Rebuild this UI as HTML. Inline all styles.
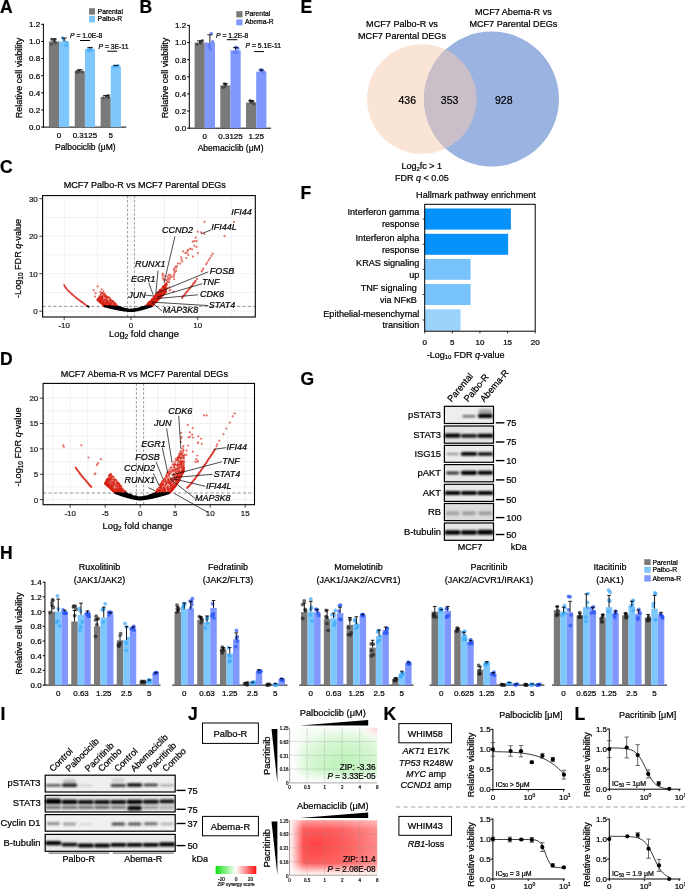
<!DOCTYPE html>
<html><head><meta charset="utf-8"><style>
html,body{margin:0;padding:0;background:#fff;}
svg{display:block;will-change:transform;}
text{font-family:"Liberation Sans", sans-serif;stroke:#000;stroke-width:0.22px;}
</style></head><body>
<svg width="685" height="890" viewBox="0 0 685 890">
<rect width="685" height="890" fill="#fff"/>
<text x="0" y="12.7" font-size="17.5" font-weight="bold">A</text>
<line x1="43.4" y1="23.8" x2="43.4" y2="127.6" stroke="#000" stroke-width="1"/>
<line x1="42.9" y1="127.1" x2="126.3" y2="127.1" stroke="#000" stroke-width="1"/>
<line x1="41.2" y1="127.1" x2="43.4" y2="127.1" stroke="#000" stroke-width="1"/>
<text x="40.2" y="130" font-size="8" text-anchor="end">0.0</text>
<line x1="41.2" y1="109.97" x2="43.4" y2="109.97" stroke="#000" stroke-width="1"/>
<text x="40.2" y="112.87" font-size="8" text-anchor="end">0.2</text>
<line x1="41.2" y1="92.83" x2="43.4" y2="92.83" stroke="#000" stroke-width="1"/>
<text x="40.2" y="95.73" font-size="8" text-anchor="end">0.4</text>
<line x1="41.2" y1="75.7" x2="43.4" y2="75.7" stroke="#000" stroke-width="1"/>
<text x="40.2" y="78.6" font-size="8" text-anchor="end">0.6</text>
<line x1="41.2" y1="58.56" x2="43.4" y2="58.56" stroke="#000" stroke-width="1"/>
<text x="40.2" y="61.46" font-size="8" text-anchor="end">0.8</text>
<line x1="41.2" y1="41.43" x2="43.4" y2="41.43" stroke="#000" stroke-width="1"/>
<text x="40.2" y="44.33" font-size="8" text-anchor="end">1.0</text>
<line x1="41.2" y1="24.3" x2="43.4" y2="24.3" stroke="#000" stroke-width="1"/>
<text x="40.2" y="27.2" font-size="8" text-anchor="end">1.2</text>
<rect x="48.9" y="41.43" width="10.15" height="85.67" fill="#7a7a7a"/>
<rect x="59.05" y="41.43" width="10.15" height="85.67" fill="#7dc7fd"/>
<circle cx="51.78" cy="39.29" r="1.6" fill="#4a4a4a" fill-opacity="0.85"/>
<circle cx="55.56" cy="42.94" r="1.6" fill="#4a4a4a" fill-opacity="0.85"/>
<circle cx="53.95" cy="41.74" r="1.6" fill="#4a4a4a" fill-opacity="0.85"/>
<circle cx="54.88" cy="39.65" r="1.6" fill="#4a4a4a" fill-opacity="0.85"/>
<circle cx="51.54" cy="44.34" r="1.6" fill="#4a4a4a" fill-opacity="0.85"/>
<line x1="53.98" y1="41.43" x2="53.98" y2="38.86" stroke="#000" stroke-width="0.9"/>
<line x1="51.38" y1="38.86" x2="56.58" y2="38.86" stroke="#000" stroke-width="0.9"/>
<circle cx="66.14" cy="41.98" r="1.6" fill="#52b2f7" fill-opacity="0.85"/>
<circle cx="65.7" cy="45.52" r="1.6" fill="#52b2f7" fill-opacity="0.85"/>
<circle cx="63.8" cy="39.61" r="1.6" fill="#52b2f7" fill-opacity="0.85"/>
<circle cx="62.5" cy="37.77" r="1.6" fill="#52b2f7" fill-opacity="0.85"/>
<circle cx="66.53" cy="45.29" r="1.6" fill="#52b2f7" fill-opacity="0.85"/>
<line x1="64.12" y1="41.43" x2="64.12" y2="38" stroke="#000" stroke-width="0.9"/>
<line x1="61.52" y1="38" x2="66.72" y2="38" stroke="#000" stroke-width="0.9"/>
<text x="59.05" y="138.3" font-size="8" text-anchor="middle">0</text>
<rect x="74.75" y="71.41" width="10.15" height="55.69" fill="#7a7a7a"/>
<rect x="84.9" y="49.14" width="10.15" height="77.96" fill="#7dc7fd"/>
<circle cx="76.98" cy="71.24" r="1.6" fill="#4a4a4a" fill-opacity="0.85"/>
<circle cx="82.46" cy="71.9" r="1.6" fill="#4a4a4a" fill-opacity="0.85"/>
<circle cx="78.12" cy="71.73" r="1.6" fill="#4a4a4a" fill-opacity="0.85"/>
<circle cx="77" cy="72.56" r="1.6" fill="#4a4a4a" fill-opacity="0.85"/>
<circle cx="79.45" cy="71.43" r="1.6" fill="#4a4a4a" fill-opacity="0.85"/>
<line x1="79.83" y1="71.41" x2="79.83" y2="69.7" stroke="#000" stroke-width="0.9"/>
<line x1="77.23" y1="69.7" x2="82.42" y2="69.7" stroke="#000" stroke-width="0.9"/>
<circle cx="88.37" cy="50.25" r="1.6" fill="#52b2f7" fill-opacity="0.85"/>
<circle cx="88.29" cy="49.31" r="1.6" fill="#52b2f7" fill-opacity="0.85"/>
<circle cx="88.71" cy="51.11" r="1.6" fill="#52b2f7" fill-opacity="0.85"/>
<circle cx="92" cy="48.91" r="1.6" fill="#52b2f7" fill-opacity="0.85"/>
<circle cx="90.83" cy="50.43" r="1.6" fill="#52b2f7" fill-opacity="0.85"/>
<line x1="89.98" y1="49.14" x2="89.98" y2="47.43" stroke="#000" stroke-width="0.9"/>
<line x1="87.38" y1="47.43" x2="92.58" y2="47.43" stroke="#000" stroke-width="0.9"/>
<text x="84.9" y="138.3" font-size="8" text-anchor="middle">0.3125</text>
<rect x="100.6" y="97.12" width="10.15" height="29.98" fill="#7a7a7a"/>
<rect x="110.75" y="66.27" width="10.15" height="60.83" fill="#7dc7fd"/>
<circle cx="108.63" cy="95.64" r="1.6" fill="#4a4a4a" fill-opacity="0.85"/>
<circle cx="103.4" cy="97.8" r="1.6" fill="#4a4a4a" fill-opacity="0.85"/>
<circle cx="107" cy="96.25" r="1.6" fill="#4a4a4a" fill-opacity="0.85"/>
<circle cx="108.29" cy="97.44" r="1.6" fill="#4a4a4a" fill-opacity="0.85"/>
<circle cx="107.66" cy="96.42" r="1.6" fill="#4a4a4a" fill-opacity="0.85"/>
<line x1="105.67" y1="97.12" x2="105.67" y2="95.4" stroke="#000" stroke-width="0.9"/>
<line x1="103.08" y1="95.4" x2="108.27" y2="95.4" stroke="#000" stroke-width="0.9"/>
<circle cx="114.65" cy="66.09" r="1.6" fill="#52b2f7" fill-opacity="0.85"/>
<circle cx="118.12" cy="65.56" r="1.6" fill="#52b2f7" fill-opacity="0.85"/>
<circle cx="115.86" cy="66.09" r="1.6" fill="#52b2f7" fill-opacity="0.85"/>
<circle cx="113.03" cy="66.8" r="1.6" fill="#52b2f7" fill-opacity="0.85"/>
<circle cx="117.61" cy="66.45" r="1.6" fill="#52b2f7" fill-opacity="0.85"/>
<line x1="115.83" y1="66.27" x2="115.83" y2="65.42" stroke="#000" stroke-width="0.9"/>
<line x1="113.23" y1="65.42" x2="118.42" y2="65.42" stroke="#000" stroke-width="0.9"/>
<text x="110.75" y="138.3" font-size="8" text-anchor="middle">5</text>
<text x="85.3" y="149.9" font-size="8.5" text-anchor="middle">Palbociclib (μM)</text>
<text x="21.5" y="78" font-size="9" text-anchor="middle" transform="rotate(-90 21.5 78)">Relative cell viability</text>
<rect x="89" y="8.2" width="6" height="6.4" fill="#7a7a7a"/>
<rect x="89" y="15.8" width="6" height="6.6" fill="#7dc7fd"/>
<text x="97.6" y="13.8" font-size="6.8">Parental</text>
<text x="97.6" y="21" font-size="6.8">Palbo-R</text>
<text x="70" y="38" font-size="6.8"><tspan font-style="italic">P</tspan> = 1.0E-8</text>
<line x1="80" y1="40.5" x2="90.1" y2="40.5" stroke="#000" stroke-width="1"/>
<text x="98.5" y="49" font-size="6.8"><tspan font-style="italic">P</tspan> = 3E-11</text>
<line x1="107.3" y1="51.2" x2="117.2" y2="51.2" stroke="#000" stroke-width="1"/>
<text x="139.5" y="12.7" font-size="17.5" font-weight="bold">B</text>
<line x1="189.3" y1="24.9" x2="189.3" y2="128.7" stroke="#000" stroke-width="1"/>
<line x1="188.8" y1="128.2" x2="271" y2="128.2" stroke="#000" stroke-width="1"/>
<line x1="187.1" y1="128.2" x2="189.3" y2="128.2" stroke="#000" stroke-width="1"/>
<text x="186.1" y="131.1" font-size="8" text-anchor="end">0.0</text>
<line x1="187.1" y1="111.07" x2="189.3" y2="111.07" stroke="#000" stroke-width="1"/>
<text x="186.1" y="113.97" font-size="8" text-anchor="end">0.2</text>
<line x1="187.1" y1="93.93" x2="189.3" y2="93.93" stroke="#000" stroke-width="1"/>
<text x="186.1" y="96.83" font-size="8" text-anchor="end">0.4</text>
<line x1="187.1" y1="76.8" x2="189.3" y2="76.8" stroke="#000" stroke-width="1"/>
<text x="186.1" y="79.7" font-size="8" text-anchor="end">0.6</text>
<line x1="187.1" y1="59.66" x2="189.3" y2="59.66" stroke="#000" stroke-width="1"/>
<text x="186.1" y="62.56" font-size="8" text-anchor="end">0.8</text>
<line x1="187.1" y1="42.53" x2="189.3" y2="42.53" stroke="#000" stroke-width="1"/>
<text x="186.1" y="45.43" font-size="8" text-anchor="end">1.0</text>
<line x1="187.1" y1="25.4" x2="189.3" y2="25.4" stroke="#000" stroke-width="1"/>
<text x="186.1" y="28.3" font-size="8" text-anchor="end">1.2</text>
<rect x="194.6" y="42.53" width="10.2" height="85.67" fill="#7a7a7a"/>
<rect x="204.8" y="42.53" width="10.2" height="85.67" fill="#8098fd"/>
<circle cx="202.44" cy="40.69" r="1.6" fill="#4a4a4a" fill-opacity="0.85"/>
<circle cx="197.04" cy="44.24" r="1.6" fill="#4a4a4a" fill-opacity="0.85"/>
<circle cx="201.71" cy="41.56" r="1.6" fill="#4a4a4a" fill-opacity="0.85"/>
<circle cx="200.72" cy="43.32" r="1.6" fill="#4a4a4a" fill-opacity="0.85"/>
<circle cx="200.34" cy="42.09" r="1.6" fill="#4a4a4a" fill-opacity="0.85"/>
<line x1="199.7" y1="42.53" x2="199.7" y2="40.82" stroke="#000" stroke-width="0.9"/>
<line x1="197.1" y1="40.82" x2="202.3" y2="40.82" stroke="#000" stroke-width="0.9"/>
<circle cx="210.39" cy="48.85" r="1.6" fill="#5a78f8" fill-opacity="0.85"/>
<circle cx="209.48" cy="44.5" r="1.6" fill="#5a78f8" fill-opacity="0.85"/>
<circle cx="211.24" cy="33.37" r="1.6" fill="#5a78f8" fill-opacity="0.85"/>
<circle cx="212.6" cy="41.71" r="1.6" fill="#5a78f8" fill-opacity="0.85"/>
<circle cx="209.57" cy="46.82" r="1.6" fill="#5a78f8" fill-opacity="0.85"/>
<line x1="209.9" y1="42.53" x2="209.9" y2="34.82" stroke="#000" stroke-width="0.9"/>
<line x1="207.3" y1="34.82" x2="212.5" y2="34.82" stroke="#000" stroke-width="0.9"/>
<text x="204.8" y="139.4" font-size="8" text-anchor="middle">0</text>
<rect x="220.3" y="85.36" width="10.2" height="42.84" fill="#7a7a7a"/>
<rect x="230.5" y="50.24" width="10.2" height="77.96" fill="#8098fd"/>
<circle cx="222.62" cy="87.31" r="1.6" fill="#4a4a4a" fill-opacity="0.85"/>
<circle cx="225.19" cy="86.11" r="1.6" fill="#4a4a4a" fill-opacity="0.85"/>
<circle cx="224.68" cy="83.75" r="1.6" fill="#4a4a4a" fill-opacity="0.85"/>
<circle cx="225.55" cy="85.12" r="1.6" fill="#4a4a4a" fill-opacity="0.85"/>
<circle cx="223.82" cy="87.32" r="1.6" fill="#4a4a4a" fill-opacity="0.85"/>
<line x1="225.4" y1="85.36" x2="225.4" y2="83.65" stroke="#000" stroke-width="0.9"/>
<line x1="222.8" y1="83.65" x2="228" y2="83.65" stroke="#000" stroke-width="0.9"/>
<circle cx="234.55" cy="52.48" r="1.6" fill="#5a78f8" fill-opacity="0.85"/>
<circle cx="235.66" cy="47.16" r="1.6" fill="#5a78f8" fill-opacity="0.85"/>
<circle cx="236.65" cy="52.2" r="1.6" fill="#5a78f8" fill-opacity="0.85"/>
<circle cx="237.96" cy="48.41" r="1.6" fill="#5a78f8" fill-opacity="0.85"/>
<circle cx="237.01" cy="47.73" r="1.6" fill="#5a78f8" fill-opacity="0.85"/>
<line x1="235.6" y1="50.24" x2="235.6" y2="47.67" stroke="#000" stroke-width="0.9"/>
<line x1="233" y1="47.67" x2="238.2" y2="47.67" stroke="#000" stroke-width="0.9"/>
<text x="230.5" y="139.4" font-size="8" text-anchor="middle">0.3125</text>
<rect x="246" y="102.5" width="10.2" height="25.7" fill="#7a7a7a"/>
<rect x="256.2" y="71.66" width="10.2" height="56.54" fill="#8098fd"/>
<circle cx="252.68" cy="101.31" r="1.6" fill="#4a4a4a" fill-opacity="0.85"/>
<circle cx="250.22" cy="100.52" r="1.6" fill="#4a4a4a" fill-opacity="0.85"/>
<circle cx="253.87" cy="103.89" r="1.6" fill="#4a4a4a" fill-opacity="0.85"/>
<circle cx="252.62" cy="101.61" r="1.6" fill="#4a4a4a" fill-opacity="0.85"/>
<circle cx="250.87" cy="102.37" r="1.6" fill="#4a4a4a" fill-opacity="0.85"/>
<line x1="251.1" y1="102.5" x2="251.1" y2="100.79" stroke="#000" stroke-width="0.9"/>
<line x1="248.5" y1="100.79" x2="253.7" y2="100.79" stroke="#000" stroke-width="0.9"/>
<circle cx="261.24" cy="69.91" r="1.6" fill="#5a78f8" fill-opacity="0.85"/>
<circle cx="261.31" cy="70.29" r="1.6" fill="#5a78f8" fill-opacity="0.85"/>
<circle cx="260.42" cy="70.08" r="1.6" fill="#5a78f8" fill-opacity="0.85"/>
<circle cx="263.7" cy="71.82" r="1.6" fill="#5a78f8" fill-opacity="0.85"/>
<circle cx="261.71" cy="69.93" r="1.6" fill="#5a78f8" fill-opacity="0.85"/>
<line x1="261.3" y1="71.66" x2="261.3" y2="69.94" stroke="#000" stroke-width="0.9"/>
<line x1="258.7" y1="69.94" x2="263.9" y2="69.94" stroke="#000" stroke-width="0.9"/>
<text x="256.2" y="139.4" font-size="8" text-anchor="middle">1.25</text>
<text x="230.6" y="150.5" font-size="8.5" text-anchor="middle">Abemaciclib (μM)</text>
<text x="167.5" y="78" font-size="9" text-anchor="middle" transform="rotate(-90 167.5 78)">Relative cell viability</text>
<rect x="236.3" y="11.2" width="6.2" height="6.2" fill="#7a7a7a"/>
<rect x="236.3" y="19.4" width="6.2" height="5.9" fill="#8098fd"/>
<text x="245" y="16.4" font-size="6.8">Parental</text>
<text x="245" y="23.8" font-size="6.8">Abema-R</text>
<text x="216" y="37.7" font-size="6.8"><tspan font-style="italic">P</tspan> = 1.2E-8</text>
<line x1="226.8" y1="39.7" x2="237.3" y2="39.7" stroke="#000" stroke-width="1"/>
<text x="245.5" y="48.4" font-size="6.8"><tspan font-style="italic">P</tspan> = 5.1E-11</text>
<line x1="254.1" y1="51.6" x2="264" y2="51.6" stroke="#000" stroke-width="1"/>
<text x="300.5" y="13" font-size="17.5" font-weight="bold">E</text>
<circle cx="421.8" cy="99" r="54.8" fill="#fae4d6"/>
<circle cx="491.5" cy="99" r="67.5" fill="#9bb3e0"/>
<clipPath id="co"><circle cx="421.8" cy="99" r="54.8"/></clipPath>
<circle cx="491.5" cy="99" r="67.5" fill="#cabec8" clip-path="url(#co)"/>
<text x="402" y="26.9" font-size="9.1" text-anchor="middle">MCF7 Palbo-R vs</text>
<text x="402" y="39.4" font-size="9.1" text-anchor="middle">MCF7 Parental DEGs</text>
<text x="513.4" y="15.4" font-size="9.1" text-anchor="middle">MCF7 Abema-R vs</text>
<text x="513.4" y="26.8" font-size="9.1" text-anchor="middle">MCF7 Parental DEGs</text>
<text x="407.3" y="103.6" font-size="10.5" text-anchor="middle">436</text>
<text x="449.6" y="103.6" font-size="10.5" text-anchor="middle">353</text>
<text x="503.8" y="103.6" font-size="10.5" text-anchor="middle">928</text>
<text x="421.8" y="169.4" font-size="9" text-anchor="middle">Log<tspan font-size="6" dy="1.5">2</tspan><tspan dy="-1.5">fc &gt; 1</tspan></text>
<text x="421.8" y="180.6" font-size="9" text-anchor="middle">FDR <tspan font-style="italic">q</tspan> &lt; 0.05</text>
<text x="300.5" y="198.6" font-size="17.5" font-weight="bold">F</text>
<text x="476" y="197.7" font-size="9.1" text-anchor="middle">Hallmark pathway enrichment</text>
<rect x="424.7" y="208.5" width="86.19" height="21.1" fill="#0592fb"/>
<line x1="422.7" y1="219.05" x2="424.7" y2="219.05" stroke="#000" stroke-width="0.8"/>
<rect x="424.7" y="233.8" width="83.43" height="21" fill="#0592fb"/>
<line x1="422.7" y1="244.3" x2="424.7" y2="244.3" stroke="#000" stroke-width="0.8"/>
<rect x="424.7" y="259" width="45.86" height="20.8" fill="#79c3fc"/>
<line x1="422.7" y1="269.4" x2="424.7" y2="269.4" stroke="#000" stroke-width="0.8"/>
<rect x="424.7" y="284" width="45.86" height="21" fill="#79c3fc"/>
<line x1="422.7" y1="294.5" x2="424.7" y2="294.5" stroke="#000" stroke-width="0.8"/>
<rect x="424.7" y="309.3" width="35.91" height="21.4" fill="#9bd3fd"/>
<line x1="422.7" y1="320" x2="424.7" y2="320" stroke="#000" stroke-width="0.8"/>
<rect x="424.7" y="204.3" width="110.5" height="126.9" fill="none" stroke="#000" stroke-width="1"/>
<line x1="424.7" y1="331.2" x2="424.7" y2="333.4" stroke="#000" stroke-width="0.8"/>
<text x="424.7" y="345.3" font-size="8" text-anchor="middle">0</text>
<line x1="452.32" y1="331.2" x2="452.32" y2="333.4" stroke="#000" stroke-width="0.8"/>
<text x="452.32" y="345.3" font-size="8" text-anchor="middle">5</text>
<line x1="479.95" y1="331.2" x2="479.95" y2="333.4" stroke="#000" stroke-width="0.8"/>
<text x="479.95" y="345.3" font-size="8" text-anchor="middle">10</text>
<line x1="507.58" y1="331.2" x2="507.58" y2="333.4" stroke="#000" stroke-width="0.8"/>
<text x="507.58" y="345.3" font-size="8" text-anchor="middle">15</text>
<line x1="535.2" y1="331.2" x2="535.2" y2="333.4" stroke="#000" stroke-width="0.8"/>
<text x="535.2" y="345.3" font-size="8" text-anchor="middle">20</text>
<text x="465.6" y="357.8" font-size="9" text-anchor="middle">-Log<tspan font-size="6" dy="1.5">10</tspan><tspan dy="-1.5"> FDR </tspan><tspan font-style="italic">q</tspan>-value</text>
<text x="419.3" y="215.4" font-size="9.1" text-anchor="end">Interferon gamma</text>
<text x="419.3" y="227.2" font-size="9.1" text-anchor="end">response</text>
<text x="419.3" y="240.6" font-size="9.1" text-anchor="end">Interferon alpha</text>
<text x="419.3" y="252.6" font-size="9.1" text-anchor="end">response</text>
<text x="419.3" y="265.7" font-size="9.1" text-anchor="end">KRAS signaling</text>
<text x="419.3" y="277.6" font-size="9.1" text-anchor="end">up</text>
<text x="419.3" y="291.1" font-size="9.1" text-anchor="end">TNF&#160;signaling&#160;</text>
<text x="419.3" y="302.5" font-size="9.1" text-anchor="end">via&#160;NFκB&#160;</text>
<text x="419.3" y="316.5" font-size="9.1" text-anchor="end">Epithelial-mesenchymal</text>
<text x="419.3" y="327.9" font-size="9.1" text-anchor="end">transition</text>
<text x="0" y="173" font-size="17.5" font-weight="bold">C</text>
<g>
<line x1="64.2" y1="195.6" x2="64.2" y2="317" stroke="#ebebeb" stroke-width="0.7"/>
<line x1="97.6" y1="195.6" x2="97.6" y2="317" stroke="#ebebeb" stroke-width="0.7"/>
<line x1="131" y1="195.6" x2="131" y2="317" stroke="#ebebeb" stroke-width="0.7"/>
<line x1="164.4" y1="195.6" x2="164.4" y2="317" stroke="#ebebeb" stroke-width="0.7"/>
<line x1="197.8" y1="195.6" x2="197.8" y2="317" stroke="#ebebeb" stroke-width="0.7"/>
<line x1="231.2" y1="195.6" x2="231.2" y2="317" stroke="#ebebeb" stroke-width="0.7"/>
<line x1="42.6" y1="311.2" x2="255.3" y2="311.2" stroke="#ebebeb" stroke-width="0.7"/>
<line x1="42.6" y1="292.45" x2="255.3" y2="292.45" stroke="#ebebeb" stroke-width="0.7"/>
<line x1="42.6" y1="273.7" x2="255.3" y2="273.7" stroke="#ebebeb" stroke-width="0.7"/>
<line x1="42.6" y1="254.95" x2="255.3" y2="254.95" stroke="#ebebeb" stroke-width="0.7"/>
<line x1="42.6" y1="236.2" x2="255.3" y2="236.2" stroke="#ebebeb" stroke-width="0.7"/>
<line x1="42.6" y1="217.45" x2="255.3" y2="217.45" stroke="#ebebeb" stroke-width="0.7"/>
<line x1="42.6" y1="198.7" x2="255.3" y2="198.7" stroke="#ebebeb" stroke-width="0.7"/>
</g>
<text x="144.8" y="187.7" font-size="9.1" text-anchor="middle">MCF7 Palbo-R vs MCF7 Parental DEGs</text>
<line x1="39.3" y1="311.2" x2="42.6" y2="311.2" stroke="#333" stroke-width="0.9"/>
<text x="37.8" y="314.1" font-size="8" text-anchor="end" fill="#3a3a3a" stroke="#3a3a3a">0</text>
<line x1="39.3" y1="273.7" x2="42.6" y2="273.7" stroke="#333" stroke-width="0.9"/>
<text x="37.8" y="276.6" font-size="8" text-anchor="end" fill="#3a3a3a" stroke="#3a3a3a">10</text>
<line x1="39.3" y1="236.2" x2="42.6" y2="236.2" stroke="#333" stroke-width="0.9"/>
<text x="37.8" y="239.1" font-size="8" text-anchor="end" fill="#3a3a3a" stroke="#3a3a3a">20</text>
<line x1="39.3" y1="198.7" x2="42.6" y2="198.7" stroke="#333" stroke-width="0.9"/>
<text x="37.8" y="201.6" font-size="8" text-anchor="end" fill="#3a3a3a" stroke="#3a3a3a">30</text>
<line x1="64.2" y1="317" x2="64.2" y2="320" stroke="#333" stroke-width="0.9"/>
<text x="64.2" y="328.2" font-size="8" text-anchor="middle" fill="#3a3a3a" stroke="#3a3a3a">-10</text>
<line x1="131" y1="317" x2="131" y2="320" stroke="#333" stroke-width="0.9"/>
<text x="131" y="328.2" font-size="8" text-anchor="middle" fill="#3a3a3a" stroke="#3a3a3a">0</text>
<line x1="197.8" y1="317" x2="197.8" y2="320" stroke="#333" stroke-width="0.9"/>
<text x="197.8" y="328.2" font-size="8" text-anchor="middle" fill="#3a3a3a" stroke="#3a3a3a">10</text>
<text x="21.2" y="258.4" font-size="9.1" text-anchor="middle" transform="rotate(-90 21.2 258.4)">-Log<tspan font-size="6.5" dy="1.5">10</tspan><tspan dy="-1.5"> FDR </tspan><tspan font-style="italic">q</tspan>-value</text>
<text x="144" y="337" font-size="9.3" text-anchor="middle">Log<tspan font-size="6.5" dy="1.5">2</tspan><tspan dy="-1.5"> fold change</tspan></text>
<line x1="127.6" y1="195.6" x2="127.6" y2="317" stroke="#555" stroke-width="0.6" stroke-dasharray="2.6,1.8"/>
<line x1="134.4" y1="195.6" x2="134.4" y2="317" stroke="#555" stroke-width="0.6" stroke-dasharray="2.6,1.8"/>
<line x1="42.6" y1="306.4" x2="255.3" y2="306.4" stroke="#666" stroke-width="0.7" stroke-dasharray="3.2,2.2"/>
<path d="M110.19 303.31h0M102.63 303.02h0M108.72 303.08h0M107.95 297.92h0M111.16 299.68h0M108.92 304.4h0M114.16 305.44h0M97.49 299.67h0M110.25 297.8h0M105.49 295.97h0M98.47 300.68h0M113.13 301.46h0M98.21 300.6h0M99.56 301.71h0M99.76 300.56h0M100.95 299.22h0M99.87 302.04h0M103.83 304.36h0M100.55 302.74h0M115.6 305.76h0M101.91 297.85h0M104.04 303.06h0M106.84 306h0M99.39 297.22h0M114.61 306.11h0M101.05 297.24h0M97.48 299.84h0M111.01 305.26h0M101.17 302.1h0M99.16 297.89h0M103.55 296.31h0M107.31 302.09h0M99.98 301.89h0M110.04 299.39h0M104.89 304.3h0M101.78 303.48h0M98.45 300.25h0M108.73 303.07h0M103.86 305.66h0M108.02 301.31h0M105.85 300.85h0M98.93 300.9h0M103.3 303.28h0M109.11 297.39h0M102.36 300.63h0M114.19 305.03h0M110.59 299.67h0M110.21 303.96h0M113.31 301.21h0M110.63 302.4h0M106.39 296.83h0M115.14 303.78h0M104.79 302.64h0M115.11 304.9h0M100.3 302.57h0M103.67 291.07h0M112.4 301.48h0M99.91 301.69h0M110.25 303.33h0M101.35 303.51h0M102.24 296.7h0M113.97 303.38h0M110.64 299.22h0M98.73 299.13h0M115.93 304.89h0M100.42 298.84h0M116.12 304.2h0M97.55 299.81h0M100.29 300.78h0M108.5 302.8h0M105.87 303.39h0M105.52 296.94h0M108.42 301.2h0M101.67 299.65h0M107.1 300.12h0M103.09 305.25h0M102.24 293h0M104.35 297.1h0M103.37 300.6h0M105.64 303.85h0M100.7 301.54h0M110.45 300.75h0M109.88 299.85h0M99.06 300.18h0M102.87 305.04h0M102 292.83h0M98.92 301.34h0M110.58 305.81h0M100.83 300.91h0M97.99 299.28h0M98.39 300.08h0M109.88 305.84h0M103.49 303.42h0M117.29 306.2h0M98.19 299.88h0M110.57 305.79h0M104.92 304.34h0M98.04 300.24h0M101.39 300.65h0M99.53 299.66h0M101.56 303.55h0M98.19 299.76h0M115.65 304.11h0M100.29 302.35h0M157.99 299.6h0M152.06 304.76h0M147.8 304.8h0M151.89 302.34h0M158.46 297.61h0M151.87 300.55h0M159.72 291h0M162.79 288.36h0M150.36 305.44h0M154.87 301.09h0M164.6 293.25h0M152.23 299.13h0M156.45 299.46h0M164.74 285.46h0M166.13 289.79h0M163.18 290.21h0M152.6 300.29h0M158.33 291.51h0M161.54 291.18h0M151.48 306.27h0M163.65 289.73h0M165.25 287.39h0M164.77 292.29h0M163.56 291.32h0M164.22 287.14h0M159.75 296h0M163.74 293.54h0M151.75 302.75h0M152.83 298.76h0M153.79 303.1h0M152.99 301.95h0M155.03 300.13h0M165.52 288.62h0M151.97 301.81h0M154.88 298.82h0M165.59 284.64h0M165.54 289.31h0M148.39 303.65h0M148.34 304.05h0M158.05 297.86h0M159.86 290.45h0M164.64 291.02h0M150.94 303.29h0M152.71 302.61h0M150.68 304.46h0M148.49 303.83h0M152.27 298.81h0M152.48 301.76h0M163.32 286.82h0M152.98 303.5h0M157.71 299.94h0M164.27 285.84h0M164.37 290.69h0M150.82 302.71h0M160.31 293.57h0M163.82 290h0M156.81 300.98h0M165.37 284.92h0M164.43 292.93h0M156.96 298.11h0M154.9 302.33h0M153.08 304.64h0M163.31 291.7h0M163.7 293.87h0M155.98 302.17h0M152.82 301.8h0M159.46 297.32h0M157.35 296.49h0M154.96 300.81h0M161.97 294.17h0M151.91 300.06h0M159.85 298.08h0M148.28 303.01h0M161.02 293.53h0M150.4 303.72h0M156.63 301.35h0M161.01 296.95h0M160.07 297.48h0M148.41 305.87h0M150.68 302.6h0M158.59 294.74h0M148.79 304.21h0M164.55 289.4h0M156.36 300.5h0M161 296.22h0M159.25 298.39h0M158.74 295.21h0M158.83 294.64h0M161.93 296.41h0M166.09 284.66h0M157.69 299.96h0M150.45 301.14h0M158 295.87h0M165.12 288.01h0M165.03 290.44h0M151.7 304.35h0M161.29 290.68h0M160.61 297.24h0M151.07 301.13h0M158.59 294.78h0M153.4 303.23h0M149.62 305.87h0M161.49 295.57h0M164.54 291.02h0M158.51 299.61h0M151.99 302.96h0M162.98 291.15h0M161.96 296.03h0M147.57 304.35h0M150.32 304.5h0M150.22 303.87h0M158.54 296.03h0M163.14 287.73h0M163.34 293.45h0M146.19 306.02h0M163.26 292.71h0M148.76 303.99h0M147.41 306.04h0M154.41 303.01h0M153.59 299.57h0M164.81 291.25h0M153.34 297.62h0M152.89 300.99h0M159.78 293.98h0M158.53 299.25h0M161.11 296.27h0M153.4 302.72h0M161.49 294.37h0M165.13 284.52h0M166.24 289.64h0M153.2 304.83h0M159.46 293.3h0M151.8 299.23h0M153.97 296.57h0M150.82 303.36h0M150.66 301.8h0M148.06 306.05h0M146.69 305.53h0M153.03 302.54h0M148.81 303.99h0M147.64 303.74h0M157.35 297.26h0M150.86 303.18h0M158.03 295.51h0M150.25 302.39h0M165.24 288.69h0M156.69 293.43h0M155.8 302.08h0M154.58 295.92h0M164.05 290.8h0M157.04 294.21h0M152.27 305.84h0M160.25 297.49h0M152.56 301.04h0M165.34 288.32h0M165.93 284.01h0M158.43 291.6h0M159.35 298.62h0M148.65 306.13h0M149.98 305.59h0M159.63 297.91h0M150.1 306.21h0M156.23 299.18h0M147.56 305.09h0M166.01 290.74h0M154.5 299.16h0M159.8 296.97h0M149.31 301.8h0M154.95 299.97h0M149.45 305.49h0M150.98 303.76h0M160.88 295.29h0M161.31 296.02h0M149.06 302.26h0M158.07 297.33h0M149.91 305.98h0M165.18 289.06h0M152.42 305.33h0M154.67 300.92h0M157.72 299.94h0M154.38 303.31h0" stroke="#d6180a" stroke-opacity="0.65" stroke-width="1.7" stroke-linecap="round" fill="none"/>
<path d="M111.81 302.79h0M104.26 304.78h0M112.51 305.92h0M115.68 306.29h0M105.99 304.91h0M104.95 299.93h0M100.56 302.76h0M103.18 303.3h0M97.78 299.76h0M114.25 302.58h0M110.29 300.27h0M114.83 303.56h0M111.3 305.49h0M109.65 304.16h0M99.57 301.68h0M111.79 303.31h0M101.88 298.43h0M100.93 300.03h0M104.98 300.51h0M105.93 296.8h0M99.81 301.78h0M102.24 296.28h0M100.21 299.66h0M100.56 302.09h0M103.69 292.94h0M99.43 301.79h0M101.82 302.96h0M111.6 301.36h0M104.51 299.56h0M98.61 300.8h0M103.32 294.9h0M103.15 304.85h0M105.32 306.1h0M103.1 301.93h0M97.52 299.8h0M107.65 303.7h0M106.96 305.72h0M117.04 306.16h0M107.59 305.65h0M98.72 300.75h0M101.88 303.9h0M108.47 306.24h0M106.45 298.79h0M103.54 305.25h0M105.33 305.89h0M111.3 304.37h0M98.48 299.5h0M100.51 295.59h0M106.48 295.75h0M105.32 295.84h0M100.21 301.94h0M100.6 294.39h0M112.18 306.13h0M106.33 302.76h0M103.23 303.95h0M111.37 302.71h0M99.05 300.9h0M117.7 305.81h0M102.65 300.19h0M106.87 300.46h0M97.84 300.24h0M107.06 301.38h0M117.11 305.51h0M101.02 302.65h0M111.17 306.21h0M102.54 303.75h0M102.17 293.18h0M106.5 304.62h0M98.9 299.74h0M100.01 300.89h0M108.34 303.24h0M104.79 305.84h0M106.78 303.67h0M103.17 305.19h0M112.7 306.24h0M98.38 300.58h0M100.19 299.56h0M97.66 299.87h0M118.11 306.31h0M98.89 301.13h0M106.09 301.65h0M107.66 303.68h0M111.67 305.31h0M101.53 297.84h0M113.45 305.8h0M108.95 303.11h0M107.44 304.05h0M99.61 301.58h0M111.8 303.88h0M103.7 305.87h0M103.38 302.95h0M97.84 298.79h0M101.83 304.01h0M100.67 302.62h0M106.99 301.01h0M106.49 306.22h0M107.7 306.15h0M98.25 300.18h0M116.81 306.15h0M102.04 302.84h0M104.25 304.46h0M98.46 299.96h0M105.35 303.67h0M110.75 304.89h0M156.85 301.29h0M151.43 306.24h0M149.31 304.03h0M160.47 295.93h0M155.21 298.35h0M158.16 299.36h0M164.86 284.91h0M145.86 305.7h0M150.65 304.65h0M151.6 303.94h0M157.15 299.98h0M163.04 288.49h0M158.1 297.31h0M161.06 290.85h0M154.51 299.29h0M161.79 292.66h0M159.76 289.92h0M162.62 293.58h0M165.92 286.09h0M164.65 293.39h0M156.48 297.11h0M151.75 306.11h0M152.44 299.41h0M154.31 303.64h0M156.62 294.01h0M160.65 291.27h0M145.85 306.29h0M160.92 289.34h0M158 299.41h0M157.68 299.5h0M153.8 298.27h0M162.33 287.63h0M158.16 298.93h0M158.79 297.37h0M165.24 290.22h0M153.48 302.42h0M155.32 302.1h0M153.97 298.14h0M151.72 306.1h0M155.09 295.14h0M158.18 297.42h0M163.09 286.55h0M160.93 294.38h0M155.62 295.88h0M164.8 293.27h0M154.52 303.21h0M161.18 293.73h0M162.93 293.9h0M151.95 305.97h0M164.82 291.81h0M156.67 301.23h0M150.3 303.06h0M154.18 303.35h0M148.82 304.41h0M164.7 293.05h0M157.39 295.71h0M145.67 306.28h0M160.44 292.28h0M161.95 294.64h0M160.48 291.77h0M152.13 301.51h0M163.63 288.25h0M158.6 296.97h0M151.66 304.75h0M153.35 304.69h0M161.93 287.85h0M158.61 298.18h0M152.07 302.26h0M155.29 295.02h0M154.78 297.98h0M152.69 300.58h0M165.71 290.9h0M158.98 296.01h0M163.27 286.4h0M157.03 299.51h0M160.66 293.04h0M156.24 296.99h0M152.6 305.33h0M160.67 295.83h0M166.17 291.25h0M146.39 305.66h0M163.37 288.05h0M152.67 303.07h0M161.55 295.6h0M165.52 284.27h0M159.35 297.82h0M164.76 284.55h0M151.31 300.13h0M146.14 305.69h0M157.19 295.07h0M154.19 300.27h0M162.53 295.75h0M150.63 303.12h0M157.51 298.19h0M165.26 286.93h0M165.18 287.47h0M146.7 305.41h0M155.05 301.71h0M153.86 299.27h0M160.34 295.48h0M151.61 305.73h0M149.37 304.92h0M152.55 305.24h0M160.76 294.88h0M150.55 305.17h0M165.93 290.9h0M151.35 305.94h0M152.31 299.63h0M165.53 288.19h0M164.37 290.41h0M162.05 293.7h0M154.26 302.98h0M154.05 299.09h0M155.27 302.63h0M165.97 292.23h0M149.98 305.92h0M162.56 286.79h0M161.72 294.52h0M158.57 294.28h0M148.9 304.19h0M150.57 301.86h0M150.08 304.86h0M148.18 303.36h0M159.12 297.4h0M154.03 303.02h0M159.92 298.18h0M147.34 305.27h0M154.03 303.17h0M154.16 302.96h0M165.18 289.55h0M154.12 300.39h0M164.99 292.5h0M158.62 299.38h0M163.31 293.28h0M153.25 303.72h0M155.99 299.06h0M161.88 288.95h0M164.45 285.62h0M156.75 295.49h0M164.03 292.33h0M148.1 305.81h0M165.56 292.07h0M164.25 290.88h0M156.02 294.37h0M147.53 305.72h0M160.67 291.41h0M159.25 290.42h0M155.67 302.49h0M154.61 303.32h0M148.72 302.6h0M155.88 299.21h0M161.8 295.95h0M159.92 290.94h0M157.36 297.27h0M161.55 294.81h0M156.15 301.85h0M158.73 298.38h0M148.72 303.99h0M149.45 302.28h0M150.26 302.51h0M147.39 306.06h0M149.07 304.49h0M162.29 295.82h0M154.27 302.93h0M152.59 304.45h0M152.6 299.23h0M148.43 305.39h0M161.12 297.04h0M158.12 299.52h0M162.13 288.71h0M162.79 292.51h0M158.31 298.2h0M150.89 304.2h0M160.42 290.63h0M152.24 304.66h0M163.12 294.99h0M163.24 293.71h0M160.6 296.72h0M160.7 297.39h0M165.5 283.75h0M158.41 298.49h0" stroke="#d6180a" stroke-opacity="0.65" stroke-width="1.7" stroke-linecap="round" fill="none"/>
<path d="M103.79 304.11h0M97.87 299.06h0M109.88 305.35h0M97.77 299.35h0M111.83 303h0M101.28 302.44h0M103.32 305.07h0M114.2 302.2h0M105.54 305.43h0M99.61 300.26h0M98.77 297.55h0M112.98 301.04h0M109.56 306.17h0M108.09 304.83h0M99.78 301.68h0M107.88 306.14h0M114.67 305.71h0M103.03 305.14h0M104.5 306.22h0M108.72 305.08h0M100.23 301.33h0M112.81 305.17h0M103.16 303.77h0M102.45 297.84h0M103.6 305.72h0M107.48 302.8h0M102.78 302.3h0M98.91 299.4h0M101.28 301.32h0M107.55 305.15h0M100.49 299.06h0M107.23 296.86h0M103.43 294.18h0M109.27 303.93h0M99.42 297.39h0M105.83 303.38h0M98.18 298.38h0M110.28 301.49h0M103.1 304.77h0M98.35 300.62h0M97.79 299.75h0M98.82 300.46h0M109.8 299.76h0M116.18 305.92h0M99.33 301.53h0M109.69 304.08h0M98.45 300.58h0M97.48 299.77h0M102.56 304.75h0M109.61 304.12h0M104.15 299.36h0M103.33 304.25h0M99.2 298.07h0M115.84 306.21h0M106.48 303.39h0M108.65 302.98h0M111.89 300.61h0M99.17 300.81h0M108.9 305.34h0M102.21 292.41h0M98.38 300.49h0M98.49 298.77h0M98.66 301.03h0M99.47 301.62h0M101.13 296.23h0M113.25 301.42h0M104.39 306.13h0M102.49 295.49h0M98.09 299.89h0M98.13 300.34h0M104.82 296.22h0M105.23 306.32h0M113 303.99h0M114.75 303.52h0M102.74 298.38h0M109.55 306.17h0M99.74 298.37h0M99.01 298.28h0M105.02 305.79h0M106.29 301.22h0M101.31 302.33h0M107.27 300.78h0M108.43 302.76h0M102.74 300.61h0M107.71 305.76h0M98.41 299.59h0M100.77 297.07h0M99.36 296.09h0M104.34 301.46h0M113.01 301.61h0M105.23 306.04h0M113.98 305.23h0M97.86 299.14h0M100.79 302.82h0M110.41 301.3h0M103.56 303.7h0M102.25 297.56h0M97.66 300.12h0M101.47 300.64h0M109.38 299.84h0M98.62 297.97h0M107.1 297.15h0M102.75 298.25h0M163.58 293.42h0M159.32 297.48h0M166.24 288.42h0M151.27 301.78h0M160.14 289.58h0M150.93 306.29h0M158.9 299.04h0M166.19 291.56h0M159.94 298.06h0M157.68 297.95h0M161.46 296.77h0M162.05 290.26h0M152.61 304.31h0M149.54 304.15h0M160.53 297.49h0M153.76 304.35h0M152.68 304.02h0M161.51 292.79h0M159.54 297.41h0M151.11 303.4h0M148.43 306.11h0M158.29 296.51h0M164.75 292.25h0M155.91 301.57h0M150.68 304.4h0M159.44 295.05h0M158.21 297.73h0M161.2 294.65h0M145.4 306.1h0M154.97 296.52h0M164.12 287.53h0M146.38 305.62h0M151.33 304.09h0M146.37 306.2h0M152.4 302.16h0M149 306.26h0M150.6 302.26h0M150.53 304.35h0M163.15 290.35h0M157.53 292.29h0M160.6 291.7h0M155.36 301.61h0M152.28 303.13h0M165.99 285.49h0M153.47 299.87h0M165.37 286.51h0M156.37 300.01h0M151.48 306.09h0M156.36 299.98h0M157.68 300.34h0M150.08 303.83h0M148.88 305.5h0M146.55 306.16h0M147.9 303.18h0M154.39 296.77h0M153.78 300.3h0M152.33 305.59h0M160.74 292.56h0M165.56 290.16h0M152.43 302.39h0M160.02 297.43h0M149.94 301.85h0M158.57 297.53h0M153.36 301.66h0M152.15 300.37h0M147.06 304.19h0M165.05 288.86h0M148.65 303.83h0M149.85 301.45h0M152.85 301.9h0M159.9 290.62h0M165.61 292.53h0M159.82 298.45h0M156.53 301.33h0M158.22 295.03h0M146.5 305.66h0M149.1 303.29h0M165.65 283.77h0M165.01 286.98h0M165.29 286.3h0M151.01 305.15h0M156.58 296.99h0M156.85 296.25h0M145.4 306.15h0M152.86 304.43h0M153.18 303.51h0M152.08 302.13h0M165.24 284.9h0M156.23 299.66h0M154.33 298.46h0M155.15 296.95h0M163.24 294.42h0M164.66 292.28h0M149.45 302.99h0M148.81 304.92h0M147.99 303.18h0M165.43 292.82h0M165.76 286.05h0M153.45 298.01h0M157.78 293.22h0M155.24 302.31h0M149.95 306.09h0M157.11 298.78h0M161.13 289.01h0M157.97 298.38h0M154.2 302.9h0M157.29 299.54h0M164.33 293.87h0M148.94 306.13h0M149.46 305.76h0M156.75 300.41h0M163.71 292.5h0M157.14 293.21h0M160.25 291.55h0M157.41 295.73h0M155.19 298.49h0M154.27 302.44h0M155.77 298.2h0M164.77 286.38h0M164.22 288.51h0M164.67 288.1h0M166.03 286.78h0M159.78 293.82h0M148.69 305.01h0M155.12 298.34h0M153.46 304.12h0M165.24 292.42h0M166.31 282.63h0M161.2 295.96h0M166.2 288.67h0M160.45 292.07h0M160.32 292.89h0M157.72 293.72h0M155.77 302.32h0M160.49 292.17h0M161.71 290.06h0M153.94 296.83h0M157.29 293.47h0M150.19 305.41h0M163.84 285.72h0M165.57 287.65h0M157.43 293.64h0M151.54 302.71h0M150.36 304.13h0M154.6 297.11h0M150.79 300.68h0M147.74 304.92h0M158.31 297.94h0M153.92 298.64h0M148.31 306.03h0M147.81 304.09h0M165.76 292.42h0M165.92 283.35h0M160.37 295.96h0M149.49 305.74h0M164.3 293.67h0M151.71 303.82h0M150.2 304.95h0M165.58 291.23h0M148.49 305.06h0M157.78 298.61h0M162.9 289.64h0M156.95 299.01h0M150.26 303.74h0M154.8 296.36h0M162 289.4h0M162.99 294.1h0M156.64 294.73h0M157.91 292.45h0M153.52 298.26h0M163.31 286h0M153.76 301.83h0M148.52 306.2h0M158.58 298.75h0M160.83 295.58h0M159.25 293.12h0M158.35 295.29h0M145.8 305.62h0M150.42 305.77h0M160.63 296.91h0M145.67 306.1h0M151.64 304.45h0" stroke="#d6180a" stroke-opacity="0.65" stroke-width="1.7" stroke-linecap="round" fill="none"/>
<path d="M113.95 304.24h0M103.01 305.12h0M104.34 295.03h0M114.63 306.03h0M104.62 300.99h0M97.59 299.88h0M99.03 297.32h0M105.8 296.02h0M103.47 304.5h0M98.37 298.26h0M99.41 297.38h0M115.15 302.88h0M108.74 302.21h0M100.11 297.02h0M109.08 302.83h0M99.2 300.41h0M108.49 296.86h0M116.69 305.75h0M102.75 297.88h0M102.21 303.73h0M107.25 300.42h0M112.76 301.05h0M102.26 304.36h0M101.91 299.05h0M101.05 293.89h0M110.02 305.16h0M98.12 299.7h0M107.19 303.95h0M105.19 305.98h0M107.11 296.81h0M101.66 299.37h0M106.24 302.77h0M98.15 300.14h0M102.76 297.31h0M115.36 305.9h0M102.48 299.41h0M110.53 304.8h0M103.09 302.15h0M109.25 302.17h0M97.99 300.26h0M99.96 301.46h0M97.85 300.01h0M101.5 301.81h0M107.67 302.11h0M100.86 301.82h0M103.25 305.32h0M97.83 299.89h0M98.8 300.98h0M109.1 302.37h0M109.31 304.31h0M101.78 303.19h0M101.94 300.36h0M105.46 298.73h0M105.28 298.7h0M103.15 305.12h0M106.75 298.42h0M105.46 305.2h0M103.96 305.01h0M100.66 298.07h0M110.89 305.31h0M108.18 305.52h0M107.56 305.38h0M106.11 299.48h0M101.1 302.7h0M97.96 300.13h0M99.08 298.52h0M116.9 305.8h0M104.85 304.67h0M103.18 302.51h0M99.39 298.72h0M102.03 303.84h0M101.63 297.67h0M108.47 298.02h0M102.41 303.77h0M97.69 299.94h0M104.99 294.47h0M115.84 304.44h0M102.34 297.12h0M98.72 300.76h0M107.85 301.25h0M100.93 302.77h0M113.05 302.99h0M111.04 303.4h0M116.29 304.81h0M104.58 306.1h0M100.13 302.41h0M110.21 306.16h0M102.02 303.07h0M99.36 298.95h0M105.67 298.41h0M105.12 305.96h0M99.45 297.73h0M99.98 302.12h0M102.67 304.64h0M100.84 294.33h0M103.65 302.54h0M103.75 301.71h0M102.45 304.56h0M110.37 299.89h0M97.31 299.67h0M101.72 297.74h0M98.21 300.19h0M108.46 306.2h0M162.51 295.51h0M152.34 305.69h0M164.91 287.57h0M160.79 291.19h0M157.9 294.44h0M160.6 297.52h0M147.63 304.74h0M160.62 292.92h0M156.81 299.92h0M160.65 290.38h0M152.94 302.04h0M154.75 303.1h0M158.78 292.24h0M153.77 304.14h0M156.98 298.83h0M156.6 295.87h0M155.16 296.17h0M165.99 288.49h0M158.29 295.29h0M166.21 284.41h0M155.79 302.29h0M162.55 294.24h0M148.44 306.28h0M160.42 292.61h0M164.48 288.69h0M159.25 292.61h0M165.42 287.11h0M152.61 299.47h0M159.48 291.78h0M164.71 289.76h0M165.84 288.56h0M149.35 304.73h0M153.15 302.73h0M148.58 302.42h0M154.49 300.52h0M162.52 295.29h0M159.09 293.09h0M157.45 300.69h0M163.63 291.86h0M166.28 289.51h0M158.51 299.36h0M158.63 296.33h0M152.14 303.92h0M155.35 299.75h0M159.79 293.54h0M160.07 291.64h0M156.69 298.41h0M157.23 299.26h0M162.24 291.12h0M148.21 303.99h0M148.59 304.72h0M160.26 297.71h0M165.06 285.7h0M157.13 295.85h0M148.33 305.9h0M164.68 291.41h0M153.5 304.43h0M157.48 300.55h0M153.59 299.33h0M150.84 302.75h0M152.47 302.35h0M158.99 297.61h0M154.87 302.99h0M157.76 300.04h0M152.97 304.58h0M161.85 290.29h0M163.72 287.05h0M163.23 289.78h0M156.13 298.06h0M149.04 305.62h0M148.25 303.63h0M157.25 293.28h0M158.37 294.72h0M164.89 289.2h0M152.99 304.84h0M151.56 305.64h0M161.3 296.75h0M148.37 303.8h0M154.57 303.63h0M151.43 306.19h0M160.02 292.59h0M164.85 289.26h0M162.84 293.62h0M157.91 300.1h0M158.42 296.4h0M154.33 300.3h0M155.69 300.11h0M162.93 286.76h0M157.83 299.71h0M163.15 294.79h0M159.99 297.78h0M164.54 293.52h0M148.34 304.01h0M164.79 291.73h0M153.32 304.35h0M149.26 305.93h0M151.9 299.34h0M152.05 304.4h0M154.62 303.32h0M150.03 304.94h0M165.3 292.51h0M146.4 305.5h0M164.33 293.63h0M147.2 305.82h0M160.81 290.06h0M148.99 303.96h0M149.81 302.89h0M154.02 303.86h0M163.37 291.13h0M160.45 296.98h0M155.41 301.9h0M165.32 289.24h0M154.13 303.93h0M150.24 305.16h0M150.51 305.9h0M163.34 294h0M156.21 299.7h0M163.43 290.61h0M157.03 299.52h0M165.95 291.32h0M150.1 301.46h0M164.61 290.15h0M160.26 297.88h0M162.66 287.03h0M154.68 302.95h0M155.19 297.08h0M148.58 304.23h0M156.54 300.77h0M148.2 304.93h0M165.24 292.57h0M155.89 302.06h0M165.7 292.05h0M153.58 303.61h0M162.52 295.08h0M154.3 296.04h0M165.51 286.07h0M163.73 291.95h0M160.63 292.83h0M161.19 295.1h0M159.97 297.57h0M149.83 304.81h0M158.86 296.68h0M163.48 292.95h0M159.78 296.26h0M154.57 300.79h0M157.11 296.43h0M161.91 294.72h0M162.39 294.36h0M159.74 290.59h0M152.62 302.39h0M158.25 297.75h0M157.49 296.8h0M160.96 296.97h0M155.68 294.47h0M150.16 303.82h0M153.11 303.84h0M157.73 300.27h0M154.03 296.69h0M155.45 295.88h0M151.44 302.49h0M159.17 292h0M160.73 297.06h0M159.48 297.14h0M155.34 298.21h0M151.66 304.3h0M157.59 300.08h0M161.31 294.61h0M157.15 300.26h0M159.01 295.67h0M162.37 294.9h0M151.86 299.18h0M153.62 304.4h0M153.45 303.61h0M154.85 296.63h0M160.36 297.47h0M153.5 298.15h0M165.16 290.81h0M147.71 305.92h0M166.01 285.13h0M159.64 290.24h0M154.73 303.18h0M150.95 302.18h0" stroke="#d6180a" stroke-opacity="0.65" stroke-width="1.7" stroke-linecap="round" fill="none"/>
<path d="M64.18 284.97h0M64.64 285.69h0M64.75 286.25h0M64.9 286.67h0M65.35 287.19h0M65.41 287.38h0M65.68 287.95h0M66.2 288h0M66.58 288.71h0M66.73 288.9h0M66.8 288.98h0M67.22 289.31h0M67.36 289.69h0M67.57 290.07h0M68.01 290.52h0M68.32 290.73h0M68.58 291.02h0M68.84 291.15h0M69.33 291.71h0M69.54 291.86h0M69.61 291.94h0M69.87 292.14h0M70.33 292.54h0M70.64 292.79h0M70.96 293.23h0M70.85 293.23h0M71.49 293.58h0M71.79 293.8h0M71.7 294.14h0M72.26 294.24h0M72.25 294.5h0M72.88 294.91h0M72.81 294.95h0M73.08 295.11h0M73.63 295.39h0M73.81 295.73h0M73.94 296.07h0M74.19 296.27h0M74.46 296.41h0M74.77 296.57h0M75.35 297.01h0M75.35 297.27h0M75.59 297.29h0M76.12 297.61h0M76.09 297.97h0M76.41 297.89h0M76.91 298.14h0M76.99 298.25h0M77.19 298.67h0M77.52 298.89h0M77.85 299.05h0M78.36 299.27h0M78.48 299.63h0M78.59 299.56h0M79.16 300.03h0M79.17 299.99h0M79.64 300.49h0M79.69 300.7h0M80.24 300.77h0M80.33 300.77h0M80.45 301.32h0M80.81 301.42h0M81.09 301.66h0M81.5 301.65h0M81.6 302.02h0M81.83 302.02h0M82.3 302.47h0M82.6 302.44h0M83 302.61h0M82.91 302.83h0M83.36 302.94h0M83.52 303.26h0M83.95 303.36h0M84.14 303.85h0M84.66 303.95h0M84.82 304.11h0M84.88 304.08h0M85.1 304.63h0M85.65 304.84h0M85.65 304.89h0M86.11 305.12h0M86.32 305.42h0M86.49 305.42h0M87.03 305.75h0M87.31 305.86h0M87.6 306.13h0M181.81 297.9h0M182.03 297.58h0M182.39 297.64h0M182.43 297.09h0M182.87 296.87h0M182.79 296.71h0M183.16 296.09h0M183.57 295.85h0M183.55 295.75h0M183.81 295.34h0M184.13 295.41h0M184.42 294.82h0M184.75 294.82h0M185.03 293.99h0M185.22 294.15h0M185.42 293.83h0M185.64 293.22h0M185.98 293.28h0M185.94 292.83h0M186.16 292.36h0M186.57 292.01h0M186.56 292.01h0M187.05 291.89h0M187.05 291.24h0M187.32 291.31h0M187.83 290.56h0M187.94 290.59h0M188.24 290.17h0M188.44 289.71h0M188.49 289.39h0M188.9 289.09h0M189.29 288.89h0M189.18 288.81h0M189.68 288.57h0M189.83 288.38h0M190.16 288.1h0M190.45 287.41h0M190.54 287.08h0M190.86 286.9h0M191.03 286.59h0M191.15 286.43h0M191.61 286h0M191.61 285.86h0M192.04 285.53h0M192.36 285.48h0M192.57 284.98h0M192.88 284.66h0M192.95 284.16h0M193.11 283.96h0M193.32 283.61h0M193.53 283.22h0M193.92 283.13h0M194.25 283.01h0M194.54 282.83h0M194.45 282.38h0M195.02 281.74h0M194.94 281.41h0M195.19 281.68h0M195.71 280.9h0M195.6 280.59h0" stroke="#d6180a" stroke-opacity="0.8" stroke-width="1.8" stroke-linecap="round" fill="none"/>
<path d="M93.59 290.2h0M97.6 286.45h0M104.95 293.95h0M95.6 293.2h0M98.94 298.45h0M94.93 296.57h0M100.27 292.07h0M101.61 289.45h0M177.99 263.5h0M169.66 279.08h0M175.74 266.37h0M174.58 272.7h0M175.48 267.48h0M192.93 256.67h0M186.39 258.11h0M174.75 268.28h0M181.6 259.69h0M164.54 279.41h0M187.66 250.07h0M168.94 274.93h0M181.19 257.45h0M180.18 263.57h0M194.5 241.03h0M176.3 270.85h0M177.13 266.01h0M175.84 271.34h0M173.79 269.28h0M168.82 274.86h0M187.49 251.05h0M188.14 249.98h0M196.56 241.21h0M196.55 246.92h0M176.27 267.82h0M185.46 252.92h0M192.14 249.32h0M189.88 248.87h0M183.17 251.42h0M188.32 255.01h0M173.81 274.53h0M192.78 241.7h0M182.27 261.59h0M162.62 275.42h0M194.28 245.72h0M173.58 276.98h0M195.73 237.71h0M187.24 252.98h0M174.98 268.02h0M170.22 277.55h0M174.14 270.59h0M168.6 281h0M170.6 275.71h0M167.25 280.28h0M190.39 248.77h0M163.46 279.65h0M174.08 279.24h0M162.81 288.79h0M163.83 275.85h0M162.79 278.15h0M171.5 276.82h0M167.13 284.62h0M166.19 280.21h0M167.87 279.22h0M167.28 276.65h0M169.33 287.38h0M167.08 288.1h0M173.36 291.57h0M166.82 284.4h0M169.42 290.51h0M170.25 289.95h0M165.25 286.58h0M162.66 273.72h0M162.5 275.52h0M170.43 275.02h0M169.25 282.18h0M167.38 282.15h0M165.92 289.14h0M169.16 277.57h0M174.13 275.43h0M211.4 255.84h0M201.62 271.5h0M206.07 264.37h0M202.28 270.44h0M203.38 268.68h0M207.25 262.48h0M212.76 253.67h0M196.96 278.96h0M203.37 268.7h0M208.67 260.22h0M209.99 258.1h0M207.11 262.72h0M197.8 231.7h0M201.14 232.45h0M224.52 236.2h0M233.87 221.95h0M204.48 221.95h0M204.48 233.95h0M197.8 253.07h0" stroke="#dd3a30" stroke-opacity="0.72" stroke-width="2.2" stroke-linecap="round" fill="none"/>
<path d="M87.7 306.22h0M88.19 306.48h0M88.27 306.63h0M88.73 306.73h0M118.25 309.3h0M117.72 309.48h0M130.84 309.99h0M122.52 310.32h0M113.38 308.41h0M114 306.71h0M105.59 306.69h0M119.94 309.87h0M127.77 310.38h0M127.36 310.85h0M128.04 309.74h0M116.69 309.08h0M121.09 307.68h0M113.86 308.32h0M130.26 310.97h0M121.02 309.45h0M123.79 310.53h0M112.53 308.37h0M104.88 306.44h0M118.41 309.19h0M119.39 307.92h0M120.24 309.91h0M121.19 310.1h0M117.83 307.74h0M123.79 308.79h0M128.59 310.33h0M124.07 308.64h0M119.19 309.7h0M124.88 309.99h0M130.32 310.84h0M108.79 307.49h0M124.13 310.55h0M123.67 310.5h0M120.42 307.43h0M129.18 311.12h0M114.94 308.67h0M118.8 309.05h0M115.97 308.9h0M125.64 309.25h0M125.92 308.97h0M116.46 309.17h0M113.93 306.88h0M129.93 310.86h0M124.22 310.08h0M120.48 309.99h0M113.07 308.16h0M117.87 306.6h0M123.39 310.47h0M121.84 310.21h0M105.48 306.44h0M111.79 307.55h0M114.88 308.88h0M118.45 308.55h0M126.04 310.25h0M127.63 310.9h0M128.52 311.02h0M127.09 310.93h0M121.56 310.12h0M125.37 310.5h0M127.87 309.37h0M120.16 309.92h0M114.37 307.32h0M130.55 309.81h0M122.97 310.27h0M114.52 308.1h0M110.64 307.84h0M114.51 308.81h0M124.35 309.69h0M118.4 309.29h0M123.41 309.1h0M127.53 309.66h0M123.04 309.22h0M121.5 310.17h0M112.86 308.48h0M118.61 308.68h0M129.07 310.51h0M119.42 309.07h0M120.97 308.65h0M130.93 310.67h0M113 308.43h0M117.89 309.5h0M111.29 306.37h0M109.43 307.24h0M116.1 308.96h0M106.94 307.05h0M117.53 309.43h0M112.32 308.25h0M114.91 308.9h0M119.61 309.45h0M116.85 308.82h0M121.83 310.18h0M127.38 309.98h0M109.22 307.23h0M116.22 307.88h0M122.52 310.31h0M130.42 309.83h0M115.26 309.02h0M120.01 309.26h0M118.1 307.79h0M111.48 307.87h0M128.26 310.85h0M120.36 309.83h0M120.47 309.9h0M128.35 309.53h0M127.37 310.91h0M109.35 306.88h0M110.16 307.69h0M124.19 310.11h0M116.18 309.11h0M126.8 310.84h0M114.52 307.49h0M129.95 310.6h0M127.6 310.97h0M105.37 306.33h0M113.82 307.25h0M121.03 307.87h0M125.19 309.97h0M124.5 309.24h0M129.57 310.6h0M121.1 308.53h0M111.33 308.04h0M130.59 311.06h0M129.91 311.16h0M113.24 308.44h0M129.18 310.15h0M114.84 307.81h0M130.59 310.63h0M113.12 307.92h0M121.13 309.37h0M126.59 310.53h0M130.78 311.14h0M125.01 309.31h0M129.59 310.71h0M128.26 311.03h0M107.46 307.17h0M120.31 309.96h0M119.17 309.77h0M121.14 310.04h0M112.69 308.4h0M124.2 310.53h0M107.06 306.33h0M119.55 309.76h0M121.98 310.08h0M116.06 306.93h0M124.99 310.69h0M117.04 309.37h0M114.44 306.66h0M124.85 310.49h0M110.94 308.04h0M120.86 307.31h0M119.28 308.93h0M108.25 306.64h0M123.83 309.14h0M115.61 308.7h0M116.52 307.39h0M128.57 310.94h0M127.75 310.62h0M116.14 308.99h0M130.76 310.2h0M127.51 310.92h0M125.25 310.69h0M130.6 309.75h0M116.33 308.92h0M129.61 310.69h0M122.75 309.2h0M130.92 310.13h0M110.89 306.92h0M127.78 310.66h0M121.95 309.54h0M110.51 307.91h0M114.8 308.76h0M110.28 307.67h0M128.03 309.38h0M126.54 310.65h0M127.8 310.98h0M110.49 307.24h0M130.14 310.93h0M113.14 308.43h0M130.88 311.17h0M127.67 309.72h0M112.01 308.29h0M123.91 310.35h0M126.98 310.45h0M130.43 310.98h0M115.05 308.94h0M106.72 306.6h0M114.64 307.74h0M120.38 309.41h0M117.63 309.39h0M123.35 309.18h0M116.56 308.52h0M117.29 307.65h0M126.56 310.86h0M112.07 308h0M124.81 310.64h0M123.71 310.51h0M109.49 307.44h0M130.52 311.18h0M122.23 310.3h0M127.22 310.93h0M121.87 310.18h0M115.72 308.96h0M128.65 310.95h0M130.22 310.71h0M123.51 310.44h0M119.98 307.86h0M110.04 307.79h0M109.15 307.26h0M128.33 310.31h0M109.36 307.53h0M127.78 311h0M110.14 307.79h0M115.53 309.01h0M121.18 309.86h0M126.37 310.82h0M108.55 307.27h0M124.42 308.58h0M119.69 307.38h0M120.55 308.96h0M126.56 310.82h0M113.77 308.44h0M110.54 306.56h0M119.47 309.76h0M116.8 307.47h0M120.75 310.05h0M109.31 307.63h0M112.83 308.06h0M116.26 309.03h0M129.48 311.01h0M129.08 310.22h0M118.06 309.21h0M104.94 306.5h0M110.35 307.65h0M119.12 309.06h0M108.41 306.64h0M120.42 307.27h0M116.08 308.79h0M122.37 309.83h0M114.3 308.79h0M113.42 308.51h0M126.49 310.87h0M121.39 310.06h0M108.15 306.64h0M125.66 309.53h0M125.13 309.55h0M128.88 309.5h0M120.4 309.67h0M130.73 311.19h0M109.74 307.22h0M125.47 310.67h0M118.12 307.75h0M124.09 310.56h0M113.51 308.6h0M118.15 309.47h0M113.29 308.04h0M107.38 307.16h0M126.45 310.57h0M124.29 310.41h0M115.73 307.23h0M130.91 310.99h0M121.49 310.16h0M114.36 308.82h0M129.62 311.14h0M124.6 309.44h0M122.97 308.11h0M129.37 310.96h0M116.55 309.17h0M119.99 309.9h0M114 308.09h0M127 310.81h0M129.7 311.12h0M120.92 310.05h0M119.95 307.26h0M118.9 309.65h0M127.21 309.7h0M114.02 307.19h0M125.45 309.97h0M119.57 309.51h0M114.52 308.83h0M128.66 311.06h0M130.7 310.43h0M122 307.73h0M126.63 310.85h0M113.76 308.49h0M119.15 306.95h0M124.26 310.17h0M123.31 309.93h0M124.04 310.54h0M126.28 309.65h0M117.83 306.78h0M130.63 311.16h0M126.7 310.07h0M119.56 309.51h0M108.54 306.86h0M112.71 308.43h0M128.95 310.62h0M121.96 310.07h0M110.88 307.94h0M112.63 306.99h0M116.78 309.1h0M122.24 309.61h0M120.53 308.98h0M111.07 307.98h0M124.91 309.28h0M115.65 309.04h0M121.52 309.23h0M127.38 309.38h0M118.46 309.16h0M112.82 308.05h0M130.85 311.04h0M119.22 308.44h0M119.43 309.72h0M122.3 310.21h0M121.72 308.86h0M113.01 308.48h0M128.97 309.81h0M114.24 308.74h0M110.95 308.05h0M112.31 306.52h0M126.02 310.79h0M129.62 310.98h0M121.22 310.1h0M129.95 310.62h0M105.94 306.69h0M127.16 309.32h0M109.46 306.49h0M109.13 306.37h0M114.89 307.63h0M104.48 306.35h0M122.32 309.93h0M117.25 309.1h0M117.63 308.51h0M113.96 307.44h0M126.17 310.65h0M120.24 309.92h0M125.21 310.6h0M124.89 309.52h0M118.34 308.83h0M118.82 309.68h0M122.43 309.73h0M122.09 309.98h0M130.32 309.84h0M123.63 310.21h0M109.79 306.47h0M119.51 309.19h0M119.9 307.36h0M120.51 309.73h0M116.84 309.26h0M114.67 308.32h0M125.65 310.62h0M120.62 309.97h0M121.74 309.59h0M121.38 309.83h0M112.38 307.12h0M122.53 310.33h0M125.86 310.78h0M116.24 308.14h0M124.47 310.59h0M117.79 309.47h0M120.55 309.77h0M121.52 310.04h0M121.62 310.11h0M106.8 306.67h0M113.39 308.35h0M117.76 308.7h0M115.27 306.94h0M123.21 310.38h0M128.93 310.96h0M121.78 307.94h0M116.13 308.86h0M129.42 311.12h0M119.44 309.79h0M130.73 311.11h0M120.36 307.97h0M114.7 308.87h0M113.99 308.61h0M111.02 306.65h0M113.66 307.01h0M116 309.13h0M130.31 309.69h0M126.04 309.19h0M113.67 306.79h0M117.94 308.46h0M129.4 311.14h0M125.21 309.92h0M116.79 307.02h0M125.27 310.52h0M108.83 307.49h0M123.55 310.36h0M119.23 309.68h0M121.77 309.24h0M115.41 309h0M130.61 311.06h0M127.93 309.27h0M113.8 308.14h0M128 311.01h0M126.98 309.21h0M121.18 307.75h0M121.67 307.87h0M109.55 307.67h0M128.82 311.09h0M108.71 307.5h0M115.42 307.68h0M104.47 306.37h0M122.85 308.39h0M112.91 308.35h0M130.33 311.18h0M110.48 307.94h0M113.93 306.4h0M107.85 306.41h0M116.74 308.82h0M112.74 307.96h0M126.98 310.9h0M130.37 311.12h0M121.6 310.12h0M116.11 308.29h0M114.3 308.3h0M113.87 308.46h0M118.34 309.17h0M113.92 307.64h0M129.97 311.1h0M125.1 309.55h0M127.67 310.68h0M113.46 308.28h0M113.98 308.32h0M130.33 309.83h0M124.19 309.64h0M124.32 310.55h0M107.39 306.8h0M124.03 309.91h0M128.57 310.52h0M119.81 309.84h0M126.52 310.79h0M120.73 308.6h0M118.22 309.56h0M123.71 308.89h0M129.07 310.57h0M109.89 307.13h0M119.26 308.09h0M114.44 308.51h0M129.16 311.01h0M128.12 310.94h0M108.29 306.96h0M113.66 308.63h0M115.25 308.13h0M105.47 306.43h0M129.23 310.58h0M110.78 307.77h0M129.59 311.13h0M120.31 308.49h0M118.9 306.83h0M114.99 308.84h0M120.96 309.71h0M127.07 310.94h0M122.33 310.05h0M120.01 309.08h0M121 310.09h0M112.94 308.52h0M110.13 306.47h0M129.42 310h0M117.1 309.12h0M126.4 310.52h0M123.87 309.61h0M109.38 306.41h0M123.75 310.29h0M122.24 310.17h0M129.34 310.55h0M123.32 309.95h0M117.8 309.44h0M130.91 311.17h0M125.49 310.56h0M121.27 308.75h0M116.72 309.15h0M116.2 308.09h0M121.62 307.86h0M116.25 308.24h0M119.62 309.7h0M111.27 308.04h0M112.76 306.87h0M122.73 310.37h0M120.6 308.88h0M109.84 307.42h0M115.2 308.99h0M119.27 309.77h0M126.59 309.29h0M123.91 309.52h0M124.74 309.23h0M120.85 308.95h0M126.85 310.87h0M116.5 307.85h0M112.02 307.29h0M128.02 310.38h0M126.92 309.61h0M109.41 307.41h0M125.61 310.34h0M130.59 310.74h0M120.61 310h0M119.6 308.63h0M112.88 308.16h0M108.98 306.8h0M106.74 306.63h0M114.48 308.48h0M122.67 309.62h0M120.49 309.52h0M115.04 307.73h0M127.2 310.92h0M107.28 307.1h0M117.97 309.42h0M126.58 309.66h0M120.48 308.64h0M130.81 309.85h0M115.39 308.01h0M126.44 310.49h0M116.76 309.26h0M127.52 310.33h0M112.11 306.58h0M116.47 307.84h0M129.44 310.76h0M118.72 309.56h0M121.47 308.88h0M118.7 308.68h0M125.06 310.62h0M119.82 309.89h0M120.85 307.34h0M118.39 309.32h0M113.74 308.67h0M108.2 307.27h0M128.09 311h0M105.14 306.35h0M118.12 307.88h0M121.64 310.17h0M109.75 307.66h0M114.23 308.2h0M108.49 307.4h0M116.96 308.95h0M128.92 311.09h0M121.12 309.88h0M127.81 311h0M120.67 307.7h0M126.46 310.72h0M129.62 309.85h0M127.35 309.1h0M119.17 306.87h0M123.57 310.48h0M130.51 311.14h0M120.67 309.97h0M108.26 306.93h0M118.72 309.67h0M126.09 309.18h0M122.25 309.93h0M121.88 309.6h0M129.79 311.16h0M120.33 309.33h0M109.65 307.67h0M108.72 307.43h0M121.77 308.28h0M130.23 311.11h0M118.34 309.16h0M113.19 308.3h0M114.16 307.62h0M130.61 310.27h0M112.55 306.98h0M110.45 306.47h0M130.96 311.2h0M122.89 310.1h0M122.51 310.32h0M127.53 309.99h0M118.97 309.7h0M129.2 310.63h0M121.68 308.12h0M121.6 309.84h0M113.8 306.43h0M109.64 307.57h0M117.62 309.44h0M117.38 308.24h0M117.8 306.74h0M110.96 307.33h0M109.05 306.81h0M124.28 309.77h0M144.59 307.57h0M142.25 309.23h0M135.18 310.7h0M143.4 308.33h0M141.23 309.04h0M135.33 310.73h0M146.05 307.73h0M143.85 307.03h0M134.07 310.27h0M134.17 310.52h0M136.57 309.92h0M134.13 310.83h0M136.62 308.85h0M146.56 307.1h0M140.84 308.33h0M150.51 306.67h0M133.54 310.82h0M149.42 306.73h0M139.99 308.81h0M135.88 310.53h0M151.74 306.36h0M138.29 310.11h0M139.31 308.44h0M147.73 307.51h0M139.6 309.02h0M147.55 306.93h0M144.56 308.2h0M133.95 310.56h0M143.94 308.47h0M137.1 310.35h0M142.24 307.99h0M141.68 308.87h0M135.27 310.51h0M132.73 310.87h0M133.21 311.02h0M141.35 309.49h0M142.85 308.47h0M140.5 309.66h0M141.41 309.38h0M148.13 307.56h0M143.76 308.32h0M131.94 311.12h0M132.72 310.6h0M136.11 309.52h0M131.32 311.06h0M133.94 310h0M133.15 309.52h0M132.14 310.65h0M134.82 309.43h0M135.33 310.28h0M145.51 307.62h0M139.7 309.38h0M141.94 309.3h0M138.52 309.09h0M132.4 310.96h0M134.77 309.22h0M138.62 309.99h0M133.73 309.98h0M138.32 309.72h0M150.26 306.63h0M145 308.26h0M138.9 309.65h0M133.39 310.14h0M131.56 310.44h0M131.2 309.97h0M142.68 308.83h0M145.04 308.25h0M134.41 310.64h0M135.38 310h0M137.84 309.64h0M131.62 310.96h0M141.33 308.91h0M140.29 309.05h0M143.46 308.71h0M135.72 309.62h0M135.76 309.01h0M140.48 307.83h0M133.41 310.14h0M138.76 309.85h0M142.44 308.23h0M139.84 308.45h0M149.75 307.03h0M133.25 309.65h0M149.55 306.39h0M143.84 308.65h0M132.78 310.34h0M138.69 310h0M149.71 306.84h0M136.65 308.86h0M143.93 306.96h0M141.57 309.44h0M143.48 308.88h0M138.25 309.76h0M133.08 310.63h0M140.22 308.37h0M144.77 307.05h0M137.98 309.71h0M150.65 306.61h0M145.64 308.25h0M144.7 306.45h0M131.02 311.15h0M134.95 309.96h0M135.77 309.95h0M141.76 309.3h0M132.06 309.82h0M138.51 309.81h0M141.36 309.04h0M133.39 310.15h0M148.93 307.08h0M133.19 310.56h0M132.97 309.92h0M145.43 308.27h0M133.1 310.98h0M146.14 308.08h0M136.75 310.31h0M132.68 310.98h0M140.2 309.75h0M138.11 310.19h0M131.47 310.52h0M140.85 308.76h0M132.33 310.38h0M134.44 309.74h0M144.35 307.83h0M138.93 310.03h0M139.34 309.9h0M137.19 309.19h0M138.98 309.8h0M137.85 310.25h0M137.12 309.58h0M141.52 308.92h0M138.65 309.03h0M137.7 308.68h0M144.47 308.57h0M137.17 309.86h0M133.99 309.59h0M143.71 308.37h0M135.03 310.18h0M142.48 307.34h0M140.71 308.97h0M132.64 310.28h0M141.12 309.43h0M146.52 307.27h0M140.56 308.82h0M139.99 308.74h0M140.34 308.21h0M145.2 307.53h0M131.64 311.17h0M140.66 309.62h0M136.72 310.47h0M142.3 308.68h0M144.06 308.12h0M137.69 309.75h0M139.07 309.04h0M137.33 310.36h0M134.52 310.83h0M150.14 306.45h0M146.82 306.72h0M148.99 306.96h0M141.03 307.8h0M135.53 309.87h0M143.7 308.46h0M131.24 310.71h0M136.13 309.55h0M145.31 308.19h0M146.23 306.46h0M148.36 306.96h0M136.41 309.73h0M138.7 310.01h0M131.5 310.19h0M132.48 310.02h0M139.33 308.76h0M139.38 309.38h0M133.41 310.91h0M134.55 309.99h0M146.14 307.86h0M142.09 308.78h0M146.93 306.99h0M142.09 307.83h0M131.37 311h0M131.55 309.81h0M141.61 307.66h0M148.82 307.2h0M133.1 310.37h0M137.38 310.15h0M132.64 309.55h0M138.32 309.04h0M147.61 306.51h0M135.2 310.75h0M139.7 308.16h0M137.21 309.33h0M144.6 308.18h0M143.78 308.73h0M134.26 309.73h0M142.46 308.25h0M136.15 309.7h0M146.84 307.52h0M133.89 310.7h0M134.17 310.88h0M141.7 309.26h0M135.05 310.78h0M148.45 306.84h0M131.95 309.94h0M149.98 306.62h0M147.95 307.38h0M141.49 309.41h0M148.05 307.04h0M149.4 306.41h0M130.93 311.18h0M134.74 310.41h0M145.43 307.12h0M146.02 307.11h0M139.48 308.84h0M144.8 308.12h0M131.83 310.69h0M137.43 310.26h0M149.29 307.14h0M147.22 307.61h0M137.46 310.24h0M133.54 310h0M137.24 309.19h0M139.24 309.97h0M142.19 307.37h0M136.77 309.45h0M140.59 309.66h0M134.05 309.9h0M136.95 309.55h0M138.61 309.9h0M133.03 309.93h0M140.89 309.05h0M146.83 307.87h0M133.5 310.36h0M141.68 309.21h0M148.13 306.69h0M140.06 308.62h0M134.31 310.06h0M142.92 308.74h0M134.87 309.43h0M131.26 309.56h0M133.89 310.47h0M131.82 309.7h0M134.19 309.78h0M136.04 310.59h0M141.09 307.71h0M135.94 309.68h0M146.12 307.7h0M131.39 310.64h0M135.9 310.09h0M138.48 309.4h0M146.83 307.74h0M138.7 309.66h0M137.35 309.74h0M136.09 310.48h0M139.53 309.92h0M138.56 309.88h0M139.15 309.81h0M132.91 310.37h0M144.51 308.23h0M133.23 310.86h0M146.79 306.87h0M143.41 308.83h0M134.95 309.8h0M137.67 309.74h0M138.36 309.35h0M133.45 310.87h0M134.16 309.29h0M141.93 307.68h0M140.82 309.54h0M140.12 309.03h0M136.32 310.55h0M134.05 310.14h0M136.27 310.47h0M132.86 310.96h0M142.08 308.83h0M137.07 310.41h0M135.45 309.95h0M146.51 307.99h0M138.89 309.04h0M131.16 309.81h0M140.37 309.05h0M134.29 310.69h0M142.78 308.74h0M137.91 309.87h0M139.9 309.58h0M137.88 309.53h0M139.34 309.74h0M135.65 310.57h0M142.77 308.59h0M143.52 308.88h0M138.35 309.89h0M138.96 309.9h0M139.05 310.01h0M141.56 308.16h0M137.15 310.1h0M132.52 310.73h0M133.26 310.86h0M141.37 309.43h0M133.82 309.49h0M137.25 309.16h0M135.74 309.28h0M143.66 307.49h0M133.48 310.35h0M138.82 310.09h0M137.82 309.87h0M145.31 307.63h0M133.85 310.35h0M136.63 310.51h0M139.13 308.74h0M142.69 308.63h0M143.45 307.97h0M142.27 308.5h0M147.43 307.74h0M133.74 310.21h0M142.7 308.97h0M130.9 311.08h0M144.08 306.94h0M143.71 306.81h0M140.89 307.67h0M144.74 308.31h0M138.92 309.02h0M135.29 310.22h0M138.16 309.6h0M149.3 307.1h0M135.27 310.46h0M138.61 310.06h0M135.95 310.54h0M131.59 311.11h0M142.38 308.07h0M132.01 310.73h0M142.24 308.96h0M145.28 306.88h0M136.63 310.52h0M145.69 308.1h0M142.2 307.51h0M145.75 308.27h0M136.87 310.34h0M131.79 311.16h0M144.79 306.96h0M139.45 308.8h0M147.62 306.7h0M137.77 310.21h0M146.25 306.54h0M138.23 309.84h0M148.77 307.15h0M133.95 310.58h0M136.93 310.37h0M145.54 307.02h0M132.65 310.57h0M149.04 307.13h0M138 309.9h0M140.39 308.23h0M142.47 308.42h0M144.13 307.45h0M140.44 308.02h0M133.78 310.38h0M148.99 306.55h0M145.92 306.66h0M148.07 306.66h0M140.79 308.67h0M141.48 309.24h0M146.06 306.66h0M133.22 309.55h0M135.56 309.92h0M137.36 309.61h0M134.98 310.76h0M141.23 308.92h0M135.65 309.18h0M134.62 309.89h0M139.31 308.13h0M132.31 310.95h0M147.7 306.42h0M145.67 307.65h0M135.77 310.06h0M133.44 310.67h0M149.4 307.02h0M141.67 308.77h0M139.39 309.66h0M140.25 309.51h0M131.1 310.41h0M134.86 310.67h0M136.79 310.34h0M141.99 309.14h0M148.95 306.54h0M141.03 307.92h0M143.8 308.26h0M146.62 307.6h0M143.98 308.79h0M134.31 309.43h0M140.55 308.97h0M132.59 311.09h0M143.69 308.18h0M140.09 309.06h0M131.4 310.22h0M134.92 310.57h0M134.89 309.43h0M136.29 310.46h0M137.69 308.92h0M131.32 310.83h0M131.01 309.69h0M135.17 310.61h0M135.51 310.4h0M145.52 308.25h0M143.33 307.57h0M133.28 309.48h0M147.51 306.51h0M136.4 309.24h0M144.37 308.6h0M138.57 310.12h0M144.3 306.93h0M143.71 308.67h0M143.49 308.88h0M139.91 308.61h0M149.24 306.53h0M134.31 309.6h0M132.67 310.24h0M145.51 306.85h0M135.33 310.17h0M136.92 310h0M131.43 309.87h0M143.88 307.67h0M141.16 309.44h0M136.8 310.43h0M131.67 310.61h0M133.3 310.55h0M143.66 307.33h0M137.8 310.21h0M144.16 307.06h0M135.04 309.2h0M137.38 309.46h0M132.62 310.89h0M136.83 310.34h0M142.42 309.09h0M131.09 310.61h0M142.09 309.04h0M142.26 308.6h0M137.44 309.37h0M145.44 308.34h0M133.88 310.69h0M134.02 310.6h0M145.51 308.28h0M146.9 307.26h0M137.4 309.31h0M143.99 308.75h0M137.2 310.16h0M148.77 307.23h0M133.92 310.88h0M141.59 309.37h0M143.81 308.25h0M137.25 309.81h0M141.7 308.48h0M137.97 310.15h0M146.5 308.06h0M135.87 310.47h0M137.64 309h0M134.94 310.09h0M143.77 306.82h0M148.66 307.32h0M134.65 310.06h0M137.34 310.32h0M140.8 308.93h0M135.73 310.6h0M140.81 308.62h0M134.58 310.85h0M149.96 306.91h0M131.2 310.63h0M137.69 308.55h0M135.49 309.6h0M131.91 311.15h0M131.4 310.93h0M138.3 309.59h0M143.47 307.14h0M147.05 307.71h0M143.66 307.9h0M137.49 309.75h0M145.78 308.11h0M137.16 309.92h0M137.25 309.52h0M134.06 310.35h0M140.93 309.57h0M139.77 308.18h0M149 307.11h0M131.96 311.04h0M134.89 310.68h0M149.87 306.93h0M133.43 310.75h0M142.56 308.88h0M142.14 308.2h0M139.21 310h0M141.66 309.21h0M141.18 308.09h0M137.16 308.65h0M137.53 309.4h0M138.73 309.2h0M135.14 309.9h0M131.99 309.72h0M144.27 307.27h0M136.37 309.31h0M131.31 309.5h0M132.67 310.4h0M146.62 307.71h0M136.67 310.18h0M140.67 308.14h0M136.81 310h0M142.08 307.95h0M133.79 310.92h0M138.31 310.17h0M143.58 307.73h0M143.96 307.08h0M144.73 308.12h0M132.46 310.04h0M134.43 310.74h0M131.29 310.56h0M135.76 309.01h0M147.56 307.51h0M137.61 310.12h0M140.01 309.57h0M133.43 309.55h0M147.16 307.77h0M131.31 310.07h0M141.19 308.94h0M133.3 310.8h0M147.93 306.51h0M135.42 310.68h0M138 309.46h0M140.95 308.22h0M141.75 309.35h0M148.3 306.95h0M149.03 306.51h0M131.77 310.82h0M141.33 307.98h0M144.53 308.63h0M142.28 308.25h0M131.27 310.71h0M138.82 309.46h0M143.49 307.1h0M132.72 311.09h0M141.86 309.37h0M131.44 309.67h0M137.46 309.79h0M136.15 310.43h0M139.21 308.9h0M139.32 309.71h0M133.17 311.01h0M139.8 309.71h0M134.83 309.76h0M135.11 310.58h0M136.49 310.4h0M147.27 307.54h0M145.11 307.83h0M132.77 309.69h0M131.87 311.03h0M142.81 308.48h0M139.9 307.98h0M131.82 310.77h0M138.17 309.75h0M132.4 310.9h0M147.83 306.54h0M142.97 307.67h0M146.46 307.01h0M139.54 309.88h0M133.86 310.39h0M140.4 309.65h0M135.32 310.66h0M139.55 308.14h0M139.88 308.04h0M131.15 309.6h0M139.16 309.46h0M146.87 307.87h0M136.93 310.19h0M146.75 307.61h0M135.43 310.63h0M131.96 311.04h0M139.24 309.58h0M134.52 309.92h0M150.65 306.68h0M143.03 307.28h0M141.36 307.9h0M136.81 309.9h0M131.3 310.99h0M140.11 308.71h0M150.81 306.59h0M149.8 306.98h0M138.5 309.91h0M138.25 308.92h0M141.97 309.29h0M134.38 310.81h0M137.22 310.12h0M143.19 308.79h0M132.74 310.21h0M134.43 310.76h0M139.15 309.96h0M131.95 310.38h0M146.83 307.28h0M138.08 310.25h0M144.68 308.17h0M131.9 310.06h0M140.07 308.09h0M142.54 309.19h0M133.95 310.63h0M141.84 307.62h0M136.35 310.12h0M137.43 308.56h0M147.38 307.03h0M138.34 308.41h0M143.26 306.94h0M132.08 310.42h0M140.76 308.51h0M143.42 308.92h0M141.63 309.33h0M145.53 308.34h0M140 309.43h0M144.26 306.93h0M141.06 308.79h0M135 309.63h0M137.74 309.92h0M140.07 308.07h0M140.58 308.38h0M149.22 306.96h0M136.37 309.92h0M131.34 310.66h0M132.47 310.51h0M142.2 307.7h0M132.82 309.72h0M133.27 310h0M138.33 309.69h0M133.87 309.87h0M131.12 310.98h0M131.08 309.82h0M139.14 309.13h0M143.87 308.61h0M144.46 308.03h0M139.35 309.76h0M143.48 306.99h0M142.67 307.89h0M132.51 310h0M143.92 306.92h0M143.96 308.73h0M146.97 307.37h0M138.4 309.77h0M138.83 309.59h0M139.79 308.75h0M131.17 311.11h0M134.28 310.84h0M141.4 308.99h0M138.44 309.96h0M143.5 308.32h0M143.45 308.88h0M135.44 310.54h0M133 311.02h0M146.08 306.82h0M133.12 310.4h0M135.8 310h0M143.32 307.01h0M138.25 309.27h0M137.86 309.93h0M136.38 309.73h0M145.48 308.05h0M141.74 308.35h0M150.2 306.58h0M133.13 309.35h0M136.14 310.26h0M140.55 308.42h0M130.96 309.98h0M151.67 306.36h0M137.72 310.21h0M135.33 310.5h0M150.29 306.49h0M137.62 310.06h0M146.46 306.9h0M140.95 308.85h0M141.77 307.42h0M145.13 307.65h0M142.14 308.2h0M138.52 310.08h0M138.21 308.57h0" stroke="#000" stroke-opacity="1" stroke-width="1.8" stroke-linecap="round" fill="none"/>
<text x="231.2" y="214.9" font-size="9" font-style="italic">IFI44</text>
<text x="211.3" y="229.6" font-size="9" font-style="italic">IFI44L</text>
<text x="162" y="232.8" font-size="9" font-style="italic">CCND2</text>
<text x="134.9" y="267.4" font-size="9" font-style="italic">RUNX1</text>
<text x="131" y="282.1" font-size="9" font-style="italic">EGR1</text>
<text x="128.3" y="297.7" font-size="9" font-style="italic">JUN</text>
<text x="209.8" y="274.4" font-size="9" font-style="italic">FOSB</text>
<text x="202.1" y="285.4" font-size="9" font-style="italic">TNF</text>
<text x="199.9" y="297" font-size="9" font-style="italic">CDK6</text>
<text x="208.7" y="308.4" font-size="9" font-style="italic">STAT4</text>
<text x="162.7" y="313.4" font-size="9" font-style="italic">MAP3K8</text>
<line x1="201" y1="233.8" x2="211" y2="230" stroke="#000" stroke-width="0.7"/>
<line x1="175" y1="236.4" x2="164" y2="282.9" stroke="#000" stroke-width="0.7"/>
<line x1="158" y1="270.6" x2="155.8" y2="293.4" stroke="#000" stroke-width="0.7"/>
<line x1="148.8" y1="282.9" x2="153.1" y2="294.6" stroke="#000" stroke-width="0.7"/>
<line x1="145.3" y1="295.1" x2="154" y2="296" stroke="#000" stroke-width="0.7"/>
<line x1="208.3" y1="271.8" x2="155.8" y2="293.4" stroke="#000" stroke-width="0.7"/>
<line x1="202.2" y1="283.7" x2="157.5" y2="296.9" stroke="#000" stroke-width="0.7"/>
<line x1="197.8" y1="294.8" x2="156.6" y2="298.6" stroke="#000" stroke-width="0.7"/>
<line x1="208.3" y1="305.6" x2="151.4" y2="302.1" stroke="#000" stroke-width="0.7"/>
<line x1="161.9" y1="310.9" x2="152.3" y2="303" stroke="#000" stroke-width="0.7"/>
<rect x="42.6" y="195.6" width="212.7" height="121.4" fill="none" stroke="#000" stroke-width="1.1"/>
<text x="0" y="364.8" font-size="17.5" font-weight="bold">D</text>
<g>
<line x1="52.7" y1="383.4" x2="52.7" y2="504.7" stroke="#ebebeb" stroke-width="0.7"/>
<line x1="70.2" y1="383.4" x2="70.2" y2="504.7" stroke="#ebebeb" stroke-width="0.7"/>
<line x1="87.7" y1="383.4" x2="87.7" y2="504.7" stroke="#ebebeb" stroke-width="0.7"/>
<line x1="105.2" y1="383.4" x2="105.2" y2="504.7" stroke="#ebebeb" stroke-width="0.7"/>
<line x1="122.7" y1="383.4" x2="122.7" y2="504.7" stroke="#ebebeb" stroke-width="0.7"/>
<line x1="140.2" y1="383.4" x2="140.2" y2="504.7" stroke="#ebebeb" stroke-width="0.7"/>
<line x1="157.7" y1="383.4" x2="157.7" y2="504.7" stroke="#ebebeb" stroke-width="0.7"/>
<line x1="175.2" y1="383.4" x2="175.2" y2="504.7" stroke="#ebebeb" stroke-width="0.7"/>
<line x1="192.7" y1="383.4" x2="192.7" y2="504.7" stroke="#ebebeb" stroke-width="0.7"/>
<line x1="210.2" y1="383.4" x2="210.2" y2="504.7" stroke="#ebebeb" stroke-width="0.7"/>
<line x1="227.7" y1="383.4" x2="227.7" y2="504.7" stroke="#ebebeb" stroke-width="0.7"/>
<line x1="245.2" y1="383.4" x2="245.2" y2="504.7" stroke="#ebebeb" stroke-width="0.7"/>
<line x1="43.1" y1="499.6" x2="254.5" y2="499.6" stroke="#ebebeb" stroke-width="0.7"/>
<line x1="43.1" y1="486.93" x2="254.5" y2="486.93" stroke="#ebebeb" stroke-width="0.7"/>
<line x1="43.1" y1="474.25" x2="254.5" y2="474.25" stroke="#ebebeb" stroke-width="0.7"/>
<line x1="43.1" y1="461.58" x2="254.5" y2="461.58" stroke="#ebebeb" stroke-width="0.7"/>
<line x1="43.1" y1="448.9" x2="254.5" y2="448.9" stroke="#ebebeb" stroke-width="0.7"/>
<line x1="43.1" y1="436.23" x2="254.5" y2="436.23" stroke="#ebebeb" stroke-width="0.7"/>
<line x1="43.1" y1="423.55" x2="254.5" y2="423.55" stroke="#ebebeb" stroke-width="0.7"/>
<line x1="43.1" y1="410.88" x2="254.5" y2="410.88" stroke="#ebebeb" stroke-width="0.7"/>
<line x1="43.1" y1="398.2" x2="254.5" y2="398.2" stroke="#ebebeb" stroke-width="0.7"/>
</g>
<text x="144.3" y="376.6" font-size="9.1" text-anchor="middle">MCF7 Abema-R vs MCF7 Parental DEGs</text>
<line x1="39.8" y1="499.6" x2="43.1" y2="499.6" stroke="#333" stroke-width="0.9"/>
<text x="38.3" y="502.5" font-size="8" text-anchor="end" fill="#3a3a3a" stroke="#3a3a3a">0</text>
<line x1="39.8" y1="474.25" x2="43.1" y2="474.25" stroke="#333" stroke-width="0.9"/>
<text x="38.3" y="477.15" font-size="8" text-anchor="end" fill="#3a3a3a" stroke="#3a3a3a">5</text>
<line x1="39.8" y1="448.9" x2="43.1" y2="448.9" stroke="#333" stroke-width="0.9"/>
<text x="38.3" y="451.8" font-size="8" text-anchor="end" fill="#3a3a3a" stroke="#3a3a3a">10</text>
<line x1="39.8" y1="423.55" x2="43.1" y2="423.55" stroke="#333" stroke-width="0.9"/>
<text x="38.3" y="426.45" font-size="8" text-anchor="end" fill="#3a3a3a" stroke="#3a3a3a">15</text>
<line x1="39.8" y1="398.2" x2="43.1" y2="398.2" stroke="#333" stroke-width="0.9"/>
<text x="38.3" y="401.1" font-size="8" text-anchor="end" fill="#3a3a3a" stroke="#3a3a3a">20</text>
<line x1="70.2" y1="504.7" x2="70.2" y2="507.7" stroke="#333" stroke-width="0.9"/>
<text x="70.2" y="515.9" font-size="8" text-anchor="middle" fill="#3a3a3a" stroke="#3a3a3a">-10</text>
<line x1="105.2" y1="504.7" x2="105.2" y2="507.7" stroke="#333" stroke-width="0.9"/>
<text x="105.2" y="515.9" font-size="8" text-anchor="middle" fill="#3a3a3a" stroke="#3a3a3a">-5</text>
<line x1="140.2" y1="504.7" x2="140.2" y2="507.7" stroke="#333" stroke-width="0.9"/>
<text x="140.2" y="515.9" font-size="8" text-anchor="middle" fill="#3a3a3a" stroke="#3a3a3a">0</text>
<line x1="175.2" y1="504.7" x2="175.2" y2="507.7" stroke="#333" stroke-width="0.9"/>
<text x="175.2" y="515.9" font-size="8" text-anchor="middle" fill="#3a3a3a" stroke="#3a3a3a">5</text>
<line x1="210.2" y1="504.7" x2="210.2" y2="507.7" stroke="#333" stroke-width="0.9"/>
<text x="210.2" y="515.9" font-size="8" text-anchor="middle" fill="#3a3a3a" stroke="#3a3a3a">10</text>
<line x1="245.2" y1="504.7" x2="245.2" y2="507.7" stroke="#333" stroke-width="0.9"/>
<text x="245.2" y="515.9" font-size="8" text-anchor="middle" fill="#3a3a3a" stroke="#3a3a3a">15</text>
<text x="21.3" y="447" font-size="9.1" text-anchor="middle" transform="rotate(-90 21.3 447)">-Log<tspan font-size="6.5" dy="1.5">10</tspan><tspan dy="-1.5"> FDR </tspan><tspan font-style="italic">q</tspan>-value</text>
<text x="137.5" y="529" font-size="9.3" text-anchor="middle">Log<tspan font-size="6.5" dy="1.5">2</tspan><tspan dy="-1.5"> fold change</tspan></text>
<line x1="136.4" y1="383.4" x2="136.4" y2="504.7" stroke="#555" stroke-width="0.6" stroke-dasharray="2.6,1.8"/>
<line x1="143.6" y1="383.4" x2="143.6" y2="504.7" stroke="#555" stroke-width="0.6" stroke-dasharray="2.6,1.8"/>
<line x1="43.1" y1="493" x2="254.5" y2="493" stroke="#666" stroke-width="0.7" stroke-dasharray="3.2,2.2"/>
<path d="M117.31 487.05h0M116.86 491.1h0M115.51 479.94h0M108.39 485.49h0M113.08 487.63h0M108.37 485.94h0M106.74 479.64h0M107.89 479.92h0M118.12 492.54h0M112.34 478.89h0M108.09 484.46h0M118.22 482.96h0M111.88 489.8h0M125.08 491.44h0M120.17 490.21h0M108.49 486.84h0M109.52 480.31h0M114.74 492.19h0M125.44 491.21h0M110.22 478.88h0M108.2 484.14h0M111.62 486.24h0M117.42 491.46h0M106.73 479.9h0M111.27 480.53h0M106.51 484.1h0M109.74 486.75h0M106.96 485.25h0M111.83 489.56h0M108.18 484.1h0M106.89 484.3h0M108.57 486.75h0M105.18 483.46h0M107.93 481.12h0M106.9 478.99h0M117.72 490.07h0M105.69 483.83h0M120.83 491.35h0M110.08 481.15h0M112.19 490.36h0M107.07 482.89h0M106.22 484.51h0M111.94 487.97h0M113.05 491.26h0M120.81 488.41h0M106.93 485.34h0M110.26 487.04h0M112.97 478.9h0M108.01 486.23h0M106.1 484.67h0M126.13 491.99h0M109.02 486.86h0M119.12 491.45h0M116.92 492.7h0M110.09 481.13h0M108.72 478.95h0M110.69 483.52h0M108.82 486.58h0M116.12 486.49h0M112.51 485.73h0M112.33 490h0M105.54 483.57h0M116.91 481.11h0M107.9 482.31h0M117.72 492.84h0M112.29 489.88h0M111.56 475.52h0M105.77 484.25h0M122.74 491.1h0M113.59 491.77h0M112.33 488.63h0M123 488.55h0M119.31 484.17h0M119.42 484.3h0M113.56 481.67h0M109.59 486.07h0M110.62 473.97h0M105.19 483.29h0M125.29 491.47h0M122.41 490.75h0M105.43 483.76h0M124.88 490.85h0M125.32 492.67h0M112.58 486.94h0M106.15 484.67h0M111.15 478.68h0M115.13 491.02h0M113 482.95h0M114.09 491.73h0M105.68 481.45h0M113.43 477.41h0M112.72 490.67h0M107.3 484.64h0M111.64 487.07h0M109.92 486.21h0M112.81 489.17h0M110.33 473.92h0M110.77 474.42h0M112.59 483.08h0M108.6 484.35h0M117.59 489.17h0M105.47 483.73h0M113.14 491.02h0M109.33 479.97h0M114.13 490.38h0M114.27 482.39h0M114.59 480.31h0M121.38 489.79h0M107.93 486.27h0M119.51 488.85h0M120.65 489.16h0M114.06 490.09h0M110.95 477.13h0M111.42 475.75h0M122.18 489.52h0M112.71 488.62h0M105.43 483.7h0M122.35 488.71h0M114.45 490.42h0M110.31 488.5h0M114.67 492.52h0M121.1 486.21h0M159.58 491.44h0M175.1 486.89h0M182.72 455.53h0M182.6 470.8h0M160.63 486.16h0M183.17 469.02h0M163.16 489.91h0M177.16 482.62h0M163.57 489.6h0M168.81 475.56h0M183 469.07h0M179.51 457.51h0M171.27 489.35h0M165.49 479.25h0M161.89 481.44h0M177.9 468.87h0M182.09 448.45h0M176.39 479.44h0M173.06 488.67h0M157.57 490.17h0M174.14 487.9h0M182.94 472.96h0M169.48 474.19h0M166.48 477.89h0M174.16 487.85h0M179.8 453.11h0M170.12 491.72h0M181.07 457.87h0M180.75 476.73h0M158.4 489.64h0M170.31 487.04h0M175.2 486.19h0M173.07 479.81h0M165.31 492.51h0M165.32 484.16h0M175.99 480.78h0M170.81 491.83h0M168.29 479.45h0M167.14 473.21h0M164.84 491.6h0M166.21 476.42h0M175.59 484.31h0M168.41 481.14h0M162.33 483.08h0M168.15 478.67h0M164.75 481.35h0M158.95 489.68h0M178.45 474.92h0M179.44 465.92h0M169.74 489.74h0M181.78 463.79h0M184.29 467.47h0M170.58 467.75h0M164.55 492.03h0M171.59 489.11h0M175.85 467.76h0M176.94 473.1h0M175.82 485.67h0M160.79 486.97h0M170.71 483.76h0M168.06 473.42h0M171.45 479.31h0M173.23 488.98h0M169.49 490.26h0M177.48 482.28h0M179.41 480.26h0M174.48 487.66h0M179.96 461.49h0M183.36 465.73h0M178.42 481.8h0M159.16 490.73h0M160.88 484.4h0M179.06 473.32h0M159.26 490.01h0M169.66 482.01h0M170.07 486.37h0M156.89 492.84h0M161.23 491.59h0M162.57 491.53h0M174.18 461.32h0M180.55 476.49h0M181.56 475.53h0M168 471.72h0M173.91 487.26h0M177.14 474.86h0M164.04 489.79h0M166.5 475.75h0M163.2 480.64h0M157.06 489.41h0M167.19 477.87h0M168.44 488.08h0M160.57 486.51h0M176.19 481.75h0M156.04 493h0M161.32 488.55h0M183.48 471.31h0M159.88 491.76h0M174.28 487.85h0M170.4 492.22h0M179.74 473.45h0M163.08 489.46h0M170.99 478.14h0M175.25 464.33h0M170.86 484.74h0M174.34 479.98h0M176.53 483.58h0M174.01 464.92h0M179.76 464.77h0M176.36 479.95h0M170.11 487.26h0M183.73 470.11h0M165.47 492.43h0M165.43 490.51h0M176.46 472.04h0M156.67 491.84h0M168.08 490.79h0M164.57 487.12h0M168.44 492.01h0M161.05 486.59h0M180.73 477.33h0M167.46 486.16h0M160.78 487.05h0M176.83 484.21h0M168.23 487.7h0M177.86 467.48h0M169.6 484.19h0M157 489.63h0M180.56 463.72h0M182.39 473.37h0M168.18 488.93h0M179.04 480.46h0M172.33 489.78h0M183.3 472.47h0M179.66 479.6h0M165.16 489.37h0M182.7 468.84h0M155.18 492.6h0M170.02 468.31h0M177.69 482.01h0M175.61 484.53h0M163.63 487.59h0M176.94 478.72h0M174.92 486.87h0M181.92 464.3h0M177.42 460.88h0M179.76 462.41h0M183.04 469.68h0M173.12 488.84h0M169.71 491.17h0M180.25 452.35h0M183.42 471.17h0M174.77 487.1h0M183.04 472.39h0M177.84 476.8h0M160.5 487.83h0M172.44 484.74h0M171.02 472.68h0M181.85 457.15h0M179.94 474.96h0M178.77 465.83h0M175.42 478.44h0M173.65 466.78h0M159.81 491.92h0M163.23 490.77h0M163.78 479.09h0M161.51 482.85h0M177.26 466.14h0M176.72 469.24h0M176.81 483.71h0M174.45 479.35h0M172.65 489h0M174.7 467.9h0M176.25 476.62h0M182.13 471.76h0M181.83 474.38h0M183.6 449.42h0M177.37 483.28h0M180.14 478.65h0M181.61 473.76h0M182.29 474.49h0M159.09 487.34h0M161.08 484.15h0M162.96 483.22h0M179 475.56h0M177.36 482.95h0M167.92 489.59h0M179.66 478.32h0M176.09 485.16h0M178.98 477.75h0" stroke="#d6180a" stroke-opacity="0.65" stroke-width="1.7" stroke-linecap="round" fill="none"/>
<path d="M117.15 492.49h0M115.68 486.26h0M116.09 488.56h0M105.97 484.06h0M121.04 488.78h0M106.38 482.53h0M122.78 490.5h0M110.9 474.54h0M116.95 484.64h0M112.27 482.41h0M107.19 485.25h0M107.82 485.64h0M118.22 491.79h0M117.93 492.26h0M111.5 487.7h0M106.29 483.81h0M117.15 486.52h0M113.78 489.92h0M110.69 481.4h0M125.09 491.24h0M116.04 483.98h0M105.06 482.79h0M111.52 489.7h0M107.14 484.46h0M120.24 485.37h0M123.31 490.4h0M109.28 486.76h0M105.55 483.31h0M108.19 478.62h0M112.92 485.68h0M110.85 485.14h0M114.62 488.2h0M116.53 482.94h0M119.55 486.52h0M120.39 489.92h0M109.47 483.83h0M112.5 484.4h0M109.07 486.02h0M108.04 486.41h0M119.01 490.03h0M113.82 479.51h0M110.35 487.95h0M112.73 489.21h0M110.7 489.03h0M111.69 488.24h0M108.07 485.91h0M118.64 482.93h0M105.3 483.84h0M117.61 488.53h0M111.4 487.81h0M109.49 486.82h0M106.85 481.65h0M109.6 476.17h0M116.59 481.92h0M124.72 491.19h0M116.1 489.87h0M117.52 483.1h0M108.21 485.83h0M107.1 479.67h0M117.29 490.48h0M119.62 484.2h0M111.26 489.12h0M118.54 490.34h0M107.01 484.32h0M106.82 485.3h0M109.71 479.21h0M113.69 491.42h0M114.82 492.52h0M107.91 479.05h0M108.18 486.66h0M114.41 484.72h0M107.74 486.09h0M121.68 486.69h0M104.87 483.45h0M109.25 474.96h0M119.82 487.5h0M117.17 481.86h0M121.85 492.41h0M104.89 483.33h0M115.5 492.39h0M117.19 481.7h0M110.04 488.06h0M106.15 484.75h0M110.48 478.14h0M110.63 488.76h0M115.04 492.86h0M111.1 481.61h0M110.51 488.45h0M106.16 482.47h0M113.69 482.95h0M118.29 485.35h0M109.34 474.49h0M106.92 485.06h0M107.67 486.18h0M105.28 483.65h0M106.45 482.59h0M113.85 487.69h0M109.17 479.28h0M109.76 487.33h0M116.05 488.94h0M108.69 482.25h0M119.61 490.36h0M108.55 476.55h0M110.69 486h0M116.45 483.7h0M115.7 491.9h0M120.63 487.7h0M111.33 489.43h0M121.38 491.04h0M113.31 490.06h0M105.24 482.69h0M120.51 491.77h0M120.27 492.18h0M112.31 489.66h0M109.03 487.29h0M108.3 483h0M108.64 486.99h0M108.36 479.69h0M107.16 484.25h0M125.36 491.91h0M106.15 483.41h0M121.74 489.01h0M174.91 476.95h0M181.53 461.34h0M180.65 476.88h0M174.23 487.2h0M173.73 475.82h0M171.96 488.96h0M174.91 485.7h0M182.34 470.64h0M172.06 490.54h0M170.58 483.77h0M162.78 491.59h0M169.76 479.95h0M177.31 483.23h0M164.71 488.93h0M157.84 491.58h0M178.46 476.3h0M180.56 466.54h0M171.2 482.62h0M178.54 477.68h0M183.04 472.79h0M179.76 475.43h0M182.6 461.32h0M160.71 491.24h0M166.24 475.73h0M154.99 492.97h0M169.12 492.32h0M181.63 451h0M158.62 487.73h0M170.71 470.36h0M161.28 490.57h0M159.52 492.13h0M173.11 470.5h0M178.67 473.02h0M174.86 475.94h0M167.47 490.76h0M169.26 477.91h0M170.95 491.5h0M178.71 481.05h0M168.15 479.17h0M174.62 478.36h0M166.19 480.77h0M179 480.67h0M178.16 471.43h0M161.44 484.11h0M159.14 492.7h0M180.93 476.42h0M171.99 489.86h0M159.66 490.88h0M169.69 492.97h0M172.47 485.34h0M183.18 467.51h0M159.19 487.73h0M178.59 479.9h0M173.3 485.38h0M173.01 487.8h0M156.76 491.36h0M169.27 473.9h0M170.27 490.95h0M178.38 478.34h0M177.89 464.87h0M173.97 481.76h0M181.12 461.35h0M175.82 480.37h0M166.28 484.41h0M159.52 489.43h0M173.2 482.83h0M175.59 462.28h0M162.32 484.15h0M174.3 466.49h0M178.26 467.91h0M166.43 476.18h0M161.67 492.41h0M181.82 455.12h0M171.16 484.31h0M178.7 480.49h0M169.03 483.17h0M172.3 464.41h0M181.19 475.13h0M173.94 487.93h0M183.2 472.71h0M180.49 477.06h0M171.08 491.58h0M175.94 485.74h0M161.75 491.82h0M183.07 446.71h0M178.58 480.94h0M178.84 464.67h0M168.03 486.43h0M179.64 476.76h0M172.2 486.59h0M180.22 455.08h0M182.09 471.91h0M183.09 471.92h0M170.26 492.37h0M181.22 473.89h0M177.07 474.71h0M177.48 463.68h0M163.51 491.98h0M181.09 458.61h0M183.67 471.69h0M175.46 472.23h0M172.86 471.16h0M168.18 480.31h0M178.87 472h0M167.76 490.26h0M181.66 470.78h0M177.51 458.09h0M183.33 450.17h0M157.61 490.3h0M171.33 480.14h0M175.86 460.3h0M172.16 487.55h0M163.3 488.25h0M182.77 473.18h0M167.36 472.33h0M168.75 492.59h0M167.59 480.98h0M177.08 457.37h0M182.82 470.59h0M172.05 469.15h0M175.05 469.49h0M164.92 490.14h0M183.76 457.95h0M177.65 469.23h0M175.46 479.81h0M163.43 491.77h0M162.59 484.62h0M164.55 479.07h0M179.08 471.44h0M183.12 472.43h0M179.61 478.95h0M170.9 491.7h0M170.87 485.69h0M169.37 476.37h0M178.88 476.35h0M169.23 488.78h0M181.65 475.72h0M177.06 481.06h0M179.69 455.2h0M167.54 488.25h0M166.88 482.12h0M175.63 485.42h0M162.26 492.65h0M179.09 476.41h0M165.72 491.4h0M168.74 489.26h0M172.76 489.56h0M175.31 469.99h0M181.1 466.7h0M179.07 471.32h0M170.61 490.78h0M176.97 478.24h0M179.05 467.03h0M171.74 489.55h0M183.53 469.09h0M179.79 479.19h0M179.86 478.16h0M160.38 491.01h0M181.11 466.13h0M176.78 477.19h0M177.79 481.78h0M180.97 459.15h0M182.37 453.61h0M182.51 469.8h0M168.74 492.23h0M180.93 468.15h0M159.06 491.53h0M183.7 471.52h0M161.1 487.68h0M165.14 488.98h0M178.5 481.59h0M171.63 489.01h0M165.54 479.95h0M169.96 492.42h0M177.14 459.31h0M172.49 464.57h0M170.61 491.77h0M181.57 462.79h0M183.86 464.31h0M155.73 492.08h0M175.4 485h0M175.3 486.21h0M181.22 475.94h0M180.54 472.84h0M179.04 467.83h0M172.21 488.33h0M155.99 492.54h0M176.15 464.83h0M165.23 486.01h0" stroke="#d6180a" stroke-opacity="0.65" stroke-width="1.7" stroke-linecap="round" fill="none"/>
<path d="M106.72 482.33h0M116.22 485.9h0M112.16 485.71h0M108.42 481.27h0M125.6 492.19h0M112.29 476.2h0M112.93 490.94h0M114.95 492.46h0M118.81 484.16h0M109.35 475.07h0M113.65 491.29h0M115.96 489.53h0M107.49 485.91h0M106.97 479.43h0M113.05 489.43h0M111.08 479.12h0M108.61 479.91h0M109.32 485.32h0M118.88 486.9h0M118.64 488.72h0M106.51 479.79h0M116.42 493h0M111.87 490.16h0M117.68 486.07h0M115.3 484.12h0M119.27 488.95h0M118.1 486.59h0M116.2 491.54h0M111.09 473.71h0M109.14 486.17h0M111.57 487.86h0M120.6 485.97h0M114.85 492.59h0M121.84 490.27h0M115.73 479.92h0M119.94 492.17h0M111.66 487.72h0M109.89 488.04h0M118.47 491.15h0M106.68 484.24h0M114.96 479.79h0M113.25 483.27h0M105.94 482.75h0M105.71 482.21h0M107.38 480.8h0M117.27 490.74h0M114.6 489.5h0M105.12 483.82h0M113.42 491.3h0M115.24 484.58h0M105.45 484.01h0M108.98 484.43h0M106.67 484.14h0M105.6 481.89h0M116.52 490.28h0M123.73 492.97h0M116.19 487.86h0M108.78 485.02h0M106.71 481.9h0M110.75 484.88h0M116.94 492.46h0M116.24 491.94h0M119.3 490.93h0M110.1 485.42h0M105.42 483.59h0M115.49 489.39h0M112.92 490.54h0M111.85 484.73h0M117.4 492.59h0M115.56 489.12h0M115.12 492.45h0M110.68 478.66h0M108.08 486.09h0M105.84 484.23h0M112.67 489.23h0M120.03 489.16h0M107.18 485.69h0M106.76 484.68h0M114.98 485.87h0M107.45 483.46h0M111.38 488.69h0M121.22 491.66h0M125.8 492.77h0M120.25 486.98h0M116.86 492.9h0M113.97 485.45h0M114.73 490.46h0M118.16 485.76h0M119 485.79h0M118.35 490h0M106.62 484.7h0M107.39 485.88h0M119.27 492.29h0M107.81 486.18h0M106.46 483.4h0M114.45 482.9h0M120.32 490.87h0M105.25 483.67h0M119.2 492.82h0M109.19 486.88h0M113.63 490.99h0M120.43 492.59h0M112.68 484.65h0M111.92 488.35h0M116.27 489.66h0M109.17 477.6h0M118.06 483.86h0M118.49 485.61h0M114.04 491.33h0M115.31 492.93h0M120.48 485.33h0M111.41 488.31h0M113.89 476.54h0M111.48 484.92h0M112.97 490.6h0M111.58 475.96h0M117.65 486.37h0M105.58 484.04h0M113.27 491.29h0M110.1 488.36h0M109.79 485.92h0M105.84 481.97h0M181.63 471.93h0M169.3 481.32h0M177.85 463.8h0M179.88 467.89h0M184.25 468.07h0M181.46 476.08h0M183.22 472.61h0M173.4 480.54h0M162.59 492.06h0M174.52 469.7h0M170.9 488.21h0M181.52 466.65h0M177.62 483h0M165.13 485.11h0M178.41 456.41h0M166.32 483.11h0M175.87 472.04h0M171.51 485.81h0M171.13 491.54h0M179.4 464.64h0M172.58 481.48h0M183.48 471.94h0M183.21 472.26h0M174.12 486.35h0M173.55 484.33h0M169.01 469.86h0M163.58 486.83h0M179.15 479.01h0M158.65 490.79h0M163.54 489.4h0M166.48 481.5h0M178.66 473.44h0M173.51 478.09h0M172.38 488.41h0M181.06 456.64h0M174.43 484.07h0M179.74 479.22h0M165.54 492.06h0M182.11 463.44h0M179.8 477.89h0M176.72 477.13h0M176.54 482.54h0M177.67 474.22h0M170.11 486.36h0M162.19 489.59h0M181.6 470h0M159.37 491.47h0M174.08 487.25h0M163.33 484.37h0M180.37 478.11h0M159.57 492.97h0M156 491.24h0M157.48 488.88h0M160.39 492.69h0M182 464.24h0M178.57 460.38h0M169.58 471.58h0M175.57 458.63h0M170.72 483.89h0M168.47 480.36h0M182.67 469.67h0M164.39 478.98h0M182.93 470.53h0M183.83 457.16h0M163 492.76h0M174.54 463.65h0M161.64 487.63h0M171.36 482.21h0M183.06 472.88h0M183.9 470.29h0M165.85 482.42h0M176.16 483.65h0M171.52 482.9h0M164.6 489.45h0M183.23 471.76h0M172.22 486.83h0M182.86 470.24h0M167.33 492.06h0M169.7 492.26h0M171.13 490.84h0M176.13 481.5h0M163.49 487.35h0M172.32 489.83h0M175.54 485.02h0M166.71 492.88h0M169.68 483.72h0M173.94 479.23h0M164.79 478.95h0M171.84 486.38h0M160 491.1h0M176.9 473.76h0M162.34 485.93h0M179.66 464.68h0M163.13 490.52h0M176.61 469.51h0M174.14 465.68h0M174.22 487.27h0M160.44 484.73h0M183.19 466.47h0M158.59 489.81h0M165.14 484.51h0M167.66 472.4h0M170.84 467.37h0M178.89 454.13h0M163.39 484.5h0M163.25 485.21h0M176.39 484.05h0M159.87 484.76h0M161.6 492.6h0M160.29 486h0M172.87 470.87h0M160.09 491.26h0M172.76 484.72h0M168.43 474.84h0M161.16 488.84h0M176.32 483.89h0M176.86 471.25h0M173.09 469.44h0M182.78 458.18h0M181.42 466.61h0M155.69 492.54h0M170.02 482.65h0M180.68 476.29h0M183.5 457.46h0M179.72 470.94h0M177.82 482.64h0M166.55 474.14h0M182.78 458.14h0M183.42 455.51h0M182.5 468.4h0M170.4 483.28h0M173.3 473.07h0M160.74 489.33h0M179.23 457.29h0M178.77 480.92h0M157.63 493.01h0M162.04 492.62h0M159.8 487.8h0M180.69 453.65h0M179.34 457.77h0M181.58 461.14h0M159.77 492.47h0M178.01 458.73h0M172.95 489.03h0M176.08 484.96h0M174.94 486.72h0M181.97 453.39h0M170.61 473.46h0M180.02 458.43h0M171.93 490.13h0M174.43 475.15h0M161.41 483.94h0M166.44 474.99h0M177.99 458.1h0M178.42 481.84h0M177.17 481.82h0M161.47 485.36h0M160.57 488.28h0M179.67 457.44h0M182.92 470.63h0M182.96 472.01h0M172.7 479.49h0M169.53 492.89h0M169.21 471.69h0M171.25 488.49h0M166.35 483.97h0M161.47 488.54h0M184.2 462.25h0M178.98 479.48h0M179.85 454.51h0M178.99 480.74h0M169.73 492.74h0M164.27 479.82h0M164.79 486.83h0M181.43 453.79h0M173.39 488.72h0M171.16 485.97h0M169.87 473.01h0M170.78 479.24h0M183.7 445.85h0M167.07 488.5h0M180.51 476.62h0M161.08 493h0M172.74 487.4h0M159.99 491.72h0M180.47 464.61h0M177.71 475.49h0M181.05 462.15h0" stroke="#d6180a" stroke-opacity="0.65" stroke-width="1.7" stroke-linecap="round" fill="none"/>
<path d="M120.7 489.85h0M107.18 485.19h0M121.98 490.33h0M118 482.43h0M111.21 488.84h0M111.84 489.83h0M113.63 491.36h0M113.5 479.43h0M112.36 486.11h0M109.05 480.83h0M106.64 480.56h0M118.76 483.65h0M117.14 484.72h0M122.35 491.46h0M114.9 478.8h0M119.33 486.08h0M105.97 483.52h0M115.49 489.81h0M113.75 480.89h0M112.41 490.6h0M106.46 484.79h0M121.71 492.96h0M116.5 491.07h0M107.14 482.42h0M113.5 482.15h0M105.55 483.97h0M115.34 491.84h0M114.69 481.57h0M120.58 487.77h0M107.53 484.36h0M111.65 488.71h0M111.9 487.38h0M121.45 492.41h0M117.26 492.52h0M106.86 482.57h0M123.12 489.36h0M108.06 486.31h0M116.38 479.93h0M110.99 488.78h0M107 480.61h0M114.41 490.61h0M115.38 490.76h0M110.65 488.93h0M123.49 490.54h0M116.57 492.77h0M109.06 484.99h0M115.83 490.12h0M111.94 490.09h0M113.49 491.56h0M114.91 491.67h0M125.22 491.12h0M122.18 491.26h0M113.37 491.33h0M105.74 483.95h0M110.76 483.14h0M117.94 488.45h0M110.45 488.53h0M110.42 487.79h0M118.46 490.35h0M122.1 492.82h0M110.99 486.2h0M105.67 483.72h0M110.72 478.83h0M113.47 484.7h0M113.06 486h0M111.23 489.55h0M119.22 483.94h0M124.25 491.63h0M111.28 478.45h0M122.54 489.8h0M111.72 486.8h0M116.38 482.69h0M105.06 482.9h0M110.4 477.24h0M109.42 479.5h0M115.4 490.38h0M108.07 484.99h0M114.72 492.77h0M108.93 486.27h0M106.59 484.22h0M118.92 484.51h0M111.86 488.32h0M113.33 491.3h0M113.65 490.82h0M111.27 484.19h0M113 480.15h0M107.51 484.48h0M119.98 489.15h0M108.35 478.03h0M110.31 486.13h0M105.02 483.59h0M119.68 489.62h0M105.74 483.89h0M112.75 488.94h0M119.23 491.34h0M119 488.64h0M118.65 487.74h0M106.86 484.01h0M124.14 490.78h0M121.66 491.63h0M109.17 475.31h0M111.77 476.16h0M109.19 482.63h0M115.24 490.98h0M122.07 490.86h0M105.56 483.52h0M114.67 481.11h0M108.1 479.34h0M106.33 480.82h0M106.14 484.03h0M113.87 491.78h0M107.44 478.97h0M110.87 482.41h0M115.43 492.18h0M105.58 482.63h0M113.07 477.31h0M110.59 476.39h0M107.94 486.09h0M109.46 479.3h0M112.31 481.19h0M108.61 484.23h0M163.21 491h0M176.58 459.93h0M169.13 492.69h0M175.51 469.36h0M173.61 483.12h0M169.18 492.4h0M180.55 471.67h0M175.83 475.02h0M184.24 469.14h0M161.45 488.07h0M178.31 472.6h0M172.87 489.73h0M166.37 476.21h0M168.66 492.95h0M169.69 489.56h0M167.98 485.95h0M184.03 462.27h0M159.16 490.7h0M174.2 464.8h0M183.5 463.19h0M178.88 457.63h0M178.64 470h0M165.45 489.63h0M174.67 486.02h0M163.09 482.82h0M182.72 460.85h0M173.1 489.34h0M157.64 489.18h0M159.45 492.45h0M183.26 451.68h0M157.54 492.68h0M179.68 469.93h0M175.29 483.88h0M173.69 486.71h0M169.55 492.48h0M183.89 458.31h0M159.34 490.95h0M167.18 489.1h0M162.9 480.71h0M181.26 464.98h0M180.2 463.08h0M156.69 492.95h0M181.87 467.3h0M181.9 462.09h0M175 469.87h0M161.54 485.82h0M165.51 477.33h0M163.58 482.69h0M172.99 475.04h0M168.37 492.08h0M166.72 482.35h0M171.03 488.12h0M169.75 488.49h0M179.34 469.45h0M181.68 472.29h0M175.17 486.75h0M156.54 491.08h0M167.6 472.55h0M177.22 482.52h0M177.78 468.06h0M168.02 482.86h0M172.88 487.24h0M183.38 471.96h0M175.94 469.14h0M184.06 460.37h0M183.89 470.72h0M181.05 462.09h0M181.27 451.98h0M162.38 481.09h0M157.47 492.14h0M160.51 483.83h0M172.3 490.28h0M172.73 481.15h0M169.44 482.47h0M178.11 465.37h0M177.53 482.56h0M172.98 485.76h0M178.16 482.37h0M172.22 490.13h0M157.36 491.04h0M175.54 474.46h0M164.64 488.69h0M160.29 490.59h0M168.23 479.84h0M184.16 470.19h0M165.25 481.67h0M170.33 471.54h0M178.66 471.73h0M171.77 489.68h0M171.15 490.3h0M170.76 478.58h0M170.39 491.82h0M183.76 461.9h0M177.23 476.02h0M177.48 459.2h0M176.13 485.03h0M167.8 487.83h0M177.71 480.01h0M174.89 486.88h0M166.7 487.48h0M181.13 476.14h0M175.73 485.85h0M169.79 492.52h0M172.9 489.51h0M168.93 482.28h0M178.77 460.76h0M158.62 491.29h0M164.82 492.89h0M170.21 481.49h0M183.76 470.37h0M182.08 475.09h0M180.53 450.51h0M178.47 462.18h0M166.51 492.9h0M160.47 487.18h0M170.5 492.11h0M167.07 483.22h0M169.89 489.31h0M167.49 475.98h0M179.79 476.95h0M174.55 471.54h0M180.21 454.24h0M182.29 461.01h0M177.54 470.5h0M161.6 482.77h0M174.76 477.27h0M171.64 471.33h0M162.79 484.84h0M177.24 479.71h0M173.77 463.94h0M180.06 475.73h0M181.8 471.56h0M174.07 473.85h0M176.5 484.01h0M167.69 482.79h0M181.5 474.07h0M164.86 490.02h0M163.65 491.6h0M184.06 465.41h0M168.19 483.73h0M182.97 465.71h0M176.28 464.95h0M181.57 471.73h0M170.79 490.41h0M163.2 483.41h0M170.96 481.08h0M176.38 477.01h0M168.15 491.1h0M184.16 468.98h0M183.7 462.15h0M160.41 485.28h0M161.92 485.19h0M164.27 481.4h0M175.83 480.98h0M184.15 469.32h0M160.12 484.86h0M166.22 484.36h0M176.59 479.68h0M177.96 458.71h0M164.52 491.66h0M157.7 492.51h0M168.23 491.84h0M171.81 467.31h0M172.79 476.81h0M178.5 456.02h0M184.05 455.72h0M181.45 473.28h0M156.49 490.69h0M176.36 480.32h0M171.47 491.06h0M176.59 477.53h0M172.54 487.16h0M170.61 482.29h0M181.42 464.61h0M162.1 488.98h0M183.74 467.73h0M166.14 487.34h0M179.25 456.78h0M183.72 456.5h0M173.13 488.81h0M177.82 475.37h0M160.62 491.43h0M171.01 491.69h0M168.31 491.96h0M164.51 490.67h0M175.76 480.33h0M180.08 473.88h0M180.58 461.1h0M164.48 480.5h0" stroke="#d6180a" stroke-opacity="0.65" stroke-width="1.7" stroke-linecap="round" fill="none"/>
<path d="M75.71 467.47h0M75.86 468.01h0M76.29 468.3h0M76.33 468.48h0M76.56 468.97h0M76.61 469.09h0M76.8 469.18h0M77.11 469.35h0M77.08 469.93h0M77.3 469.95h0M77.32 470.17h0M77.7 470.53h0M77.81 470.86h0M77.88 470.82h0M78.14 471.3h0M78.34 471.5h0M78.55 471.38h0M78.64 471.69h0M78.82 472.13h0M79.03 472.1h0M79.03 472.31h0M79.37 472.74h0M79.43 472.89h0M79.66 473.07h0M79.6 473.48h0M80.01 473.51h0M80.08 473.6h0M80.12 473.75h0M80.45 474.26h0M80.46 474.22h0M80.69 474.47h0M80.98 474.66h0M80.95 474.93h0M81.35 475.25h0M81.22 475.23h0M81.35 475.64h0M81.76 475.65h0M81.77 476.12h0M81.85 476.28h0M82.32 476.45h0M82.28 476.68h0M82.69 476.81h0M82.73 477.03h0M83.02 477.38h0M83.07 477.38h0M83.02 477.58h0M83.31 477.86h0M83.49 477.88h0M83.54 478.28h0M83.86 478.49h0M83.87 478.55h0M84 478.64h0M84.26 478.88h0M84.66 479h0M84.65 479.19h0M84.96 479.39h0M85.12 479.67h0M85.08 479.78h0M85.35 479.96h0M85.53 480.34h0M85.54 480.58h0M85.88 480.54h0M86.12 481.06h0M86.24 481.27h0M86.22 481.14h0M86.42 481.65h0M86.68 481.52h0M86.88 481.99h0M86.92 482.11h0M87.25 482.21h0M87.38 482.46h0M87.55 482.76h0M87.45 482.69h0M87.79 482.94h0M87.84 482.99h0M88.06 483.58h0M88.21 483.46h0M88.36 483.8h0M88.39 483.81h0M88.75 484.08h0M88.98 484.17h0M88.9 484.67h0M89.33 484.75h0M89.44 484.76h0M89.42 485.05h0M89.8 485.24h0M89.89 485.27h0M90.23 485.52h0M90.17 485.94h0M90.56 485.95h0M90.53 486.32h0M90.7 486.22h0M90.76 486.49h0M90.84 486.57h0M91.36 487.06h0M187.07 487.94h0M187.42 487.29h0M187.68 487.01h0M187.98 487.2h0M188.19 486.78h0M188.36 486.79h0M188.77 486.37h0M188.7 486.17h0M189.33 485.72h0M189.4 485.25h0M189.55 485.42h0M189.97 484.98h0M190.32 484.87h0M190.6 484.48h0M190.62 484.26h0M191.04 483.87h0M191.29 483.16h0M191.3 483.22h0M191.56 482.95h0M191.86 482.26h0M192.42 481.92h0M192.4 481.83h0M192.83 481.32h0M192.86 481.08h0M193.3 481.19h0M193.69 480.3h0M193.62 480.34h0M193.85 479.88h0M194.23 479.43h0M194.72 479.28h0M194.92 478.81h0M195.26 478.84h0M195.13 478.36h0M195.66 478h0M195.98 477.4h0M196.23 477.26h0M196.53 476.82h0M196.5 476.61h0M197.02 476.03h0M197.13 475.99h0M197.53 475.4h0M197.57 475.26h0M197.78 474.54h0M197.99 474.4h0M198.53 474.32h0M198.61 473.52h0M199.03 473.15h0M199.37 473.2h0M199.33 472.47h0M199.54 472.54h0M199.86 472.02h0M200.31 471.42h0M200.39 471.1h0M200.69 471.08h0M200.84 470.71h0M201.09 470.17h0M201.42 469.62h0M201.62 469.54h0M202.18 468.83h0M202.14 468.68h0M202.35 468.37h0M202.9 467.65h0M202.98 467.78h0M203.2 466.89h0M203.5 466.82h0M203.89 466.4h0M203.87 466.13h0M204.35 465.67h0M204.54 465.06h0M204.79 464.69h0M205.23 464.68h0M205.25 464.26h0M205.52 463.85h0M205.79 463.53h0M206.16 462.88h0M206.53 462.56h0M206.82 462.21h0M206.7 461.92h0M206.98 461.71h0M207.31 461.08h0M207.53 460.7h0M207.77 460.06h0M208.04 460.07h0M208.5 459.33h0M208.7 459.06h0M208.82 458.53h0M209.22 458.08h0M209.36 458.17h0M209.71 457.82h0M209.88 457.27h0M210.34 456.76h0M210.47 456.4h0M210.86 455.99h0M210.88 455.57h0M211.25 455.17h0M211.44 454.99h0M211.79 454.12h0M211.85 454.18h0M212.47 453.81h0M212.47 453.49h0M212.68 452.99h0M212.88 452.22h0M213.47 451.97h0M213.44 451.41h0M213.94 451.06h0M213.95 450.73h0M214.38 450.49h0M214.68 449.84h0M214.7 449.62h0M215.08 449.26h0" stroke="#d6180a" stroke-opacity="0.85" stroke-width="1.9" stroke-linecap="round" fill="none"/>
<path d="M63.2 445.35h0M63.9 446.87h0M81.4 445.35h0M88.4 457.52h0M101 459.04h0M97.5 464.11h0M96.8 465.12h0M98.2 463.1h0M94.7 474.25h0M95.4 473.24h0M188.08 445.49h0M197.95 460.86h0M182.39 453.33h0M189.87 436.93h0M197.39 461.94h0M186.43 454.79h0M192.12 434.65h0M181.52 436.95h0M195.33 461.84h0M193.12 437.57h0M181.38 438.09h0M181.05 432.93h0M184.53 454.8h0M180.59 458.11h0M197.9 443.22h0M180.77 441.98h0M186.5 450.56h0M192.85 451.59h0M189.94 432.42h0M197.34 455.51h0M196.26 459.17h0M198.17 442.37h0M187.8 425.07h0M192.7 428.11h0M203.9 415.44h0M206.7 415.44h0M188.5 437.24h0M201.1 438.76h0M198.3 436.23h0M201.8 443.83h0M217.2 444.34h0M219.3 440.79h0M223.5 434.2h0M226.3 428.62h0M229.8 422.54h0M232.6 416.45h0M234.7 413.41h0M216.5 446.37h0" stroke="#dd3a30" stroke-opacity="0.72" stroke-width="2.2" stroke-linecap="round" fill="none"/>
<path d="M133.97 498.59h0M137.96 499.42h0M140.02 497.24h0M137.14 498.49h0M122.6 495.25h0M133.09 498.58h0M127.26 494.98h0M125.12 496.51h0M122.71 495.72h0M121.69 495.42h0M138.12 498.1h0M120.56 494.1h0M125.26 495.73h0M123.45 495.74h0M132.06 496.11h0M131.24 497.71h0M132.95 496.82h0M131.71 497.81h0M117.01 493.78h0M135.9 498.53h0M117.98 493.58h0M119.53 493.92h0M119.31 494.16h0M126.51 494.53h0M135.91 497.43h0M128.35 495.29h0M128.69 495.63h0M129.84 497.88h0M137.6 499.29h0M137.82 497.97h0M119.49 493.25h0M132.53 497.75h0M121.36 494.98h0M116.9 493.28h0M126.16 495.7h0M115.54 493.2h0M124.43 496.25h0M135.5 498.63h0M127.11 496.58h0M127.15 493.81h0M117.49 493.58h0M137.55 499.01h0M122.34 495.26h0M122.96 493.75h0M127.86 494.78h0M129.8 497.1h0M133.87 498.4h0M135.62 498.79h0M126.41 495.66h0M137.17 498.94h0M133.2 498.18h0M129.97 495.38h0M132.76 498.27h0M130.25 497.93h0M127.64 497.25h0M131.33 498.11h0M126.11 495.32h0M120.32 493.2h0M131.37 498.23h0M121.98 494.26h0M137.45 499.35h0M136.95 499.26h0M132.72 497.9h0M140.1 498.04h0M139.59 497.8h0M126.24 494.57h0M132.91 498.53h0M133.54 498.49h0M135.61 496.43h0M125.74 496.6h0M122.9 494.45h0M137.54 498.22h0M128.18 496.34h0M125.06 494.18h0M120.97 495.16h0M119.8 494.4h0M132.79 498.48h0M133.14 497.62h0M118.57 494.3h0M139.79 498.38h0M132.21 498.36h0M128.97 496.64h0M126.4 496.66h0M135.74 498.79h0M132.68 498.43h0M131.85 496.06h0M127.29 497.2h0M126.84 495.7h0M117.72 493.52h0M139.74 499.37h0M139.69 499.46h0M115.81 493.32h0M127.15 495.29h0M136.85 497.62h0M130.5 498h0M131.24 497.88h0M122.69 495.55h0M133.35 498.57h0M117.7 494h0M138.52 498.68h0M125.38 496.03h0M126.24 493.67h0M139.6 497.65h0M133.77 498.73h0M135.94 499.01h0M133.99 498.79h0M123.88 495.88h0M138.64 497.42h0M138.64 499.45h0M135.93 497.4h0M137.02 497.5h0M133.82 497.81h0M131.58 495.58h0M135.59 499.02h0M121.91 495.54h0M135.57 496.51h0M122.79 495.75h0M137.82 499.21h0M133.57 498.2h0M129.83 497.79h0M134.1 497.31h0M126.81 494.14h0M129.27 497.36h0M137.88 499.4h0M135.2 497.86h0M135.67 499.06h0M136.45 499.08h0M138.71 499.18h0M126.73 496.97h0M121.4 493.95h0M129.47 497.78h0M122.15 495.16h0M122.88 495.52h0M139.82 497.9h0M128.41 494.65h0M133.29 496.33h0M129.58 497.79h0M127.8 494.19h0M135.45 499.05h0M127.94 497.34h0M132.63 498.5h0M132.75 498.54h0M135.1 498.78h0M126.62 495.82h0M133.19 498.06h0M136.19 498.57h0M127.76 494.58h0M126.51 496.86h0M125.74 494.2h0M136.93 498.04h0M129.61 496.14h0M132.8 496.07h0M128.71 495.09h0M121.12 495.23h0M136.36 499.18h0M126.42 495.87h0M118.91 493.4h0M136.35 499.2h0M120.7 493.93h0M120.48 494.92h0M134.45 496.81h0M127.16 496.73h0M121.48 495.32h0M116.83 493.7h0M122.28 495.61h0M125.72 493.87h0M127.12 496.75h0M139.8 499.53h0M132.76 498.43h0M122.63 493.89h0M131.67 498h0M129.75 497.7h0M123.31 494.13h0M131.17 498.17h0M122.85 493.53h0M131.73 497.17h0M132.92 495.94h0M127.31 497.1h0M134.6 498.81h0M137.55 499.38h0M131.63 498.1h0M128.09 494.93h0M117.31 493.84h0M129.17 497.56h0M126.54 494.28h0M137.34 498.93h0M119.93 494.73h0M122.11 494h0M118.83 493.32h0M136.13 496.71h0M130.58 496.05h0M121.49 494.54h0M126.16 495.87h0M139.78 497.93h0M130.95 495.02h0M136.46 499.01h0M129.19 496.51h0M125.71 496.56h0M118.61 493.24h0M137 499.2h0M116.54 493.55h0M128.32 497.45h0M133.45 497.84h0M139.57 497.96h0M125.53 496.68h0M131.19 497.82h0M138.67 498.21h0M122.26 493.62h0M135.73 498.59h0M117.2 493.22h0M129.45 497.07h0M134.72 498.41h0M139.96 499.59h0M130.69 497.17h0M124.29 495.28h0M138.82 498.69h0M136.41 496.78h0M135.28 498.61h0M133.57 498.73h0M136.35 497.72h0M126.8 497.02h0M137.6 499.36h0M135.14 498.8h0M134.22 498.43h0M135.29 498.99h0M125.17 495.19h0M136.67 497.63h0M129.38 497.6h0M122.74 495.81h0M138.18 499.29h0M139.7 499.19h0M117.15 493.17h0M137.85 498.87h0M126.41 496.69h0M137.09 499.3h0M130.41 497.93h0M121.65 493.36h0M124.02 495.74h0M127.87 497.22h0M137.3 499.11h0M128.95 495.57h0M126.36 493.9h0M130.96 497.57h0M127.25 495.46h0M131.71 498.08h0M130.21 496.76h0M121.18 495.3h0M140.04 499.6h0M135.6 497.91h0M136.56 497.12h0M133.81 496.36h0M137.77 499.2h0M132.24 496.37h0M135.99 498.08h0M138.14 499.1h0M137.15 499.01h0M136.17 497.61h0M133.28 498.43h0M132.17 498.37h0M124.17 493.37h0M116.93 493.69h0M127.61 497.04h0M136.71 498.03h0M119.75 493.78h0M140.21 499.59h0M133.78 497.99h0M140.26 499.38h0M121.28 495.22h0M136.67 498.46h0M128.19 496.76h0M136.11 499.17h0M135.48 498.58h0M134.06 497.17h0M131.01 497.31h0M131.33 497.86h0M129.9 494.67h0M116.82 493.27h0M139.29 499.02h0M130.92 496.45h0M132.32 498.24h0M136.76 499.25h0M117.93 493.89h0M115.43 493.16h0M124 496.08h0M122.14 495.55h0M132.29 498.46h0M115.51 493.1h0M136.42 496.99h0M127.14 497.08h0M126.54 493.03h0M128.21 496.24h0M134.43 497.72h0M128.19 495.95h0M136.98 499.16h0M138.92 498.57h0M118.39 494.15h0M139.54 499.43h0M137.59 499.31h0M129.68 497.78h0M126.22 493.45h0M131.81 497.18h0M129.48 497.57h0M120.77 495.09h0M136.39 498.34h0M120.2 494.94h0M135.04 496.31h0M135.36 497.81h0M122.35 494.7h0M118.66 493.5h0M134.39 498.02h0M125.9 496.62h0M139.39 499.34h0M139.77 499.47h0M122.52 494.16h0M134.7 498.91h0M131.77 496.26h0M129.71 497.74h0M130.15 497.18h0M123.75 495.46h0M126.35 493.83h0M122.41 494.46h0M120.56 494.96h0M134.53 498.48h0M137.16 499.32h0M139.01 499.17h0M115.86 493.17h0M133.22 498.58h0M131.1 498.07h0M124.04 493.7h0M138.88 497.07h0M132.91 498.55h0M134.31 498.82h0M136.56 499.2h0M133.32 498.65h0M136.99 496.72h0M137.25 498.83h0M139.07 497.54h0M134.62 498.89h0M136.97 499.3h0M123.81 496.07h0M134.55 498.92h0M132.6 498.12h0M129.47 497.76h0M123.99 496.16h0M134.34 498.43h0M119.76 494.68h0M119.05 494.41h0M125.03 494.88h0M129.49 496.92h0M135.14 498.23h0M122.06 495.58h0M136.13 498.83h0M137.11 498.82h0M139.48 499.54h0M135.59 498.68h0M129.42 497.32h0M134.63 498.63h0M117.14 493.33h0M132.89 498.46h0M140 497.56h0M137.04 498.84h0M136.7 499.28h0M123.3 493.51h0M138.57 497.5h0M130.95 497.89h0M132.72 497.09h0M123.95 495.69h0M130.21 497.69h0M129.41 494.25h0M128.41 496.91h0M137.51 499.34h0M134.37 498.75h0M139.58 498.21h0M139.03 497.42h0M136.31 499.2h0M138.83 497.89h0M140 499.6h0M125.7 493.65h0M124.35 495.76h0M135.64 497.79h0M127.45 495.91h0M127.68 496.48h0M138.44 499.17h0M138.4 499.31h0M127.24 493.55h0M132.85 498.35h0M116.83 493.51h0M138.73 499.51h0M125.81 495.96h0M134.69 498.28h0M138.37 499.18h0M123.38 496.01h0M131.49 495.18h0M125.08 495.72h0M137.97 497.41h0M139.49 499.41h0M137.18 497.74h0M125.85 496.77h0M130.1 496.46h0M131.37 498.08h0M120.27 494.98h0M123.9 495.48h0M121 494.83h0M131.1 495.01h0M135.39 499h0M120.61 493.93h0M132.96 496.91h0M115.7 493.23h0M136.48 499.22h0M134.8 497.15h0M125.81 496.71h0M129.17 497.14h0M137.28 497.67h0M138.78 499.5h0M121.45 493.55h0M139.49 499.56h0M131.74 496.78h0M134 498.32h0M129.4 497.53h0M129.44 496.28h0M122.74 495.83h0M136.21 498.57h0M126.95 496.9h0M125.24 493.04h0M123.65 494.37h0M127.05 496.28h0M136.56 498.78h0M128.23 496.4h0M121.29 494.61h0M134.31 498.86h0M129.89 497.46h0M131.83 498.16h0M132.17 498.09h0M119.26 494.5h0M117.99 494.16h0M136.82 499.03h0M121.75 493.48h0M126.81 496.97h0M125.92 495.5h0M123.97 493.31h0M131.21 498.18h0M132.69 497.79h0M136.91 498.89h0M125.27 496.6h0M133.89 498.32h0M131.51 498.07h0M134.19 497.06h0M124.39 495.92h0M136.95 498.53h0M132.16 498.25h0M136.83 499.27h0M137.63 498.86h0M135.14 499h0M137.72 497.41h0M139.89 499.51h0M122.69 494.15h0M135.34 498.63h0M118.25 494.21h0M131.31 498.23h0M132.96 497.51h0M123.74 494.48h0M137.12 497h0M137.99 499.26h0M139.55 499.36h0M135.59 499.1h0M136.51 496.99h0M135.59 498.96h0M125.84 496.77h0M130.04 497.85h0M132.51 496.42h0M131.08 498.13h0M137.29 499.33h0M119.07 494.15h0M131.23 498.2h0M140 497.16h0M131.02 497.5h0M119.59 494.39h0M128.95 494.5h0M126.14 495.42h0M135.12 498.36h0M137.93 498.26h0M133.92 496.74h0M127.84 497.22h0M136.42 499.16h0M122.1 495.17h0M120.01 493.87h0M127.16 496.62h0M139.75 499.31h0M122.7 495.5h0M127.96 495.57h0M138.62 498.81h0M132.87 497.82h0M139.91 497.91h0M126.66 496.81h0M138.33 498.74h0M135.5 496.87h0M133.04 496.92h0M131.18 497.41h0M123.78 496.09h0M129.61 494.71h0M132.01 498.38h0M128.84 497.07h0M132.17 498.4h0M122.93 493.38h0M132.65 496.81h0M136.72 498.73h0M140.13 497.35h0M133.28 497.57h0M118.78 494.45h0M127.79 495.32h0M129.19 497.45h0M133.39 498.65h0M127.98 496.34h0M135.8 497.4h0M131.93 497.17h0M119.59 494.51h0M133.05 498.52h0M130.72 497.83h0M131.46 496.81h0M134.63 498.12h0M138.69 497.6h0M116.33 493.51h0M137.62 499.32h0M138.24 498.39h0M124.52 494.79h0M135.68 499.05h0M124.84 496.39h0M128.16 494.66h0M133.04 497.61h0M135.39 498.45h0M131.42 495.36h0M122.9 493.64h0M128.6 495.27h0M126.84 497.03h0M127.56 497.29h0M122.3 495.65h0M138.39 499.43h0M119.69 494.75h0M126.87 496.58h0M130.91 495.39h0M139.03 499.19h0M127.59 493.76h0M134.2 497.34h0M123.59 496.06h0M139.99 498.61h0M138.3 497.56h0M123.08 493.55h0M127.23 496.94h0M126.33 494.01h0M126.98 496.84h0M120.81 493.64h0M131.89 496.97h0M125.88 495.88h0M123.97 494.98h0M125.68 495.75h0M129.01 495.94h0M138.58 499.33h0M137.06 498.32h0M134.83 498.78h0M138.43 498.45h0M124.36 493.49h0M137.69 499.28h0M135.74 498.82h0M130.64 497.86h0M126.14 493.14h0M128.73 495.99h0M129.41 494.77h0M138.15 499.39h0M134.32 498.12h0M128.35 496.54h0M125.13 495.24h0M136.2 498.15h0M135.7 498.91h0M133.32 497.45h0M127.8 497.08h0M136.6 498.4h0M138.14 499.39h0M131.29 496.82h0M123.71 493.41h0M131.56 495.84h0M129.8 497.14h0M121.41 494.94h0M139.05 498.24h0M125.13 496.54h0M128.74 496.26h0M139.46 497.38h0M139.36 497.81h0M131.12 497.92h0M134.97 496.76h0M116.84 493.43h0M135.38 497.74h0M117.43 493.83h0M124.04 495.5h0M147.74 497.29h0M145.44 498.92h0M154.58 497.04h0M144.45 496.59h0M151.98 495.85h0M145.13 498.77h0M156.2 496.32h0M141.6 499.54h0M153.89 497.48h0M161.2 495.37h0M158.72 494.7h0M149.57 495.64h0M166.33 493.38h0M152.61 494.75h0M149.66 496.21h0M144.93 497.61h0M142.73 499.2h0M159.68 495.83h0M144.76 499.17h0M140.48 499.15h0M158.08 496.22h0M142.34 499.44h0M153.14 497.55h0M153.54 497.55h0M149.47 496.88h0M156.64 495.34h0M145.14 497.45h0M140.3 499.52h0M144.86 498.3h0M158.01 493.94h0M147.62 498.49h0M160.46 494.44h0M153.41 496.6h0M158.27 493.7h0M155.33 494.55h0M158.6 496.3h0M156.65 493.99h0M145.64 496.78h0M146.77 496.68h0M164.96 494.52h0M160.92 494.22h0M147.21 496.67h0M144.74 498.94h0M154.39 497.21h0M157.53 494.6h0M140.74 498.92h0M141.09 497.95h0M150.07 496.01h0M141.49 499.49h0M161.53 493.79h0M142.2 499.46h0M159.28 496.13h0M167.6 493.37h0M154.87 495.14h0M160.84 494.64h0M145.15 498.02h0M154.23 497.2h0M153.42 497.43h0M158.51 493.35h0M141.45 497.8h0M152.97 497.6h0M142.75 497.84h0M157.79 495.5h0M146.36 498.46h0M159.79 495.23h0M142.31 499.35h0M157.47 496.53h0M149.63 498.02h0M157.79 496.5h0M144.05 498.26h0M143.7 498.99h0M158.69 494.08h0M147.81 498.36h0M156.8 494.29h0M142.53 497.72h0M148.5 497.63h0M143.75 498.88h0M153.01 497.69h0M153.93 495.55h0M146.82 498.66h0M142.64 499.43h0M151.31 498.03h0M149.42 498.44h0M147.77 497.22h0M148.03 498.2h0M143.87 498.43h0M145.67 498.75h0M143.02 499.36h0M168.17 493.52h0M153.12 496.83h0M158.07 495.61h0M148.09 498.48h0M159.17 494.55h0M151.35 494.58h0M151.31 498.09h0M158.77 493.67h0M163.77 494.72h0M151.32 498h0M158.37 496.39h0M155.16 496.2h0M155.56 496.42h0M165.38 493.96h0M147.67 497.41h0M158.24 496.42h0M141.98 498.73h0M142.89 499.26h0M156.64 493.77h0M150.15 496h0M147.22 497.92h0M167.3 493.26h0M155.2 494.1h0M142.03 498.66h0M145.22 498.59h0M141.85 498.24h0M147.56 498.29h0M156.02 494.82h0M146.13 498.49h0M153.53 495.92h0M150.58 497.84h0M156.73 496.76h0M140.15 498.8h0M153.82 495.62h0M160.39 493.8h0M162.93 494h0M156.31 496.59h0M150.29 498.11h0M168.28 493.41h0M144.07 497.42h0M165.41 494.18h0M144.4 498.57h0M140.54 499.53h0M145.18 498.84h0M150.71 498.14h0M147.17 497.95h0M147.16 498.78h0M147.01 498.84h0M149.95 497.56h0M151.71 497.39h0M142.43 497.23h0M148.56 497h0M150.99 498.02h0M146.12 496.45h0M150.85 496.99h0M151.95 496.02h0M149.65 496.42h0M160.9 494.25h0M166.27 493.9h0M157.98 496.41h0M144.25 497.77h0M154.27 497.01h0M147.47 498.42h0M167.19 493.32h0M149.68 498.38h0M143.31 499.37h0M142.18 498.59h0M146.5 497.51h0M156.62 495.45h0M146.61 498.92h0M149.48 497.64h0M158.5 495.44h0M141.72 499.49h0M146.74 497.93h0M155.4 496.73h0M158.11 496.42h0M144.8 498.76h0M143.46 498.56h0M159.96 493.05h0M152.39 497.79h0M141.52 498.97h0M151.81 497.19h0M140.7 499.58h0M153.4 495.45h0M149.73 495.25h0M141.35 498.23h0M159.13 495.98h0M156.87 495.93h0M150.97 497.5h0M146.6 498.93h0M160.75 494.84h0M144.88 498.46h0M146.69 498.83h0M149.83 496.79h0M155.22 493.46h0M144.78 496.81h0M154.41 497.3h0M150.41 497.66h0M159.01 493.99h0M147.95 497.01h0M161.73 494.83h0M158.19 496.1h0M163.98 494.73h0M145.43 498.67h0M140.22 497.87h0M157.46 495.9h0M156.56 496.8h0M154.52 496.99h0M146.98 496.81h0M140.8 498.83h0M149.89 497.3h0M147.93 497.01h0M160.42 495.07h0M162.25 495.19h0M141.15 498.81h0M154.27 497.19h0M148.39 498.27h0M149.69 498.39h0M166.76 493.26h0M158.55 496.3h0M143.06 499.39h0M154.04 497.18h0M155.53 493.56h0M142.73 499.13h0M151.15 495.37h0M142.24 498.42h0M146.1 497.2h0M156.24 496.8h0M140.49 497.36h0M145.62 497.46h0M141.61 499.5h0M147.65 497.34h0M156.89 495.82h0M144.48 499.18h0M150.41 498.22h0M141.6 498.68h0M155.89 494.54h0M155.92 496.71h0M156.15 496.95h0M152.64 494.74h0M141.39 498.96h0M148.69 498.6h0M148.73 498.01h0M152.73 497.77h0M157.45 494.2h0M140.55 499.18h0M142.09 497.98h0M141.84 499.5h0M142.01 497.63h0M149.27 497.03h0M148.45 496.46h0M146.84 498.77h0M144.08 499.21h0M154.56 497.29h0M152.86 497.74h0M150.15 498.3h0M146.47 498.13h0M163.51 494.96h0M156.82 495.66h0M161.94 495.19h0M157.44 494.24h0M143.28 498.94h0M148.7 497.94h0M142.14 496.93h0M153.15 497.65h0M150.86 497.68h0M150.82 495.54h0M155.17 494.69h0M142.4 498.84h0M148.04 498.52h0M147.69 497.26h0M167.58 493.63h0M163.98 494.33h0M141.06 499.02h0M150.19 498.06h0M142 499.48h0M159.16 494.14h0M160.17 495.32h0M140.75 499.54h0M157.92 496.48h0M168.99 493.2h0M161.15 494.47h0M140.84 498.29h0M143.97 498.3h0M141.63 498.56h0M163.36 494.1h0M164.69 493.98h0M142.23 499.47h0M149.98 498.09h0M140.82 499.25h0M155.93 493.35h0M159.35 495.83h0M153.34 495.9h0M149.91 497.22h0M158.2 496.12h0M151.8 497.31h0M165.86 493.24h0M145.16 498.29h0M148.96 498.44h0M141.09 498.99h0M142.68 499.35h0M147.69 498.46h0M140.35 499.23h0M151.31 497.25h0M163.73 493.98h0M163.48 493.49h0M143.99 499.03h0M157.52 495.92h0M143.88 499.26h0M141.67 499.36h0M162.83 493.05h0M142.02 499.27h0M154.87 495.78h0M142.3 498.55h0M142.54 499.43h0M162.12 495.2h0M153.32 495.45h0M141.42 498.45h0M144.26 497.5h0M153.42 497.45h0M156.09 496.71h0M150.93 498.1h0M163.34 495h0M141.66 499.09h0M151.43 496.76h0M150.95 495.24h0M163.01 494.83h0M151.11 496.36h0M165.78 494.26h0M152.51 497.7h0M141.87 499.52h0M163.76 494.24h0M145.01 498.49h0M148.3 495.75h0M153.97 494.26h0M163.71 494.26h0M158.96 495.64h0M153.52 496.31h0M144.34 497.23h0M146.49 498.12h0M167 493.19h0M152.7 496.98h0M140.34 499.58h0M157.84 494.14h0M142.68 499.27h0M142.2 498.76h0M166.98 493.79h0M153.3 495.6h0M155.33 497.15h0M142.39 499.41h0M150.02 497.94h0M162.89 495.04h0M148.03 498.48h0M153.84 497.47h0M157.16 496.01h0M163.42 494.97h0M145.75 497.76h0M142.01 497.22h0M157.82 496.48h0M141.79 499.5h0M145.43 498.51h0M141 498.88h0M141.45 498.39h0M151.33 497.96h0M141.9 498.53h0M156.03 493.82h0M155.69 496.22h0M155.73 495.58h0M140.28 498.82h0M143.15 499.38h0M143.62 499.33h0M142.76 499.36h0M150.68 494.87h0M156.97 495.63h0M142.53 498.53h0M149.63 498.35h0M162.46 493.15h0M158.71 496.21h0M158.38 495.59h0M158.94 495.15h0M141.25 499.1h0M142.38 499.26h0M159.22 496.05h0M142.23 498.25h0M145.09 497.42h0M155.92 494.78h0M142.31 497.45h0M159.53 496.11h0M142.59 499.31h0M160.74 494.86h0M148.32 497.23h0M144.55 499.11h0M150.36 495.83h0M160.38 495.04h0M156.38 496.83h0M150.26 495.76h0M157.74 495.93h0M157.65 496.07h0M148.97 497.41h0M155.98 496.82h0M149.25 495.49h0M146.13 498.8h0M146.97 498.18h0M147.69 498.52h0M141 498.58h0M155.58 494.84h0M146.5 497.83h0M147.73 498.62h0M141.36 499.05h0M162.76 493.7h0M163.91 494.83h0M158.98 496.17h0M154.2 494.72h0M163.24 493.46h0M143.41 498.14h0M157.89 496.32h0M161.07 494.64h0M152.22 496.88h0M165.88 494.25h0M142.14 498h0M143.06 497.52h0M142.27 499.26h0M156.62 493.33h0M151.63 497.53h0M168.5 493.28h0M143.53 498.9h0M147.05 497.64h0M153.12 496.76h0M145.23 496.41h0M153.23 497.58h0M155.52 497.08h0M161.04 495.01h0M147.16 497.1h0M163.76 493.43h0M143.08 496.79h0M143.29 499.38h0M141.2 497.15h0M167.86 493.39h0M143.73 497.41h0M148.47 498.01h0M153.62 495.9h0M140.97 499.58h0M160.42 495.54h0M141.83 498.68h0M155.08 493.88h0M157.94 494.36h0M144.65 499.2h0M159.85 495.98h0M149.3 497.25h0M153.71 497.28h0M145.64 498.65h0M140.39 499.42h0M150.46 497.49h0M152.77 495.38h0M154.14 497.32h0M152.55 497.78h0M154.35 494.43h0M143.58 497.26h0M150.24 496.19h0M147.18 496.5h0M141.61 499.23h0M146.55 497.35h0M146.79 498.85h0M161.45 495.42h0M163.74 494.8h0M165.57 493.32h0M149.8 497.76h0M147.32 498.78h0M149.05 497.36h0M162.69 494.76h0M150.04 498.1h0M164.93 494.11h0M163.96 494.49h0M166.27 493.2h0M161.53 495.48h0M148.07 497.75h0M147.06 498.65h0M145.24 499.14h0M157.5 496.06h0M148.22 498.36h0M145.08 499.11h0M155.18 496.49h0M163.28 494.7h0M157.71 496.27h0M150.12 495.86h0M150.15 498.05h0M153.01 496.92h0M152.25 496.55h0M148.23 498.64h0M160.97 495.3h0M158.79 495.97h0M160.28 495.82h0M151.88 496.62h0M152.29 494.42h0M157.49 494.87h0M140.66 497.71h0M161.17 495.44h0M145.09 498.06h0M141.1 499.52h0M155.55 493.99h0M152.09 497.82h0M148.33 498.47h0M141.02 499.38h0M157.78 496.5h0M145.63 498.77h0M152.21 495.72h0M144.86 498.96h0M147.12 497.97h0M150.74 494.87h0M153.26 496.72h0M159.19 495.5h0M154.02 497.21h0M140.66 499.58h0M146.04 498.39h0M158.8 495.55h0M155.9 496.62h0M148.69 498.49h0M154.98 494.82h0M155.78 496.99h0M154.35 496.63h0M153.6 496.36h0M143.08 497.16h0M143.87 499.31h0M155.22 496.93h0M149.05 497.35h0M151.86 497.61h0M161.66 493.07h0M161.95 495.4h0M154.3 493.58h0M147.08 496.05h0M166.19 494.17h0M143.85 497.89h0M148.33 498.04h0M148.02 498.64h0M151.33 498.04h0M160 495.55h0M154.32 495.63h0M149.68 497.47h0M147.32 498.09h0M156.32 496.01h0M143.76 498.88h0M148.83 497.02h0M142.52 498.81h0M160.02 495.4h0M143.24 499.32h0M155.47 496.25h0M164.33 494.54h0M143.1 499.35h0M161.52 495.51h0M156.55 494.76h0M145.73 498.43h0M142.44 499.44h0M142.21 499.06h0M155.77 496.89h0M168.2 493.42h0M151.95 497.45h0M145.15 498.4h0M168.95 493.13h0M158.26 495.26h0M157.23 496.6h0M143.66 497.83h0M160.96 494.17h0M144 497.02h0M144.33 497.97h0M154.77 496.95h0M155.92 496.11h0M161.25 495.55h0M141.56 497.4h0M145.86 498.68h0M167.65 493.65h0M147.36 497.85h0M142.47 498.28h0M165.09 494.41h0M148.39 498.38h0M142.62 498.38h0M143.34 499.37h0M157.88 493.98h0M143.51 498.65h0M151.96 497.67h0M162.8 494.18h0M141.74 499.48h0M142.83 498.76h0M144.59 499.17h0M148.23 497.5h0M155.14 493.35h0M148.51 496.41h0M152.93 494h0M148.95 496.8h0M153.34 493.99h0M154.03 495.05h0M140.27 499.47h0M151.67 494.66h0M154.76 493.34h0M140.18 499.56h0M142.29 498.53h0M147.21 498.61h0M157.88 494.93h0M141.2 499.36h0M153.1 496.84h0M163.23 494.95h0M157.18 495.41h0M146.22 497.24h0M143.93 498.12h0M151.03 495.6h0M158.77 496.28h0M140.13 499.36h0M149.13 498.46h0M150.11 496.45h0M156.09 495.01h0M144.62 498.08h0M142.44 499.43h0M145 498.7h0M157.77 494.05h0M140.45 498.61h0M143.25 499.01h0M160.59 494.43h0M152.98 497.51h0M155.94 496.32h0M149.79 498.21h0M145.43 498.5h0M166.66 493.6h0M150.26 498.31h0M159.55 496.07h0M153.63 497.31h0M148.7 498.26h0M162.39 494.37h0M155.45 496.23h0M140.46 499.57h0M148.07 498.62h0M154.58 495.67h0M143.31 497.61h0M154.36 497.29h0M153.55 497.49h0M144.77 497.74h0M152.75 494.87h0M164.47 494.15h0M140.27 498.37h0M155.99 494h0M143.22 498.73h0M154.08 496.68h0M147.56 496.89h0M152.92 497.7h0M154.48 496.18h0M143.46 498.47h0M141.13 497.44h0M145.69 497.82h0M143.53 498.7h0M152.85 497.66h0M142.65 499.45h0M155.28 495.76h0M144.65 498.67h0M145.3 496.83h0M148.18 497.18h0M144.4 499.2h0M146.66 498.82h0M140.58 499.18h0M147.53 498.76h0M167.46 493.72h0M155.91 496.98h0M152.25 496.77h0M143.63 497.13h0M149.53 498.12h0M154.99 496.3h0M145.01 498.92h0M151.87 495.64h0M159.09 493.42h0M142.03 499.17h0M146.2 498.07h0M152.31 497.89h0M153.99 495.9h0M150.49 498.04h0M148.03 498.53h0M144.81 499.08h0M151.35 498.04h0M162.49 493.09h0M140.32 498.75h0M165.39 493.18h0M154.25 497.4h0M159.63 494.13h0M157.92 493.93h0M151.64 497.28h0M155.3 493.16h0M158.56 494.87h0M145.53 498.09h0M141.62 499.47h0M148.42 497.06h0M142.94 498.34h0M157.73 496.47h0M147.36 498.57h0M142.7 499.37h0M161.04 493.83h0M157.29 493.2h0M141.46 498.65h0M143.18 497.81h0M155.26 497.1h0M149.95 495.22h0M142.87 499.37h0M150.96 498.1h0M157.41 496.55h0M144.44 497.36h0M152.51 497.84h0M156.62 496.54h0M158.62 496.2h0M147.96 498.5h0M165.48 494.21h0M154.3 497.14h0M146.62 498.05h0M143.85 497.88h0M156.21 494.65h0M146.55 498.95h0M141.01 498.47h0M158.06 494.3h0M159.73 495.56h0M148.63 498.43h0M143.8 499.32h0M148.36 496.43h0M156.92 494.78h0M149.48 498.03h0M147.87 498.22h0M144.87 498.63h0M151.52 497.6h0M148.29 496.68h0M141.27 499.42h0M143.52 497.4h0M148.49 497.35h0M142.01 497.96h0M147.88 497.9h0M149.32 498.43h0M161.03 495.5h0M152.55 495.18h0M150.06 496.77h0M157.84 496.55h0M153.82 497.45h0M141.53 498.43h0M144.85 497.71h0M144.46 498.97h0M152.59 494.07h0M150.96 497.68h0M149.67 495.54h0M151.62 496.4h0M150.42 497.73h0M149.62 498.06h0M152.06 495.92h0M147.82 496.8h0M142.45 497.82h0M144.66 497.23h0M160.18 495.69h0M167.49 493.54h0M160.32 494.1h0M142.62 498.44h0M157.87 496.38h0M155.19 496.85h0M147.49 497.21h0M156.39 494.51h0M144.12 497.86h0M141.68 499.25h0M162.56 493.76h0" stroke="#000" stroke-opacity="1" stroke-width="1.8" stroke-linecap="round" fill="none"/>
<text x="168.2" y="413.6" font-size="9" font-style="italic">CDK6</text>
<text x="153.9" y="426.1" font-size="9" font-style="italic">JUN</text>
<text x="141.2" y="446.5" font-size="9" font-style="italic">EGR1</text>
<text x="135.3" y="460.3" font-size="9" font-style="italic">FOSB</text>
<text x="124" y="470.6" font-size="9" font-style="italic">CCND2</text>
<text x="124.4" y="483.3" font-size="9" font-style="italic">RUNX1</text>
<text x="226.6" y="450.2" font-size="9" font-style="italic">IFI44</text>
<text x="222.3" y="464.4" font-size="9" font-style="italic">TNF</text>
<text x="213.7" y="476.7" font-size="9" font-style="italic">STAT4</text>
<text x="206" y="488.5" font-size="9" font-style="italic">IFI44L</text>
<text x="195.1" y="500.6" font-size="9" font-style="italic">MAP3K8</text>
<line x1="178.7" y1="415.8" x2="180.9" y2="448.7" stroke="#000" stroke-width="0.7"/>
<line x1="166.6" y1="428.5" x2="172.1" y2="462.9" stroke="#000" stroke-width="0.7"/>
<line x1="162.3" y1="447.6" x2="167.7" y2="472.8" stroke="#000" stroke-width="0.7"/>
<line x1="156.1" y1="461.8" x2="163.1" y2="479.3" stroke="#000" stroke-width="0.7"/>
<line x1="153.3" y1="473.4" x2="159.4" y2="485.9" stroke="#000" stroke-width="0.7"/>
<line x1="148.5" y1="487.7" x2="155" y2="490.7" stroke="#000" stroke-width="0.7"/>
<line x1="226.2" y1="447.6" x2="214.2" y2="449.3" stroke="#000" stroke-width="0.7"/>
<line x1="221.8" y1="461.8" x2="171.5" y2="475" stroke="#000" stroke-width="0.7"/>
<line x1="212.4" y1="474.3" x2="173.6" y2="477.6" stroke="#000" stroke-width="0.7"/>
<line x1="205.4" y1="486.3" x2="170.8" y2="478.2" stroke="#000" stroke-width="0.7"/>
<line x1="195.1" y1="498.4" x2="170.4" y2="479.3" stroke="#000" stroke-width="0.7"/>
<line x1="174.7" y1="493.6" x2="207.6" y2="512.2" stroke="#000" stroke-width="0.7"/>
<rect x="43.1" y="383.4" width="211.4" height="121.3" fill="none" stroke="#000" stroke-width="1.1"/>
<defs><filter id="bl" x="-20%" y="-50%" width="140%" height="200%"><feGaussianBlur stdDeviation="1.0"/></filter><filter id="bl2" x="-20%" y="-50%" width="140%" height="200%"><feGaussianBlur stdDeviation="1.4"/></filter></defs>
<text x="300.5" y="385" font-size="17.5" font-weight="bold">G</text>
<text x="451.58" y="402.6" font-size="9.2" transform="rotate(-50 451.58 402.6)">Parental</text>
<text x="467.95" y="402.6" font-size="9.2" transform="rotate(-50 467.95 402.6)">Palbo-R</text>
<text x="484.32" y="402.6" font-size="9.2" transform="rotate(-50 484.32 402.6)">Abema-R</text>
<rect x="444.4" y="406.3" width="49.1" height="17.2" fill="#eeeeee"/>
<rect x="462.4" y="415" width="13.09" height="2.6" rx="1.3" fill="#000" fill-opacity="0.55" filter="url(#bl)"/>
<rect x="477.79" y="414.1" width="15.06" height="3.8" rx="1.9" fill="#000" fill-opacity="1" filter="url(#bl)"/>
<rect x="478.36" y="409.1" width="13.91" height="5.8" rx="2.9" fill="#000" fill-opacity="0.3" filter="url(#bl)"/>
<rect x="444.4" y="406.3" width="49.1" height="17.2" fill="none" stroke="#000" stroke-width="1.2"/>
<text x="441" y="418" font-size="9.4" text-anchor="end">pSTAT3</text>
<line x1="495.8" y1="422.8" x2="504.4" y2="422.8" stroke="#000" stroke-width="1.4"/>
<text x="506.2" y="426" font-size="9.3">75</text>
<rect x="444.4" y="426" width="49.1" height="17.2" fill="#e4e4e4"/>
<rect x="444.4" y="433.5" width="16.37" height="4.2" rx="2.1" fill="#000" fill-opacity="1" filter="url(#bl)"/>
<rect x="460.77" y="433.9" width="16.37" height="3.8" rx="1.9" fill="#000" fill-opacity="0.9" filter="url(#bl)"/>
<rect x="477.13" y="433.75" width="16.37" height="4.1" rx="2.05" fill="#000" fill-opacity="1" filter="url(#bl)"/>
<rect x="444.4" y="426" width="49.1" height="17.2" fill="none" stroke="#000" stroke-width="1.2"/>
<text x="441" y="437.7" font-size="9.4" text-anchor="end">STAT3</text>
<line x1="495.8" y1="442" x2="504.4" y2="442" stroke="#000" stroke-width="1.4"/>
<text x="506.2" y="445.2" font-size="9.3">75</text>
<rect x="444.4" y="445.4" width="49.1" height="16.9" fill="#ececec"/>
<rect x="446.45" y="452.85" width="12.28" height="2.3" rx="1.15" fill="#000" fill-opacity="0.35" filter="url(#bl)"/>
<rect x="460.77" y="452" width="16.37" height="3.8" rx="1.9" fill="#000" fill-opacity="1" filter="url(#bl)"/>
<rect x="477.54" y="452.15" width="15.55" height="3.5" rx="1.75" fill="#000" fill-opacity="0.95" filter="url(#bl)"/>
<rect x="444.4" y="445.4" width="49.1" height="16.9" fill="none" stroke="#000" stroke-width="1.2"/>
<text x="441" y="456.95" font-size="9.4" text-anchor="end">ISG15</text>
<line x1="495.8" y1="460.6" x2="504.4" y2="460.6" stroke="#000" stroke-width="1.4"/>
<text x="506.2" y="463.8" font-size="9.3">10</text>
<rect x="444.4" y="464.6" width="49.1" height="17.2" fill="#e8e8e8"/>
<rect x="446.04" y="471.6" width="13.09" height="2.8" rx="1.4" fill="#000" fill-opacity="0.8" filter="url(#bl)"/>
<rect x="460.77" y="470.7" width="16.37" height="4.2" rx="2.1" fill="#000" fill-opacity="1" filter="url(#bl)"/>
<rect x="477.54" y="470.8" width="15.55" height="4" rx="2" fill="#000" fill-opacity="1" filter="url(#bl)"/>
<rect x="444.4" y="464.6" width="49.1" height="17.2" fill="none" stroke="#000" stroke-width="1.2"/>
<text x="441" y="476.3" font-size="9.4" text-anchor="end">pAKT</text>
<line x1="495.8" y1="479.9" x2="504.4" y2="479.9" stroke="#000" stroke-width="1.4"/>
<text x="506.2" y="483.1" font-size="9.3">50</text>
<rect x="444.4" y="484.3" width="49.1" height="17.1" fill="#eaeaea"/>
<rect x="444.4" y="490.9" width="16.37" height="4.2" rx="2.1" fill="#000" fill-opacity="1" filter="url(#bl)"/>
<rect x="460.77" y="490.9" width="16.37" height="4.2" rx="2.1" fill="#000" fill-opacity="1" filter="url(#bl)"/>
<rect x="477.13" y="490.9" width="16.37" height="4.2" rx="2.1" fill="#000" fill-opacity="1" filter="url(#bl)"/>
<rect x="444.4" y="484.3" width="49.1" height="17.1" fill="none" stroke="#000" stroke-width="1.2"/>
<text x="441" y="495.95" font-size="9.4" text-anchor="end">AKT</text>
<line x1="495.8" y1="499.6" x2="504.4" y2="499.6" stroke="#000" stroke-width="1.4"/>
<text x="506.2" y="502.8" font-size="9.3">50</text>
<rect x="444.4" y="503.5" width="49.1" height="17.1" fill="#dcdcdc"/>
<rect x="445.63" y="511.3" width="13.91" height="4" rx="2" fill="#000" fill-opacity="0.25" filter="url(#bl)"/>
<rect x="461.99" y="511.3" width="13.91" height="4" rx="2" fill="#000" fill-opacity="0.28" filter="url(#bl)"/>
<rect x="478.36" y="511.3" width="13.91" height="4" rx="2" fill="#000" fill-opacity="0.28" filter="url(#bl)"/>
<rect x="444.4" y="503.5" width="49.1" height="17.1" fill="none" stroke="#000" stroke-width="1.2"/>
<text x="441" y="515.15" font-size="9.4" text-anchor="end">RB</text>
<line x1="495.8" y1="517.6" x2="504.4" y2="517.6" stroke="#000" stroke-width="1.4"/>
<text x="506.2" y="520.8" font-size="9.3">100</text>
<rect x="444.4" y="523" width="49.1" height="17.3" fill="#e6e6e6"/>
<rect x="444.4" y="530.2" width="16.37" height="4.6" rx="2.3" fill="#000" fill-opacity="1" filter="url(#bl)"/>
<rect x="460.77" y="530.3" width="16.37" height="4.4" rx="2.2" fill="#000" fill-opacity="1" filter="url(#bl)"/>
<rect x="477.13" y="529.7" width="16.37" height="5" rx="2.5" fill="#000" fill-opacity="1" filter="url(#bl)"/>
<rect x="444.4" y="523" width="49.1" height="17.3" fill="none" stroke="#000" stroke-width="1.2"/>
<text x="441" y="534.75" font-size="9.4" text-anchor="end">B-tubulin</text>
<line x1="495.8" y1="534.5" x2="504.4" y2="534.5" stroke="#000" stroke-width="1.4"/>
<text x="506.2" y="537.7" font-size="9.3">50</text>
<text x="470" y="550" font-size="9" text-anchor="middle">MCF7</text>
<text x="510.8" y="550" font-size="9">kDa</text>
<text x="0" y="559.4" font-size="17.5" font-weight="bold">H</text>
<line x1="44.9" y1="581.7" x2="44.9" y2="685.6" stroke="#222" stroke-width="1.15"/>
<line x1="42.7" y1="685.1" x2="44.9" y2="685.1" stroke="#000" stroke-width="1"/>
<text x="41.7" y="688" font-size="8" text-anchor="end">0.0</text>
<line x1="42.7" y1="670.4" x2="44.9" y2="670.4" stroke="#000" stroke-width="1"/>
<text x="41.7" y="673.3" font-size="8" text-anchor="end">0.2</text>
<line x1="42.7" y1="655.7" x2="44.9" y2="655.7" stroke="#000" stroke-width="1"/>
<text x="41.7" y="658.6" font-size="8" text-anchor="end">0.4</text>
<line x1="42.7" y1="641" x2="44.9" y2="641" stroke="#000" stroke-width="1"/>
<text x="41.7" y="643.9" font-size="8" text-anchor="end">0.6</text>
<line x1="42.7" y1="626.3" x2="44.9" y2="626.3" stroke="#000" stroke-width="1"/>
<text x="41.7" y="629.2" font-size="8" text-anchor="end">0.8</text>
<line x1="42.7" y1="611.6" x2="44.9" y2="611.6" stroke="#000" stroke-width="1"/>
<text x="41.7" y="614.5" font-size="8" text-anchor="end">1.0</text>
<line x1="42.7" y1="596.9" x2="44.9" y2="596.9" stroke="#000" stroke-width="1"/>
<text x="41.7" y="599.8" font-size="8" text-anchor="end">1.2</text>
<line x1="42.7" y1="582.2" x2="44.9" y2="582.2" stroke="#000" stroke-width="1"/>
<text x="41.7" y="585.1" font-size="8" text-anchor="end">1.4</text>
<text x="22" y="633.6" font-size="9.2" text-anchor="middle" transform="rotate(-90 22 633.6)">Relative cell viability</text>
<text x="99.6" y="570.4" font-size="9" text-anchor="middle">Ruxolitinib</text>
<text x="99.6" y="582.6" font-size="9" text-anchor="middle">(JAK1/JAK2)</text>
<line x1="44.6" y1="685.1" x2="160.5" y2="685.1" stroke="#000" stroke-width="1"/>
<rect x="48.5" y="611.6" width="6.5" height="73.5" fill="#7a7a7a"/>
<rect x="55" y="611.6" width="6.5" height="73.5" fill="#7dc7fd"/>
<rect x="61.5" y="611.6" width="6.5" height="73.5" fill="#8098fd"/>
<circle cx="52.17" cy="605.2" r="1.9" fill="#222222" fill-opacity="0.7"/>
<circle cx="52.75" cy="599.89" r="1.9" fill="#222222" fill-opacity="0.7"/>
<circle cx="52.57" cy="600.43" r="1.9" fill="#222222" fill-opacity="0.7"/>
<circle cx="50.15" cy="612.51" r="1.9" fill="#222222" fill-opacity="0.7"/>
<circle cx="53.26" cy="607.66" r="1.9" fill="#222222" fill-opacity="0.7"/>
<line x1="51.75" y1="611.6" x2="51.75" y2="602.78" stroke="#000" stroke-width="0.9"/>
<line x1="49.95" y1="602.78" x2="53.55" y2="602.78" stroke="#000" stroke-width="0.9"/>
<circle cx="59.61" cy="626.1" r="1.9" fill="#3aa8fa" fill-opacity="0.7"/>
<circle cx="58.14" cy="621.1" r="1.9" fill="#3aa8fa" fill-opacity="0.7"/>
<circle cx="58.4" cy="608.83" r="1.9" fill="#3aa8fa" fill-opacity="0.7"/>
<circle cx="56.59" cy="622.22" r="1.9" fill="#3aa8fa" fill-opacity="0.7"/>
<circle cx="57.5" cy="595.99" r="1.9" fill="#3aa8fa" fill-opacity="0.7"/>
<line x1="58.25" y1="611.6" x2="58.25" y2="599.11" stroke="#000" stroke-width="0.9"/>
<line x1="56.45" y1="599.11" x2="60.05" y2="599.11" stroke="#000" stroke-width="0.9"/>
<circle cx="65.65" cy="613.1" r="1.9" fill="#2a55f5" fill-opacity="0.7"/>
<circle cx="65.76" cy="613.19" r="1.9" fill="#2a55f5" fill-opacity="0.7"/>
<circle cx="65.15" cy="613.25" r="1.9" fill="#2a55f5" fill-opacity="0.7"/>
<circle cx="63.06" cy="609.96" r="1.9" fill="#2a55f5" fill-opacity="0.7"/>
<circle cx="63.76" cy="612.85" r="1.9" fill="#2a55f5" fill-opacity="0.7"/>
<line x1="64.75" y1="611.6" x2="64.75" y2="610.13" stroke="#000" stroke-width="0.9"/>
<line x1="62.95" y1="610.13" x2="66.55" y2="610.13" stroke="#000" stroke-width="0.9"/>
<text x="58.25" y="696" font-size="8" text-anchor="middle">0</text>
<rect x="71.25" y="621.52" width="6.5" height="63.58" fill="#7a7a7a"/>
<rect x="77.75" y="614.91" width="6.5" height="70.19" fill="#7dc7fd"/>
<rect x="84.25" y="613.07" width="6.5" height="72.03" fill="#8098fd"/>
<circle cx="76.14" cy="609.21" r="1.9" fill="#222222" fill-opacity="0.7"/>
<circle cx="73.78" cy="606.26" r="1.9" fill="#222222" fill-opacity="0.7"/>
<circle cx="74.63" cy="615.64" r="1.9" fill="#222222" fill-opacity="0.7"/>
<circle cx="73.5" cy="606.94" r="1.9" fill="#222222" fill-opacity="0.7"/>
<circle cx="75.15" cy="606.09" r="1.9" fill="#222222" fill-opacity="0.7"/>
<line x1="74.5" y1="621.52" x2="74.5" y2="610.5" stroke="#000" stroke-width="0.9"/>
<line x1="72.7" y1="610.5" x2="76.3" y2="610.5" stroke="#000" stroke-width="0.9"/>
<circle cx="82.34" cy="622.01" r="1.9" fill="#3aa8fa" fill-opacity="0.7"/>
<circle cx="80.53" cy="626.69" r="1.9" fill="#3aa8fa" fill-opacity="0.7"/>
<circle cx="79.8" cy="630.25" r="1.9" fill="#3aa8fa" fill-opacity="0.7"/>
<circle cx="80.32" cy="611.27" r="1.9" fill="#3aa8fa" fill-opacity="0.7"/>
<circle cx="79.31" cy="608.63" r="1.9" fill="#3aa8fa" fill-opacity="0.7"/>
<line x1="81" y1="614.91" x2="81" y2="603.15" stroke="#000" stroke-width="0.9"/>
<line x1="79.2" y1="603.15" x2="82.8" y2="603.15" stroke="#000" stroke-width="0.9"/>
<circle cx="86.95" cy="614.33" r="1.9" fill="#2a55f5" fill-opacity="0.7"/>
<circle cx="88.58" cy="613.2" r="1.9" fill="#2a55f5" fill-opacity="0.7"/>
<circle cx="86.87" cy="613.19" r="1.9" fill="#2a55f5" fill-opacity="0.7"/>
<circle cx="88.2" cy="616" r="1.9" fill="#2a55f5" fill-opacity="0.7"/>
<circle cx="89.12" cy="616.23" r="1.9" fill="#2a55f5" fill-opacity="0.7"/>
<line x1="87.5" y1="613.07" x2="87.5" y2="610.87" stroke="#000" stroke-width="0.9"/>
<line x1="85.7" y1="610.87" x2="89.3" y2="610.87" stroke="#000" stroke-width="0.9"/>
<text x="81" y="696" font-size="8" text-anchor="middle">0.63</text>
<rect x="94" y="626.3" width="6.5" height="58.8" fill="#7a7a7a"/>
<rect x="100.5" y="617.48" width="6.5" height="67.62" fill="#7dc7fd"/>
<rect x="107" y="614.17" width="6.5" height="70.93" fill="#8098fd"/>
<circle cx="98.1" cy="618.7" r="1.9" fill="#222222" fill-opacity="0.7"/>
<circle cx="95.61" cy="619.96" r="1.9" fill="#222222" fill-opacity="0.7"/>
<circle cx="96.8" cy="624.57" r="1.9" fill="#222222" fill-opacity="0.7"/>
<circle cx="95.58" cy="636.29" r="1.9" fill="#222222" fill-opacity="0.7"/>
<circle cx="96.17" cy="616.26" r="1.9" fill="#222222" fill-opacity="0.7"/>
<line x1="97.25" y1="626.3" x2="97.25" y2="618.95" stroke="#000" stroke-width="0.9"/>
<line x1="95.45" y1="618.95" x2="99.05" y2="618.95" stroke="#000" stroke-width="0.9"/>
<circle cx="102.72" cy="609.59" r="1.9" fill="#3aa8fa" fill-opacity="0.7"/>
<circle cx="105.21" cy="603.83" r="1.9" fill="#3aa8fa" fill-opacity="0.7"/>
<circle cx="103.22" cy="621.96" r="1.9" fill="#3aa8fa" fill-opacity="0.7"/>
<circle cx="103.83" cy="608.97" r="1.9" fill="#3aa8fa" fill-opacity="0.7"/>
<circle cx="102.42" cy="609.81" r="1.9" fill="#3aa8fa" fill-opacity="0.7"/>
<line x1="103.75" y1="617.48" x2="103.75" y2="607.19" stroke="#000" stroke-width="0.9"/>
<line x1="101.95" y1="607.19" x2="105.55" y2="607.19" stroke="#000" stroke-width="0.9"/>
<circle cx="111.26" cy="612.59" r="1.9" fill="#2a55f5" fill-opacity="0.7"/>
<circle cx="108.67" cy="612.21" r="1.9" fill="#2a55f5" fill-opacity="0.7"/>
<circle cx="108.86" cy="614.87" r="1.9" fill="#2a55f5" fill-opacity="0.7"/>
<circle cx="110.63" cy="612.33" r="1.9" fill="#2a55f5" fill-opacity="0.7"/>
<circle cx="109.71" cy="612.3" r="1.9" fill="#2a55f5" fill-opacity="0.7"/>
<line x1="110.25" y1="614.17" x2="110.25" y2="612.7" stroke="#000" stroke-width="0.9"/>
<line x1="108.45" y1="612.7" x2="112.05" y2="612.7" stroke="#000" stroke-width="0.9"/>
<text x="103.75" y="696" font-size="8" text-anchor="middle">1.25</text>
<rect x="116.75" y="640.26" width="6.5" height="44.84" fill="#7a7a7a"/>
<rect x="123.25" y="639.9" width="6.5" height="45.2" fill="#7dc7fd"/>
<rect x="129.75" y="628.5" width="6.5" height="56.6" fill="#8098fd"/>
<circle cx="120.15" cy="642.75" r="1.9" fill="#222222" fill-opacity="0.7"/>
<circle cx="119.38" cy="644.53" r="1.9" fill="#222222" fill-opacity="0.7"/>
<circle cx="118.57" cy="644.91" r="1.9" fill="#222222" fill-opacity="0.7"/>
<circle cx="120.64" cy="633.69" r="1.9" fill="#222222" fill-opacity="0.7"/>
<circle cx="118.85" cy="646.24" r="1.9" fill="#222222" fill-opacity="0.7"/>
<line x1="120" y1="640.26" x2="120" y2="635.86" stroke="#000" stroke-width="0.9"/>
<line x1="118.2" y1="635.86" x2="121.8" y2="635.86" stroke="#000" stroke-width="0.9"/>
<circle cx="128.15" cy="638.57" r="1.9" fill="#3aa8fa" fill-opacity="0.7"/>
<circle cx="126.18" cy="650.32" r="1.9" fill="#3aa8fa" fill-opacity="0.7"/>
<circle cx="126.82" cy="626.95" r="1.9" fill="#3aa8fa" fill-opacity="0.7"/>
<circle cx="126.35" cy="643" r="1.9" fill="#3aa8fa" fill-opacity="0.7"/>
<circle cx="124.99" cy="623.38" r="1.9" fill="#3aa8fa" fill-opacity="0.7"/>
<line x1="126.5" y1="639.9" x2="126.5" y2="626.67" stroke="#000" stroke-width="0.9"/>
<line x1="124.7" y1="626.67" x2="128.3" y2="626.67" stroke="#000" stroke-width="0.9"/>
<circle cx="131.41" cy="628.53" r="1.9" fill="#2a55f5" fill-opacity="0.7"/>
<circle cx="134.15" cy="630.13" r="1.9" fill="#2a55f5" fill-opacity="0.7"/>
<circle cx="133.79" cy="626.52" r="1.9" fill="#2a55f5" fill-opacity="0.7"/>
<circle cx="133.44" cy="627.23" r="1.9" fill="#2a55f5" fill-opacity="0.7"/>
<circle cx="131.66" cy="628.79" r="1.9" fill="#2a55f5" fill-opacity="0.7"/>
<line x1="133" y1="628.5" x2="133" y2="627.03" stroke="#000" stroke-width="0.9"/>
<line x1="131.2" y1="627.03" x2="134.8" y2="627.03" stroke="#000" stroke-width="0.9"/>
<text x="126.5" y="696" font-size="8" text-anchor="middle">2.5</text>
<rect x="139.5" y="682.16" width="6.5" height="2.94" fill="#7a7a7a"/>
<rect x="146" y="680.69" width="6.5" height="4.41" fill="#7dc7fd"/>
<rect x="152.5" y="673.34" width="6.5" height="11.76" fill="#8098fd"/>
<circle cx="141.56" cy="681.4" r="1.9" fill="#222222" fill-opacity="0.7"/>
<circle cx="142.05" cy="682.26" r="1.9" fill="#222222" fill-opacity="0.7"/>
<circle cx="144.45" cy="681.38" r="1.9" fill="#222222" fill-opacity="0.7"/>
<circle cx="144.37" cy="682.26" r="1.9" fill="#222222" fill-opacity="0.7"/>
<circle cx="142.71" cy="681.65" r="1.9" fill="#222222" fill-opacity="0.7"/>
<line x1="142.75" y1="682.16" x2="142.75" y2="681.43" stroke="#000" stroke-width="0.9"/>
<line x1="140.95" y1="681.43" x2="144.55" y2="681.43" stroke="#000" stroke-width="0.9"/>
<circle cx="149.18" cy="681.15" r="1.9" fill="#3aa8fa" fill-opacity="0.7"/>
<circle cx="148.92" cy="681.47" r="1.9" fill="#3aa8fa" fill-opacity="0.7"/>
<circle cx="148.83" cy="679.61" r="1.9" fill="#3aa8fa" fill-opacity="0.7"/>
<circle cx="150.81" cy="680.41" r="1.9" fill="#3aa8fa" fill-opacity="0.7"/>
<circle cx="149.25" cy="681.05" r="1.9" fill="#3aa8fa" fill-opacity="0.7"/>
<line x1="149.25" y1="680.69" x2="149.25" y2="679.96" stroke="#000" stroke-width="0.9"/>
<line x1="147.45" y1="679.96" x2="151.05" y2="679.96" stroke="#000" stroke-width="0.9"/>
<circle cx="154.35" cy="673.84" r="1.9" fill="#2a55f5" fill-opacity="0.7"/>
<circle cx="156.71" cy="672.53" r="1.9" fill="#2a55f5" fill-opacity="0.7"/>
<circle cx="155.28" cy="672.71" r="1.9" fill="#2a55f5" fill-opacity="0.7"/>
<circle cx="156.68" cy="672.91" r="1.9" fill="#2a55f5" fill-opacity="0.7"/>
<circle cx="156.31" cy="672.77" r="1.9" fill="#2a55f5" fill-opacity="0.7"/>
<line x1="155.75" y1="673.34" x2="155.75" y2="672.61" stroke="#000" stroke-width="0.9"/>
<line x1="153.95" y1="672.61" x2="157.55" y2="672.61" stroke="#000" stroke-width="0.9"/>
<text x="149.25" y="696" font-size="8" text-anchor="middle">5</text>
<text x="228" y="570.4" font-size="9" text-anchor="middle">Fedratinib</text>
<text x="228" y="582.6" font-size="9" text-anchor="middle">(JAK2/FLT3)</text>
<line x1="172.2" y1="685.1" x2="287.4" y2="685.1" stroke="#000" stroke-width="1"/>
<rect x="174.5" y="611.97" width="6.5" height="73.13" fill="#7a7a7a"/>
<rect x="181" y="609.03" width="6.5" height="76.07" fill="#7dc7fd"/>
<rect x="187.5" y="608.66" width="6.5" height="76.44" fill="#8098fd"/>
<circle cx="177.29" cy="608.81" r="1.9" fill="#222222" fill-opacity="0.7"/>
<circle cx="177" cy="612.19" r="1.9" fill="#222222" fill-opacity="0.7"/>
<circle cx="178.67" cy="609.02" r="1.9" fill="#222222" fill-opacity="0.7"/>
<circle cx="177.05" cy="605.09" r="1.9" fill="#222222" fill-opacity="0.7"/>
<circle cx="178.26" cy="610.72" r="1.9" fill="#222222" fill-opacity="0.7"/>
<line x1="177.75" y1="611.97" x2="177.75" y2="606.82" stroke="#000" stroke-width="0.9"/>
<line x1="175.95" y1="606.82" x2="179.55" y2="606.82" stroke="#000" stroke-width="0.9"/>
<circle cx="182.59" cy="608.2" r="1.9" fill="#3aa8fa" fill-opacity="0.7"/>
<circle cx="183.4" cy="606" r="1.9" fill="#3aa8fa" fill-opacity="0.7"/>
<circle cx="184.12" cy="603.44" r="1.9" fill="#3aa8fa" fill-opacity="0.7"/>
<circle cx="184.75" cy="603.78" r="1.9" fill="#3aa8fa" fill-opacity="0.7"/>
<circle cx="183.73" cy="606.49" r="1.9" fill="#3aa8fa" fill-opacity="0.7"/>
<line x1="184.25" y1="609.03" x2="184.25" y2="603.15" stroke="#000" stroke-width="0.9"/>
<line x1="182.45" y1="603.15" x2="186.05" y2="603.15" stroke="#000" stroke-width="0.9"/>
<circle cx="191.56" cy="601.42" r="1.9" fill="#2a55f5" fill-opacity="0.7"/>
<circle cx="190.24" cy="601.1" r="1.9" fill="#2a55f5" fill-opacity="0.7"/>
<circle cx="192.01" cy="604.51" r="1.9" fill="#2a55f5" fill-opacity="0.7"/>
<circle cx="192.37" cy="598.59" r="1.9" fill="#2a55f5" fill-opacity="0.7"/>
<circle cx="190.81" cy="608.01" r="1.9" fill="#2a55f5" fill-opacity="0.7"/>
<line x1="190.75" y1="608.66" x2="190.75" y2="601.31" stroke="#000" stroke-width="0.9"/>
<line x1="188.95" y1="601.31" x2="192.55" y2="601.31" stroke="#000" stroke-width="0.9"/>
<text x="184.25" y="696" font-size="8" text-anchor="middle">0</text>
<rect x="197.25" y="619.69" width="6.5" height="65.41" fill="#7a7a7a"/>
<rect x="203.75" y="621.89" width="6.5" height="63.21" fill="#7dc7fd"/>
<rect x="210.25" y="607.93" width="6.5" height="77.17" fill="#8098fd"/>
<circle cx="199.36" cy="616.72" r="1.9" fill="#222222" fill-opacity="0.7"/>
<circle cx="201.99" cy="619.89" r="1.9" fill="#222222" fill-opacity="0.7"/>
<circle cx="201.15" cy="617.75" r="1.9" fill="#222222" fill-opacity="0.7"/>
<circle cx="201.28" cy="622.58" r="1.9" fill="#222222" fill-opacity="0.7"/>
<circle cx="201.45" cy="618.97" r="1.9" fill="#222222" fill-opacity="0.7"/>
<line x1="200.5" y1="619.69" x2="200.5" y2="616.75" stroke="#000" stroke-width="0.9"/>
<line x1="198.7" y1="616.75" x2="202.3" y2="616.75" stroke="#000" stroke-width="0.9"/>
<circle cx="207.56" cy="623.29" r="1.9" fill="#3aa8fa" fill-opacity="0.7"/>
<circle cx="207.42" cy="617.04" r="1.9" fill="#3aa8fa" fill-opacity="0.7"/>
<circle cx="207.47" cy="618" r="1.9" fill="#3aa8fa" fill-opacity="0.7"/>
<circle cx="205.39" cy="627.89" r="1.9" fill="#3aa8fa" fill-opacity="0.7"/>
<circle cx="206.8" cy="619.24" r="1.9" fill="#3aa8fa" fill-opacity="0.7"/>
<line x1="207" y1="621.89" x2="207" y2="616.01" stroke="#000" stroke-width="0.9"/>
<line x1="205.2" y1="616.01" x2="208.8" y2="616.01" stroke="#000" stroke-width="0.9"/>
<circle cx="212.54" cy="603.82" r="1.9" fill="#2a55f5" fill-opacity="0.7"/>
<circle cx="213.94" cy="618.03" r="1.9" fill="#2a55f5" fill-opacity="0.7"/>
<circle cx="213.4" cy="613.96" r="1.9" fill="#2a55f5" fill-opacity="0.7"/>
<circle cx="211.98" cy="616.01" r="1.9" fill="#2a55f5" fill-opacity="0.7"/>
<circle cx="212.88" cy="614.95" r="1.9" fill="#2a55f5" fill-opacity="0.7"/>
<line x1="213.5" y1="607.93" x2="213.5" y2="600.58" stroke="#000" stroke-width="0.9"/>
<line x1="211.7" y1="600.58" x2="215.3" y2="600.58" stroke="#000" stroke-width="0.9"/>
<text x="207" y="696" font-size="8" text-anchor="middle">0.63</text>
<rect x="220" y="649.82" width="6.5" height="35.28" fill="#7a7a7a"/>
<rect x="226.5" y="653.5" width="6.5" height="31.61" fill="#7dc7fd"/>
<rect x="233" y="639.53" width="6.5" height="45.57" fill="#8098fd"/>
<circle cx="222.21" cy="652.89" r="1.9" fill="#222222" fill-opacity="0.7"/>
<circle cx="223.13" cy="650.61" r="1.9" fill="#222222" fill-opacity="0.7"/>
<circle cx="223.63" cy="649.22" r="1.9" fill="#222222" fill-opacity="0.7"/>
<circle cx="222.36" cy="647.15" r="1.9" fill="#222222" fill-opacity="0.7"/>
<circle cx="221.55" cy="650.45" r="1.9" fill="#222222" fill-opacity="0.7"/>
<line x1="223.25" y1="649.82" x2="223.25" y2="647.62" stroke="#000" stroke-width="0.9"/>
<line x1="221.45" y1="647.62" x2="225.05" y2="647.62" stroke="#000" stroke-width="0.9"/>
<circle cx="229" cy="655.08" r="1.9" fill="#3aa8fa" fill-opacity="0.7"/>
<circle cx="228.44" cy="647.65" r="1.9" fill="#3aa8fa" fill-opacity="0.7"/>
<circle cx="229.32" cy="661.68" r="1.9" fill="#3aa8fa" fill-opacity="0.7"/>
<circle cx="230.14" cy="660.64" r="1.9" fill="#3aa8fa" fill-opacity="0.7"/>
<circle cx="229.9" cy="656.33" r="1.9" fill="#3aa8fa" fill-opacity="0.7"/>
<line x1="229.75" y1="653.5" x2="229.75" y2="647.62" stroke="#000" stroke-width="0.9"/>
<line x1="227.95" y1="647.62" x2="231.55" y2="647.62" stroke="#000" stroke-width="0.9"/>
<circle cx="236.53" cy="630.44" r="1.9" fill="#2a55f5" fill-opacity="0.7"/>
<circle cx="237.33" cy="641.14" r="1.9" fill="#2a55f5" fill-opacity="0.7"/>
<circle cx="237.31" cy="636.71" r="1.9" fill="#2a55f5" fill-opacity="0.7"/>
<circle cx="235.81" cy="646.63" r="1.9" fill="#2a55f5" fill-opacity="0.7"/>
<circle cx="236.58" cy="638.26" r="1.9" fill="#2a55f5" fill-opacity="0.7"/>
<line x1="236.25" y1="639.53" x2="236.25" y2="632.92" stroke="#000" stroke-width="0.9"/>
<line x1="234.45" y1="632.92" x2="238.05" y2="632.92" stroke="#000" stroke-width="0.9"/>
<text x="229.75" y="696" font-size="8" text-anchor="middle">1.25</text>
<rect x="242.75" y="683.63" width="6.5" height="1.47" fill="#7a7a7a"/>
<rect x="249.25" y="682.89" width="6.5" height="2.21" fill="#7dc7fd"/>
<rect x="255.75" y="671.13" width="6.5" height="13.97" fill="#8098fd"/>
<circle cx="247.55" cy="682.6" r="1.9" fill="#222222" fill-opacity="0.7"/>
<circle cx="246.37" cy="683.96" r="1.9" fill="#222222" fill-opacity="0.7"/>
<circle cx="247.34" cy="684.73" r="1.9" fill="#222222" fill-opacity="0.7"/>
<circle cx="244.67" cy="683.48" r="1.9" fill="#222222" fill-opacity="0.7"/>
<circle cx="246.39" cy="684.42" r="1.9" fill="#222222" fill-opacity="0.7"/>
<line x1="246" y1="683.63" x2="246" y2="682.89" stroke="#000" stroke-width="0.9"/>
<line x1="244.2" y1="682.89" x2="247.8" y2="682.89" stroke="#000" stroke-width="0.9"/>
<circle cx="252.94" cy="682.03" r="1.9" fill="#3aa8fa" fill-opacity="0.7"/>
<circle cx="252.08" cy="683.05" r="1.9" fill="#3aa8fa" fill-opacity="0.7"/>
<circle cx="251.57" cy="683.35" r="1.9" fill="#3aa8fa" fill-opacity="0.7"/>
<circle cx="254.11" cy="683.16" r="1.9" fill="#3aa8fa" fill-opacity="0.7"/>
<circle cx="254.07" cy="681.98" r="1.9" fill="#3aa8fa" fill-opacity="0.7"/>
<line x1="252.5" y1="682.89" x2="252.5" y2="682.16" stroke="#000" stroke-width="0.9"/>
<line x1="250.7" y1="682.16" x2="254.3" y2="682.16" stroke="#000" stroke-width="0.9"/>
<circle cx="259.33" cy="672.19" r="1.9" fill="#2a55f5" fill-opacity="0.7"/>
<circle cx="260.64" cy="671.15" r="1.9" fill="#2a55f5" fill-opacity="0.7"/>
<circle cx="258.71" cy="671.93" r="1.9" fill="#2a55f5" fill-opacity="0.7"/>
<circle cx="260.65" cy="671.17" r="1.9" fill="#2a55f5" fill-opacity="0.7"/>
<circle cx="258.27" cy="671.24" r="1.9" fill="#2a55f5" fill-opacity="0.7"/>
<line x1="259" y1="671.13" x2="259" y2="669.67" stroke="#000" stroke-width="0.9"/>
<line x1="257.2" y1="669.67" x2="260.8" y2="669.67" stroke="#000" stroke-width="0.9"/>
<text x="252.5" y="696" font-size="8" text-anchor="middle">2.5</text>
<rect x="265.5" y="685.1" width="6.5" height="0" fill="#7a7a7a"/>
<rect x="272" y="684.37" width="6.5" height="0.74" fill="#7dc7fd"/>
<rect x="278.5" y="679.22" width="6.5" height="5.88" fill="#8098fd"/>
<circle cx="267.46" cy="684.83" r="1.9" fill="#222222" fill-opacity="0.7"/>
<circle cx="268.56" cy="685.1" r="1.9" fill="#222222" fill-opacity="0.7"/>
<circle cx="269.71" cy="684.38" r="1.9" fill="#222222" fill-opacity="0.7"/>
<circle cx="267.09" cy="685.03" r="1.9" fill="#222222" fill-opacity="0.7"/>
<circle cx="267.98" cy="684.14" r="1.9" fill="#222222" fill-opacity="0.7"/>
<line x1="268.75" y1="685.1" x2="268.75" y2="684.37" stroke="#000" stroke-width="0.9"/>
<line x1="266.95" y1="684.37" x2="270.55" y2="684.37" stroke="#000" stroke-width="0.9"/>
<circle cx="276.21" cy="684.93" r="1.9" fill="#3aa8fa" fill-opacity="0.7"/>
<circle cx="274.46" cy="685.1" r="1.9" fill="#3aa8fa" fill-opacity="0.7"/>
<circle cx="276.91" cy="684.82" r="1.9" fill="#3aa8fa" fill-opacity="0.7"/>
<circle cx="275.62" cy="684.42" r="1.9" fill="#3aa8fa" fill-opacity="0.7"/>
<circle cx="275.74" cy="684.14" r="1.9" fill="#3aa8fa" fill-opacity="0.7"/>
<line x1="275.25" y1="684.37" x2="275.25" y2="683.63" stroke="#000" stroke-width="0.9"/>
<line x1="273.45" y1="683.63" x2="277.05" y2="683.63" stroke="#000" stroke-width="0.9"/>
<circle cx="282.58" cy="680.06" r="1.9" fill="#2a55f5" fill-opacity="0.7"/>
<circle cx="282.64" cy="679.66" r="1.9" fill="#2a55f5" fill-opacity="0.7"/>
<circle cx="281.86" cy="679.58" r="1.9" fill="#2a55f5" fill-opacity="0.7"/>
<circle cx="281.06" cy="679.15" r="1.9" fill="#2a55f5" fill-opacity="0.7"/>
<circle cx="281.63" cy="679.53" r="1.9" fill="#2a55f5" fill-opacity="0.7"/>
<line x1="281.75" y1="679.22" x2="281.75" y2="678.49" stroke="#000" stroke-width="0.9"/>
<line x1="279.95" y1="678.49" x2="283.55" y2="678.49" stroke="#000" stroke-width="0.9"/>
<text x="275.25" y="696" font-size="8" text-anchor="middle">5</text>
<text x="358.5" y="570.4" font-size="9" text-anchor="middle">Momelotinib</text>
<text x="358.5" y="582.6" font-size="9" text-anchor="middle">(JAK1/JAK2/ACVR1)</text>
<line x1="299.2" y1="685.1" x2="413.5" y2="685.1" stroke="#000" stroke-width="1"/>
<rect x="301.1" y="611.97" width="6.5" height="73.13" fill="#7a7a7a"/>
<rect x="307.6" y="611.6" width="6.5" height="73.5" fill="#7dc7fd"/>
<rect x="314.1" y="612.34" width="6.5" height="72.76" fill="#8098fd"/>
<circle cx="305.18" cy="609.56" r="1.9" fill="#222222" fill-opacity="0.7"/>
<circle cx="302.77" cy="618.52" r="1.9" fill="#222222" fill-opacity="0.7"/>
<circle cx="304.2" cy="600.94" r="1.9" fill="#222222" fill-opacity="0.7"/>
<circle cx="305.67" cy="610.76" r="1.9" fill="#222222" fill-opacity="0.7"/>
<circle cx="302.7" cy="604.6" r="1.9" fill="#222222" fill-opacity="0.7"/>
<line x1="304.35" y1="611.97" x2="304.35" y2="603.15" stroke="#000" stroke-width="0.9"/>
<line x1="302.55" y1="603.15" x2="306.15" y2="603.15" stroke="#000" stroke-width="0.9"/>
<circle cx="310.6" cy="609.26" r="1.9" fill="#3aa8fa" fill-opacity="0.7"/>
<circle cx="311.56" cy="607.52" r="1.9" fill="#3aa8fa" fill-opacity="0.7"/>
<circle cx="310.79" cy="598.89" r="1.9" fill="#3aa8fa" fill-opacity="0.7"/>
<circle cx="310.46" cy="614.94" r="1.9" fill="#3aa8fa" fill-opacity="0.7"/>
<circle cx="312.05" cy="620.97" r="1.9" fill="#3aa8fa" fill-opacity="0.7"/>
<line x1="310.85" y1="611.6" x2="310.85" y2="601.31" stroke="#000" stroke-width="0.9"/>
<line x1="309.05" y1="601.31" x2="312.65" y2="601.31" stroke="#000" stroke-width="0.9"/>
<circle cx="316.66" cy="609.42" r="1.9" fill="#2a55f5" fill-opacity="0.7"/>
<circle cx="315.87" cy="609.37" r="1.9" fill="#2a55f5" fill-opacity="0.7"/>
<circle cx="318.01" cy="612.93" r="1.9" fill="#2a55f5" fill-opacity="0.7"/>
<circle cx="316.62" cy="609.86" r="1.9" fill="#2a55f5" fill-opacity="0.7"/>
<circle cx="318.75" cy="615.49" r="1.9" fill="#2a55f5" fill-opacity="0.7"/>
<line x1="317.35" y1="612.34" x2="317.35" y2="609.39" stroke="#000" stroke-width="0.9"/>
<line x1="315.55" y1="609.39" x2="319.15" y2="609.39" stroke="#000" stroke-width="0.9"/>
<text x="310.85" y="696" font-size="8" text-anchor="middle">0</text>
<rect x="323.85" y="618.95" width="6.5" height="66.15" fill="#7a7a7a"/>
<rect x="330.35" y="618.22" width="6.5" height="66.88" fill="#7dc7fd"/>
<rect x="336.85" y="613.07" width="6.5" height="72.03" fill="#8098fd"/>
<circle cx="327.03" cy="617.65" r="1.9" fill="#222222" fill-opacity="0.7"/>
<circle cx="327.09" cy="623.43" r="1.9" fill="#222222" fill-opacity="0.7"/>
<circle cx="325.92" cy="616.68" r="1.9" fill="#222222" fill-opacity="0.7"/>
<circle cx="328.16" cy="630.37" r="1.9" fill="#222222" fill-opacity="0.7"/>
<circle cx="326.18" cy="610.49" r="1.9" fill="#222222" fill-opacity="0.7"/>
<line x1="327.1" y1="618.95" x2="327.1" y2="610.13" stroke="#000" stroke-width="0.9"/>
<line x1="325.3" y1="610.13" x2="328.9" y2="610.13" stroke="#000" stroke-width="0.9"/>
<circle cx="334.59" cy="615.69" r="1.9" fill="#3aa8fa" fill-opacity="0.7"/>
<circle cx="331.99" cy="614.78" r="1.9" fill="#3aa8fa" fill-opacity="0.7"/>
<circle cx="335.23" cy="610.52" r="1.9" fill="#3aa8fa" fill-opacity="0.7"/>
<circle cx="334.28" cy="625.18" r="1.9" fill="#3aa8fa" fill-opacity="0.7"/>
<circle cx="334.76" cy="622.55" r="1.9" fill="#3aa8fa" fill-opacity="0.7"/>
<line x1="333.6" y1="618.22" x2="333.6" y2="613.07" stroke="#000" stroke-width="0.9"/>
<line x1="331.8" y1="613.07" x2="335.4" y2="613.07" stroke="#000" stroke-width="0.9"/>
<circle cx="340.6" cy="605.09" r="1.9" fill="#2a55f5" fill-opacity="0.7"/>
<circle cx="340.82" cy="619.52" r="1.9" fill="#2a55f5" fill-opacity="0.7"/>
<circle cx="339.39" cy="605.7" r="1.9" fill="#2a55f5" fill-opacity="0.7"/>
<circle cx="338.91" cy="611.12" r="1.9" fill="#2a55f5" fill-opacity="0.7"/>
<circle cx="339.81" cy="619.05" r="1.9" fill="#2a55f5" fill-opacity="0.7"/>
<line x1="340.1" y1="613.07" x2="340.1" y2="607.19" stroke="#000" stroke-width="0.9"/>
<line x1="338.3" y1="607.19" x2="341.9" y2="607.19" stroke="#000" stroke-width="0.9"/>
<text x="333.6" y="696" font-size="8" text-anchor="middle">0.63</text>
<rect x="346.6" y="624.83" width="6.5" height="60.27" fill="#7a7a7a"/>
<rect x="353.1" y="624.1" width="6.5" height="61" fill="#7dc7fd"/>
<rect x="359.6" y="615.27" width="6.5" height="69.83" fill="#8098fd"/>
<circle cx="350.27" cy="634.89" r="1.9" fill="#222222" fill-opacity="0.7"/>
<circle cx="348.52" cy="627.49" r="1.9" fill="#222222" fill-opacity="0.7"/>
<circle cx="348.39" cy="634.59" r="1.9" fill="#222222" fill-opacity="0.7"/>
<circle cx="350.11" cy="619.49" r="1.9" fill="#222222" fill-opacity="0.7"/>
<circle cx="351.14" cy="632.89" r="1.9" fill="#222222" fill-opacity="0.7"/>
<line x1="349.85" y1="624.83" x2="349.85" y2="617.48" stroke="#000" stroke-width="0.9"/>
<line x1="348.05" y1="617.48" x2="351.65" y2="617.48" stroke="#000" stroke-width="0.9"/>
<circle cx="356.12" cy="628.18" r="1.9" fill="#3aa8fa" fill-opacity="0.7"/>
<circle cx="356.69" cy="624.32" r="1.9" fill="#3aa8fa" fill-opacity="0.7"/>
<circle cx="357.84" cy="626.87" r="1.9" fill="#3aa8fa" fill-opacity="0.7"/>
<circle cx="354.84" cy="619.74" r="1.9" fill="#3aa8fa" fill-opacity="0.7"/>
<circle cx="355.16" cy="621.2" r="1.9" fill="#3aa8fa" fill-opacity="0.7"/>
<line x1="356.35" y1="624.1" x2="356.35" y2="616.75" stroke="#000" stroke-width="0.9"/>
<line x1="354.55" y1="616.75" x2="358.15" y2="616.75" stroke="#000" stroke-width="0.9"/>
<circle cx="362.87" cy="614.37" r="1.9" fill="#2a55f5" fill-opacity="0.7"/>
<circle cx="363.04" cy="615.01" r="1.9" fill="#2a55f5" fill-opacity="0.7"/>
<circle cx="362.05" cy="615.16" r="1.9" fill="#2a55f5" fill-opacity="0.7"/>
<circle cx="362.01" cy="614.72" r="1.9" fill="#2a55f5" fill-opacity="0.7"/>
<circle cx="362.91" cy="616.08" r="1.9" fill="#2a55f5" fill-opacity="0.7"/>
<line x1="362.85" y1="615.27" x2="362.85" y2="614.54" stroke="#000" stroke-width="0.9"/>
<line x1="361.05" y1="614.54" x2="364.65" y2="614.54" stroke="#000" stroke-width="0.9"/>
<text x="356.35" y="696" font-size="8" text-anchor="middle">1.25</text>
<rect x="369.35" y="647.62" width="6.5" height="37.49" fill="#7a7a7a"/>
<rect x="375.85" y="635.86" width="6.5" height="49.25" fill="#7dc7fd"/>
<rect x="382.35" y="629.98" width="6.5" height="55.12" fill="#8098fd"/>
<circle cx="371.7" cy="650.45" r="1.9" fill="#222222" fill-opacity="0.7"/>
<circle cx="373.4" cy="654.69" r="1.9" fill="#222222" fill-opacity="0.7"/>
<circle cx="373.33" cy="644.2" r="1.9" fill="#222222" fill-opacity="0.7"/>
<circle cx="371.19" cy="643.91" r="1.9" fill="#222222" fill-opacity="0.7"/>
<circle cx="371.21" cy="655.89" r="1.9" fill="#222222" fill-opacity="0.7"/>
<line x1="372.6" y1="647.62" x2="372.6" y2="640.26" stroke="#000" stroke-width="0.9"/>
<line x1="370.8" y1="640.26" x2="374.4" y2="640.26" stroke="#000" stroke-width="0.9"/>
<circle cx="379.42" cy="640.47" r="1.9" fill="#3aa8fa" fill-opacity="0.7"/>
<circle cx="380.38" cy="636.2" r="1.9" fill="#3aa8fa" fill-opacity="0.7"/>
<circle cx="378.5" cy="630.63" r="1.9" fill="#3aa8fa" fill-opacity="0.7"/>
<circle cx="377.5" cy="631.89" r="1.9" fill="#3aa8fa" fill-opacity="0.7"/>
<circle cx="377.58" cy="642.01" r="1.9" fill="#3aa8fa" fill-opacity="0.7"/>
<line x1="379.1" y1="635.86" x2="379.1" y2="629.98" stroke="#000" stroke-width="0.9"/>
<line x1="377.3" y1="629.98" x2="380.9" y2="629.98" stroke="#000" stroke-width="0.9"/>
<circle cx="387.14" cy="628.38" r="1.9" fill="#2a55f5" fill-opacity="0.7"/>
<circle cx="384.66" cy="633.36" r="1.9" fill="#2a55f5" fill-opacity="0.7"/>
<circle cx="387.21" cy="628.52" r="1.9" fill="#2a55f5" fill-opacity="0.7"/>
<circle cx="386.69" cy="633.15" r="1.9" fill="#2a55f5" fill-opacity="0.7"/>
<circle cx="386.02" cy="631.26" r="1.9" fill="#2a55f5" fill-opacity="0.7"/>
<line x1="385.6" y1="629.98" x2="385.6" y2="627.03" stroke="#000" stroke-width="0.9"/>
<line x1="383.8" y1="627.03" x2="387.4" y2="627.03" stroke="#000" stroke-width="0.9"/>
<text x="379.1" y="696" font-size="8" text-anchor="middle">2.5</text>
<rect x="392.1" y="679.22" width="6.5" height="5.88" fill="#7a7a7a"/>
<rect x="398.6" y="673.34" width="6.5" height="11.76" fill="#7dc7fd"/>
<rect x="405.1" y="663.05" width="6.5" height="22.05" fill="#8098fd"/>
<circle cx="394.45" cy="679.96" r="1.9" fill="#222222" fill-opacity="0.7"/>
<circle cx="395.74" cy="679.89" r="1.9" fill="#222222" fill-opacity="0.7"/>
<circle cx="394.96" cy="680.82" r="1.9" fill="#222222" fill-opacity="0.7"/>
<circle cx="396.48" cy="678.57" r="1.9" fill="#222222" fill-opacity="0.7"/>
<circle cx="396.39" cy="679.51" r="1.9" fill="#222222" fill-opacity="0.7"/>
<line x1="395.35" y1="679.22" x2="395.35" y2="677.75" stroke="#000" stroke-width="0.9"/>
<line x1="393.55" y1="677.75" x2="397.15" y2="677.75" stroke="#000" stroke-width="0.9"/>
<circle cx="403.05" cy="673.22" r="1.9" fill="#3aa8fa" fill-opacity="0.7"/>
<circle cx="402.16" cy="672.86" r="1.9" fill="#3aa8fa" fill-opacity="0.7"/>
<circle cx="402.67" cy="674.03" r="1.9" fill="#3aa8fa" fill-opacity="0.7"/>
<circle cx="400.48" cy="676.43" r="1.9" fill="#3aa8fa" fill-opacity="0.7"/>
<circle cx="400.84" cy="676.39" r="1.9" fill="#3aa8fa" fill-opacity="0.7"/>
<line x1="401.85" y1="673.34" x2="401.85" y2="671.13" stroke="#000" stroke-width="0.9"/>
<line x1="400.05" y1="671.13" x2="403.65" y2="671.13" stroke="#000" stroke-width="0.9"/>
<circle cx="409.67" cy="663.09" r="1.9" fill="#2a55f5" fill-opacity="0.7"/>
<circle cx="409.24" cy="664.15" r="1.9" fill="#2a55f5" fill-opacity="0.7"/>
<circle cx="408.25" cy="662.19" r="1.9" fill="#2a55f5" fill-opacity="0.7"/>
<circle cx="408.76" cy="663.21" r="1.9" fill="#2a55f5" fill-opacity="0.7"/>
<circle cx="408.23" cy="663.93" r="1.9" fill="#2a55f5" fill-opacity="0.7"/>
<line x1="408.35" y1="663.05" x2="408.35" y2="662.32" stroke="#000" stroke-width="0.9"/>
<line x1="406.55" y1="662.32" x2="410.15" y2="662.32" stroke="#000" stroke-width="0.9"/>
<text x="401.85" y="696" font-size="8" text-anchor="middle">5</text>
<text x="489" y="570.4" font-size="9" text-anchor="middle">Pacritinib</text>
<text x="489" y="582.6" font-size="9" text-anchor="middle">(JAK2/ACVR1/IRAK1)</text>
<line x1="429.6" y1="685.1" x2="544.4" y2="685.1" stroke="#000" stroke-width="1"/>
<rect x="431.5" y="611.6" width="6.5" height="73.5" fill="#7a7a7a"/>
<rect x="438" y="610.87" width="6.5" height="74.24" fill="#7dc7fd"/>
<rect x="444.5" y="610.87" width="6.5" height="74.24" fill="#8098fd"/>
<circle cx="433.58" cy="616.86" r="1.9" fill="#222222" fill-opacity="0.7"/>
<circle cx="434.32" cy="613.36" r="1.9" fill="#222222" fill-opacity="0.7"/>
<circle cx="436.04" cy="616.97" r="1.9" fill="#222222" fill-opacity="0.7"/>
<circle cx="433.91" cy="615.04" r="1.9" fill="#222222" fill-opacity="0.7"/>
<circle cx="433.6" cy="614.89" r="1.9" fill="#222222" fill-opacity="0.7"/>
<line x1="434.75" y1="611.6" x2="434.75" y2="606.46" stroke="#000" stroke-width="0.9"/>
<line x1="432.95" y1="606.46" x2="436.55" y2="606.46" stroke="#000" stroke-width="0.9"/>
<circle cx="440.35" cy="610.94" r="1.9" fill="#3aa8fa" fill-opacity="0.7"/>
<circle cx="439.66" cy="608.99" r="1.9" fill="#3aa8fa" fill-opacity="0.7"/>
<circle cx="440.8" cy="608.93" r="1.9" fill="#3aa8fa" fill-opacity="0.7"/>
<circle cx="441.89" cy="610.1" r="1.9" fill="#3aa8fa" fill-opacity="0.7"/>
<circle cx="441.15" cy="608.9" r="1.9" fill="#3aa8fa" fill-opacity="0.7"/>
<line x1="441.25" y1="610.87" x2="441.25" y2="609.39" stroke="#000" stroke-width="0.9"/>
<line x1="439.45" y1="609.39" x2="443.05" y2="609.39" stroke="#000" stroke-width="0.9"/>
<circle cx="446.45" cy="608.63" r="1.9" fill="#2a55f5" fill-opacity="0.7"/>
<circle cx="447.04" cy="608.56" r="1.9" fill="#2a55f5" fill-opacity="0.7"/>
<circle cx="448.53" cy="615.32" r="1.9" fill="#2a55f5" fill-opacity="0.7"/>
<circle cx="446.73" cy="617.15" r="1.9" fill="#2a55f5" fill-opacity="0.7"/>
<circle cx="446.83" cy="616.45" r="1.9" fill="#2a55f5" fill-opacity="0.7"/>
<line x1="447.75" y1="610.87" x2="447.75" y2="606.46" stroke="#000" stroke-width="0.9"/>
<line x1="445.95" y1="606.46" x2="449.55" y2="606.46" stroke="#000" stroke-width="0.9"/>
<text x="441.25" y="696" font-size="8" text-anchor="middle">0</text>
<rect x="454.25" y="629.98" width="6.5" height="55.12" fill="#7a7a7a"/>
<rect x="460.75" y="635.12" width="6.5" height="49.98" fill="#7dc7fd"/>
<rect x="467.25" y="641.74" width="6.5" height="43.37" fill="#8098fd"/>
<circle cx="457.16" cy="627.89" r="1.9" fill="#222222" fill-opacity="0.7"/>
<circle cx="457.04" cy="630.8" r="1.9" fill="#222222" fill-opacity="0.7"/>
<circle cx="457.39" cy="630.93" r="1.9" fill="#222222" fill-opacity="0.7"/>
<circle cx="458.29" cy="629.01" r="1.9" fill="#222222" fill-opacity="0.7"/>
<circle cx="456.36" cy="631.12" r="1.9" fill="#222222" fill-opacity="0.7"/>
<line x1="457.5" y1="629.98" x2="457.5" y2="628.5" stroke="#000" stroke-width="0.9"/>
<line x1="455.7" y1="628.5" x2="459.3" y2="628.5" stroke="#000" stroke-width="0.9"/>
<circle cx="464.59" cy="631.23" r="1.9" fill="#3aa8fa" fill-opacity="0.7"/>
<circle cx="464.5" cy="635.73" r="1.9" fill="#3aa8fa" fill-opacity="0.7"/>
<circle cx="465.62" cy="639.47" r="1.9" fill="#3aa8fa" fill-opacity="0.7"/>
<circle cx="462.51" cy="632.66" r="1.9" fill="#3aa8fa" fill-opacity="0.7"/>
<circle cx="463.69" cy="639.13" r="1.9" fill="#3aa8fa" fill-opacity="0.7"/>
<line x1="464" y1="635.12" x2="464" y2="632.18" stroke="#000" stroke-width="0.9"/>
<line x1="462.2" y1="632.18" x2="465.8" y2="632.18" stroke="#000" stroke-width="0.9"/>
<circle cx="470.66" cy="639.58" r="1.9" fill="#2a55f5" fill-opacity="0.7"/>
<circle cx="470.56" cy="642.4" r="1.9" fill="#2a55f5" fill-opacity="0.7"/>
<circle cx="469.12" cy="643.63" r="1.9" fill="#2a55f5" fill-opacity="0.7"/>
<circle cx="471.86" cy="641.77" r="1.9" fill="#2a55f5" fill-opacity="0.7"/>
<circle cx="471.98" cy="643.7" r="1.9" fill="#2a55f5" fill-opacity="0.7"/>
<line x1="470.5" y1="641.74" x2="470.5" y2="640.26" stroke="#000" stroke-width="0.9"/>
<line x1="468.7" y1="640.26" x2="472.3" y2="640.26" stroke="#000" stroke-width="0.9"/>
<text x="464" y="696" font-size="8" text-anchor="middle">0.625</text>
<rect x="477" y="669.67" width="6.5" height="15.43" fill="#7a7a7a"/>
<rect x="483.5" y="663.79" width="6.5" height="21.31" fill="#7dc7fd"/>
<rect x="490" y="674.08" width="6.5" height="11.02" fill="#8098fd"/>
<circle cx="479.38" cy="673.63" r="1.9" fill="#222222" fill-opacity="0.7"/>
<circle cx="479.9" cy="673.54" r="1.9" fill="#222222" fill-opacity="0.7"/>
<circle cx="479.42" cy="670.48" r="1.9" fill="#222222" fill-opacity="0.7"/>
<circle cx="479.59" cy="673.62" r="1.9" fill="#222222" fill-opacity="0.7"/>
<circle cx="478.68" cy="665.51" r="1.9" fill="#222222" fill-opacity="0.7"/>
<line x1="480.25" y1="669.67" x2="480.25" y2="666.73" stroke="#000" stroke-width="0.9"/>
<line x1="478.45" y1="666.73" x2="482.05" y2="666.73" stroke="#000" stroke-width="0.9"/>
<circle cx="485.66" cy="663.73" r="1.9" fill="#3aa8fa" fill-opacity="0.7"/>
<circle cx="486.42" cy="663.58" r="1.9" fill="#3aa8fa" fill-opacity="0.7"/>
<circle cx="485.34" cy="665.02" r="1.9" fill="#3aa8fa" fill-opacity="0.7"/>
<circle cx="485.42" cy="663.51" r="1.9" fill="#3aa8fa" fill-opacity="0.7"/>
<circle cx="488.18" cy="663.13" r="1.9" fill="#3aa8fa" fill-opacity="0.7"/>
<line x1="486.75" y1="663.79" x2="486.75" y2="661.58" stroke="#000" stroke-width="0.9"/>
<line x1="484.95" y1="661.58" x2="488.55" y2="661.58" stroke="#000" stroke-width="0.9"/>
<circle cx="494.46" cy="675.33" r="1.9" fill="#2a55f5" fill-opacity="0.7"/>
<circle cx="491.61" cy="673.9" r="1.9" fill="#2a55f5" fill-opacity="0.7"/>
<circle cx="493.2" cy="673.76" r="1.9" fill="#2a55f5" fill-opacity="0.7"/>
<circle cx="492.83" cy="673.52" r="1.9" fill="#2a55f5" fill-opacity="0.7"/>
<circle cx="494.02" cy="672.25" r="1.9" fill="#2a55f5" fill-opacity="0.7"/>
<line x1="493.25" y1="674.08" x2="493.25" y2="672.61" stroke="#000" stroke-width="0.9"/>
<line x1="491.45" y1="672.61" x2="495.05" y2="672.61" stroke="#000" stroke-width="0.9"/>
<text x="486.75" y="696" font-size="8" text-anchor="middle">1.25</text>
<rect x="499.75" y="684.73" width="6.5" height="0.37" fill="#7a7a7a"/>
<rect x="506.25" y="682.89" width="6.5" height="2.21" fill="#7dc7fd"/>
<rect x="512.75" y="684.37" width="6.5" height="0.74" fill="#8098fd"/>
<circle cx="502.35" cy="684.79" r="1.9" fill="#222222" fill-opacity="0.7"/>
<circle cx="504.11" cy="685.04" r="1.9" fill="#222222" fill-opacity="0.7"/>
<circle cx="501.69" cy="684.94" r="1.9" fill="#222222" fill-opacity="0.7"/>
<circle cx="501.6" cy="684.43" r="1.9" fill="#222222" fill-opacity="0.7"/>
<circle cx="504.09" cy="684.94" r="1.9" fill="#222222" fill-opacity="0.7"/>
<line x1="503" y1="684.73" x2="503" y2="684.37" stroke="#000" stroke-width="0.9"/>
<line x1="501.2" y1="684.37" x2="504.8" y2="684.37" stroke="#000" stroke-width="0.9"/>
<circle cx="508.24" cy="683.36" r="1.9" fill="#3aa8fa" fill-opacity="0.7"/>
<circle cx="508.63" cy="683.35" r="1.9" fill="#3aa8fa" fill-opacity="0.7"/>
<circle cx="509.26" cy="682.81" r="1.9" fill="#3aa8fa" fill-opacity="0.7"/>
<circle cx="508.63" cy="683.38" r="1.9" fill="#3aa8fa" fill-opacity="0.7"/>
<circle cx="510.18" cy="683.39" r="1.9" fill="#3aa8fa" fill-opacity="0.7"/>
<line x1="509.5" y1="682.89" x2="509.5" y2="682.53" stroke="#000" stroke-width="0.9"/>
<line x1="507.7" y1="682.53" x2="511.3" y2="682.53" stroke="#000" stroke-width="0.9"/>
<circle cx="514.98" cy="684.6" r="1.9" fill="#2a55f5" fill-opacity="0.7"/>
<circle cx="515.57" cy="684.81" r="1.9" fill="#2a55f5" fill-opacity="0.7"/>
<circle cx="515.73" cy="684.57" r="1.9" fill="#2a55f5" fill-opacity="0.7"/>
<circle cx="516.86" cy="684.3" r="1.9" fill="#2a55f5" fill-opacity="0.7"/>
<circle cx="517.35" cy="684.2" r="1.9" fill="#2a55f5" fill-opacity="0.7"/>
<line x1="516" y1="684.37" x2="516" y2="684" stroke="#000" stroke-width="0.9"/>
<line x1="514.2" y1="684" x2="517.8" y2="684" stroke="#000" stroke-width="0.9"/>
<text x="509.5" y="696" font-size="8" text-anchor="middle">2.5</text>
<rect x="522.5" y="685.1" width="6.5" height="0" fill="#7a7a7a"/>
<rect x="529" y="684.37" width="6.5" height="0.74" fill="#7dc7fd"/>
<rect x="535.5" y="684.73" width="6.5" height="0.37" fill="#8098fd"/>
<circle cx="526.63" cy="685.02" r="1.9" fill="#222222" fill-opacity="0.7"/>
<circle cx="525.55" cy="684.75" r="1.9" fill="#222222" fill-opacity="0.7"/>
<circle cx="526.28" cy="684.6" r="1.9" fill="#222222" fill-opacity="0.7"/>
<circle cx="526.53" cy="684.88" r="1.9" fill="#222222" fill-opacity="0.7"/>
<circle cx="524.96" cy="684.76" r="1.9" fill="#222222" fill-opacity="0.7"/>
<line x1="525.75" y1="685.1" x2="525.75" y2="684.73" stroke="#000" stroke-width="0.9"/>
<line x1="523.95" y1="684.73" x2="527.55" y2="684.73" stroke="#000" stroke-width="0.9"/>
<circle cx="531.85" cy="684.77" r="1.9" fill="#3aa8fa" fill-opacity="0.7"/>
<circle cx="530.77" cy="684.73" r="1.9" fill="#3aa8fa" fill-opacity="0.7"/>
<circle cx="531.44" cy="684.17" r="1.9" fill="#3aa8fa" fill-opacity="0.7"/>
<circle cx="531.52" cy="684.85" r="1.9" fill="#3aa8fa" fill-opacity="0.7"/>
<circle cx="533.15" cy="684.3" r="1.9" fill="#3aa8fa" fill-opacity="0.7"/>
<line x1="532.25" y1="684.37" x2="532.25" y2="684" stroke="#000" stroke-width="0.9"/>
<line x1="530.45" y1="684" x2="534.05" y2="684" stroke="#000" stroke-width="0.9"/>
<circle cx="537.14" cy="685.1" r="1.9" fill="#2a55f5" fill-opacity="0.7"/>
<circle cx="537.49" cy="684.89" r="1.9" fill="#2a55f5" fill-opacity="0.7"/>
<circle cx="539.97" cy="684.24" r="1.9" fill="#2a55f5" fill-opacity="0.7"/>
<circle cx="539.13" cy="685.03" r="1.9" fill="#2a55f5" fill-opacity="0.7"/>
<circle cx="538.51" cy="684.88" r="1.9" fill="#2a55f5" fill-opacity="0.7"/>
<line x1="538.75" y1="684.73" x2="538.75" y2="684.37" stroke="#000" stroke-width="0.9"/>
<line x1="536.95" y1="684.37" x2="540.55" y2="684.37" stroke="#000" stroke-width="0.9"/>
<text x="532.25" y="696" font-size="8" text-anchor="middle">5</text>
<text x="610" y="570.4" font-size="9" text-anchor="middle">Itacitinib</text>
<text x="610" y="582.6" font-size="9" text-anchor="middle">(JAK1)</text>
<line x1="552" y1="685.1" x2="667" y2="685.1" stroke="#000" stroke-width="1"/>
<rect x="553.8" y="610.13" width="6.5" height="74.97" fill="#7a7a7a"/>
<rect x="560.3" y="612.34" width="6.5" height="72.76" fill="#7dc7fd"/>
<rect x="566.8" y="612.34" width="6.5" height="72.76" fill="#8098fd"/>
<circle cx="556.47" cy="615.51" r="1.9" fill="#222222" fill-opacity="0.7"/>
<circle cx="557.34" cy="606.53" r="1.9" fill="#222222" fill-opacity="0.7"/>
<circle cx="557.82" cy="614.59" r="1.9" fill="#222222" fill-opacity="0.7"/>
<circle cx="557.15" cy="613.76" r="1.9" fill="#222222" fill-opacity="0.7"/>
<circle cx="557.76" cy="610.72" r="1.9" fill="#222222" fill-opacity="0.7"/>
<line x1="557.05" y1="610.13" x2="557.05" y2="606.46" stroke="#000" stroke-width="0.9"/>
<line x1="555.25" y1="606.46" x2="558.85" y2="606.46" stroke="#000" stroke-width="0.9"/>
<circle cx="565.04" cy="607.79" r="1.9" fill="#3aa8fa" fill-opacity="0.7"/>
<circle cx="562.25" cy="615.16" r="1.9" fill="#3aa8fa" fill-opacity="0.7"/>
<circle cx="564.96" cy="612.94" r="1.9" fill="#3aa8fa" fill-opacity="0.7"/>
<circle cx="563.33" cy="613.24" r="1.9" fill="#3aa8fa" fill-opacity="0.7"/>
<circle cx="564.46" cy="605.6" r="1.9" fill="#3aa8fa" fill-opacity="0.7"/>
<line x1="563.55" y1="612.34" x2="563.55" y2="607.19" stroke="#000" stroke-width="0.9"/>
<line x1="561.75" y1="607.19" x2="565.35" y2="607.19" stroke="#000" stroke-width="0.9"/>
<circle cx="570.16" cy="596.8" r="1.9" fill="#2a55f5" fill-opacity="0.7"/>
<circle cx="570.38" cy="625.45" r="1.9" fill="#2a55f5" fill-opacity="0.7"/>
<circle cx="571.12" cy="615" r="1.9" fill="#2a55f5" fill-opacity="0.7"/>
<circle cx="568.53" cy="596.52" r="1.9" fill="#2a55f5" fill-opacity="0.7"/>
<circle cx="568.46" cy="609.79" r="1.9" fill="#2a55f5" fill-opacity="0.7"/>
<line x1="570.05" y1="612.34" x2="570.05" y2="601.31" stroke="#000" stroke-width="0.9"/>
<line x1="568.25" y1="601.31" x2="571.85" y2="601.31" stroke="#000" stroke-width="0.9"/>
<text x="563.55" y="696" font-size="8" text-anchor="middle">0</text>
<rect x="576.55" y="615.27" width="6.5" height="69.83" fill="#7a7a7a"/>
<rect x="583.05" y="607.19" width="6.5" height="77.91" fill="#7dc7fd"/>
<rect x="589.55" y="610.13" width="6.5" height="74.97" fill="#8098fd"/>
<circle cx="579.74" cy="612.75" r="1.9" fill="#222222" fill-opacity="0.7"/>
<circle cx="579.44" cy="617.16" r="1.9" fill="#222222" fill-opacity="0.7"/>
<circle cx="579.04" cy="617.25" r="1.9" fill="#222222" fill-opacity="0.7"/>
<circle cx="580.01" cy="616.22" r="1.9" fill="#222222" fill-opacity="0.7"/>
<circle cx="580.65" cy="616.98" r="1.9" fill="#222222" fill-opacity="0.7"/>
<line x1="579.8" y1="615.27" x2="579.8" y2="613.07" stroke="#000" stroke-width="0.9"/>
<line x1="578" y1="613.07" x2="581.6" y2="613.07" stroke="#000" stroke-width="0.9"/>
<circle cx="585.8" cy="617.18" r="1.9" fill="#3aa8fa" fill-opacity="0.7"/>
<circle cx="587.94" cy="593.69" r="1.9" fill="#3aa8fa" fill-opacity="0.7"/>
<circle cx="587.49" cy="602.5" r="1.9" fill="#3aa8fa" fill-opacity="0.7"/>
<circle cx="585.96" cy="621.36" r="1.9" fill="#3aa8fa" fill-opacity="0.7"/>
<circle cx="587.43" cy="607.58" r="1.9" fill="#3aa8fa" fill-opacity="0.7"/>
<line x1="586.3" y1="607.19" x2="586.3" y2="593.96" stroke="#000" stroke-width="0.9"/>
<line x1="584.5" y1="593.96" x2="588.1" y2="593.96" stroke="#000" stroke-width="0.9"/>
<circle cx="591.23" cy="613.04" r="1.9" fill="#2a55f5" fill-opacity="0.7"/>
<circle cx="591.44" cy="608.21" r="1.9" fill="#2a55f5" fill-opacity="0.7"/>
<circle cx="594.16" cy="612.78" r="1.9" fill="#2a55f5" fill-opacity="0.7"/>
<circle cx="593.81" cy="611.68" r="1.9" fill="#2a55f5" fill-opacity="0.7"/>
<circle cx="593.42" cy="606.93" r="1.9" fill="#2a55f5" fill-opacity="0.7"/>
<line x1="592.8" y1="610.13" x2="592.8" y2="607.19" stroke="#000" stroke-width="0.9"/>
<line x1="591" y1="607.19" x2="594.6" y2="607.19" stroke="#000" stroke-width="0.9"/>
<text x="586.3" y="696" font-size="8" text-anchor="middle">0.625</text>
<rect x="599.3" y="617.48" width="6.5" height="67.62" fill="#7a7a7a"/>
<rect x="605.8" y="607.19" width="6.5" height="77.91" fill="#7dc7fd"/>
<rect x="612.3" y="613.81" width="6.5" height="71.29" fill="#8098fd"/>
<circle cx="602.97" cy="614.83" r="1.9" fill="#222222" fill-opacity="0.7"/>
<circle cx="602.13" cy="621.8" r="1.9" fill="#222222" fill-opacity="0.7"/>
<circle cx="602.59" cy="616.72" r="1.9" fill="#222222" fill-opacity="0.7"/>
<circle cx="601.48" cy="618.46" r="1.9" fill="#222222" fill-opacity="0.7"/>
<circle cx="601.93" cy="621.65" r="1.9" fill="#222222" fill-opacity="0.7"/>
<line x1="602.55" y1="617.48" x2="602.55" y2="614.54" stroke="#000" stroke-width="0.9"/>
<line x1="600.75" y1="614.54" x2="604.35" y2="614.54" stroke="#000" stroke-width="0.9"/>
<circle cx="608.41" cy="611.32" r="1.9" fill="#3aa8fa" fill-opacity="0.7"/>
<circle cx="608.97" cy="600.02" r="1.9" fill="#3aa8fa" fill-opacity="0.7"/>
<circle cx="608.71" cy="590.17" r="1.9" fill="#3aa8fa" fill-opacity="0.7"/>
<circle cx="610.12" cy="592.24" r="1.9" fill="#3aa8fa" fill-opacity="0.7"/>
<circle cx="609.71" cy="601.19" r="1.9" fill="#3aa8fa" fill-opacity="0.7"/>
<line x1="609.05" y1="607.19" x2="609.05" y2="595.43" stroke="#000" stroke-width="0.9"/>
<line x1="607.25" y1="595.43" x2="610.85" y2="595.43" stroke="#000" stroke-width="0.9"/>
<circle cx="615.67" cy="611.17" r="1.9" fill="#2a55f5" fill-opacity="0.7"/>
<circle cx="615.08" cy="612.98" r="1.9" fill="#2a55f5" fill-opacity="0.7"/>
<circle cx="616.16" cy="613.61" r="1.9" fill="#2a55f5" fill-opacity="0.7"/>
<circle cx="614.82" cy="617.53" r="1.9" fill="#2a55f5" fill-opacity="0.7"/>
<circle cx="614.15" cy="615.08" r="1.9" fill="#2a55f5" fill-opacity="0.7"/>
<line x1="615.55" y1="613.81" x2="615.55" y2="610.87" stroke="#000" stroke-width="0.9"/>
<line x1="613.75" y1="610.87" x2="617.35" y2="610.87" stroke="#000" stroke-width="0.9"/>
<text x="609.05" y="696" font-size="8" text-anchor="middle">1.25</text>
<rect x="622.05" y="615.27" width="6.5" height="69.83" fill="#7a7a7a"/>
<rect x="628.55" y="606.46" width="6.5" height="78.64" fill="#7dc7fd"/>
<rect x="635.05" y="613.81" width="6.5" height="71.29" fill="#8098fd"/>
<circle cx="625.57" cy="613.56" r="1.9" fill="#222222" fill-opacity="0.7"/>
<circle cx="626.03" cy="616.55" r="1.9" fill="#222222" fill-opacity="0.7"/>
<circle cx="626.76" cy="616.77" r="1.9" fill="#222222" fill-opacity="0.7"/>
<circle cx="626.03" cy="618.11" r="1.9" fill="#222222" fill-opacity="0.7"/>
<circle cx="626.16" cy="614.15" r="1.9" fill="#222222" fill-opacity="0.7"/>
<line x1="625.3" y1="615.27" x2="625.3" y2="613.07" stroke="#000" stroke-width="0.9"/>
<line x1="623.5" y1="613.07" x2="627.1" y2="613.07" stroke="#000" stroke-width="0.9"/>
<circle cx="633.35" cy="600.32" r="1.9" fill="#3aa8fa" fill-opacity="0.7"/>
<circle cx="632.44" cy="601.23" r="1.9" fill="#3aa8fa" fill-opacity="0.7"/>
<circle cx="632.61" cy="604.74" r="1.9" fill="#3aa8fa" fill-opacity="0.7"/>
<circle cx="630.81" cy="606.2" r="1.9" fill="#3aa8fa" fill-opacity="0.7"/>
<circle cx="633.15" cy="610.48" r="1.9" fill="#3aa8fa" fill-opacity="0.7"/>
<line x1="631.8" y1="606.46" x2="631.8" y2="601.31" stroke="#000" stroke-width="0.9"/>
<line x1="630" y1="601.31" x2="633.6" y2="601.31" stroke="#000" stroke-width="0.9"/>
<circle cx="639.91" cy="613.32" r="1.9" fill="#2a55f5" fill-opacity="0.7"/>
<circle cx="637.94" cy="619.28" r="1.9" fill="#2a55f5" fill-opacity="0.7"/>
<circle cx="637.93" cy="617.35" r="1.9" fill="#2a55f5" fill-opacity="0.7"/>
<circle cx="638.82" cy="609.4" r="1.9" fill="#2a55f5" fill-opacity="0.7"/>
<circle cx="639.69" cy="612.55" r="1.9" fill="#2a55f5" fill-opacity="0.7"/>
<line x1="638.3" y1="613.81" x2="638.3" y2="610.13" stroke="#000" stroke-width="0.9"/>
<line x1="636.5" y1="610.13" x2="640.1" y2="610.13" stroke="#000" stroke-width="0.9"/>
<text x="631.8" y="696" font-size="8" text-anchor="middle">2.5</text>
<rect x="644.8" y="617.48" width="6.5" height="67.62" fill="#7a7a7a"/>
<rect x="651.3" y="608.66" width="6.5" height="76.44" fill="#7dc7fd"/>
<rect x="657.8" y="615.27" width="6.5" height="69.83" fill="#8098fd"/>
<circle cx="647.66" cy="620.93" r="1.9" fill="#222222" fill-opacity="0.7"/>
<circle cx="648.69" cy="617.01" r="1.9" fill="#222222" fill-opacity="0.7"/>
<circle cx="648.78" cy="618.59" r="1.9" fill="#222222" fill-opacity="0.7"/>
<circle cx="649.37" cy="620.01" r="1.9" fill="#222222" fill-opacity="0.7"/>
<circle cx="647.39" cy="619.53" r="1.9" fill="#222222" fill-opacity="0.7"/>
<line x1="648.05" y1="617.48" x2="648.05" y2="614.54" stroke="#000" stroke-width="0.9"/>
<line x1="646.25" y1="614.54" x2="649.85" y2="614.54" stroke="#000" stroke-width="0.9"/>
<circle cx="654.97" cy="592.89" r="1.9" fill="#3aa8fa" fill-opacity="0.7"/>
<circle cx="653.42" cy="603.39" r="1.9" fill="#3aa8fa" fill-opacity="0.7"/>
<circle cx="655.46" cy="619.59" r="1.9" fill="#3aa8fa" fill-opacity="0.7"/>
<circle cx="653.06" cy="606.04" r="1.9" fill="#3aa8fa" fill-opacity="0.7"/>
<circle cx="655.67" cy="593.63" r="1.9" fill="#3aa8fa" fill-opacity="0.7"/>
<line x1="654.55" y1="608.66" x2="654.55" y2="595.43" stroke="#000" stroke-width="0.9"/>
<line x1="652.75" y1="595.43" x2="656.35" y2="595.43" stroke="#000" stroke-width="0.9"/>
<circle cx="661.83" cy="616.01" r="1.9" fill="#2a55f5" fill-opacity="0.7"/>
<circle cx="660.8" cy="615.02" r="1.9" fill="#2a55f5" fill-opacity="0.7"/>
<circle cx="662.43" cy="617.02" r="1.9" fill="#2a55f5" fill-opacity="0.7"/>
<circle cx="660.3" cy="614.35" r="1.9" fill="#2a55f5" fill-opacity="0.7"/>
<circle cx="662.64" cy="618.03" r="1.9" fill="#2a55f5" fill-opacity="0.7"/>
<line x1="661.05" y1="615.27" x2="661.05" y2="612.34" stroke="#000" stroke-width="0.9"/>
<line x1="659.25" y1="612.34" x2="662.85" y2="612.34" stroke="#000" stroke-width="0.9"/>
<text x="654.55" y="696" font-size="8" text-anchor="middle">5</text>
<rect x="644.3" y="559.2" width="6.4" height="5.8" fill="#7a7a7a"/>
<rect x="644.3" y="566.8" width="6.4" height="6" fill="#7dc7fd"/>
<rect x="644.3" y="575.2" width="6.4" height="6.4" fill="#8098fd"/>
<text x="652.5" y="564.6" font-size="6.8">Parental</text>
<text x="652.5" y="572.3" font-size="6.8">Palbo-R</text>
<text x="652.5" y="580.6" font-size="6.8">Abema-R</text>
<text x="0.5" y="719.5" font-size="17.5" font-weight="bold">I</text>
<text x="52.93" y="772.3" font-size="9" transform="rotate(-45 52.93 772.3)">Control</text>
<text x="69.17" y="772.3" font-size="9" transform="rotate(-45 69.17 772.3)">Palbociclib</text>
<text x="88.42" y="772.3" font-size="9" transform="rotate(-45 88.42 772.3)">Pacritinib</text>
<text x="101.67" y="772.3" font-size="9" transform="rotate(-45 101.67 772.3)">Combo</text>
<text x="117.92" y="772.3" font-size="9" transform="rotate(-45 117.92 772.3)">Control</text>
<text x="134.17" y="772.3" font-size="9" transform="rotate(-45 134.17 772.3)">Abemaciclib</text>
<text x="150.72" y="772.3" font-size="9" transform="rotate(-45 150.72 772.3)">Pacritinib</text>
<text x="166.07" y="772.3" font-size="9" transform="rotate(-45 166.07 772.3)">Combo</text>
<rect x="45.2" y="775.2" width="130" height="16.8" fill="#efefef"/>
<rect x="45.61" y="784.1" width="15.44" height="2.6" rx="1.3" fill="#000" fill-opacity="0.6" filter="url(#bl)"/>
<rect x="61.86" y="783.5" width="15.44" height="3.4" rx="1.7" fill="#000" fill-opacity="0.85" filter="url(#bl)"/>
<rect x="63.08" y="779.35" width="13" height="4.3" rx="2.15" fill="#000" fill-opacity="0.2" filter="url(#bl)"/>
<rect x="79.33" y="784.5" width="13" height="2.2" rx="1.1" fill="#000" fill-opacity="0.12" filter="url(#bl)"/>
<rect x="110.61" y="783.9" width="15.44" height="3" rx="1.5" fill="#000" fill-opacity="0.75" filter="url(#bl)"/>
<rect x="126.86" y="783.3" width="15.44" height="3.4" rx="1.7" fill="#000" fill-opacity="0.95" filter="url(#bl)"/>
<rect x="143.51" y="783.6" width="14.62" height="2.8" rx="1.4" fill="#000" fill-opacity="0.7" filter="url(#bl)"/>
<rect x="160.17" y="784" width="13.81" height="2.6" rx="1.3" fill="#000" fill-opacity="0.28" filter="url(#bl)"/>
<rect x="111.83" y="778.1" width="13" height="4.8" rx="2.4" fill="#000" fill-opacity="0.12" filter="url(#bl)"/>
<rect x="45.2" y="775.2" width="130" height="16.8" fill="none" stroke="#000" stroke-width="1.2"/>
<text x="40.6" y="786.4" font-size="9.4" text-anchor="end">pSTAT3</text>
<line x1="176.5" y1="790.4" x2="185.6" y2="790.4" stroke="#000" stroke-width="1.4"/>
<text x="187.4" y="793.8" font-size="9.3">75</text>
<rect x="45.2" y="795.3" width="130" height="16.7" fill="#e2e2e2"/>
<rect x="45.2" y="798.7" width="16.25" height="5.4" rx="2.7" fill="#000" fill-opacity="1" filter="url(#bl)"/>
<rect x="61.45" y="799.8" width="16.25" height="4.2" rx="2.1" fill="#000" fill-opacity="1" filter="url(#bl)"/>
<rect x="77.7" y="800" width="16.25" height="4" rx="2" fill="#000" fill-opacity="0.95" filter="url(#bl)"/>
<rect x="93.95" y="800" width="16.25" height="4" rx="2" fill="#000" fill-opacity="0.95" filter="url(#bl)"/>
<rect x="110.2" y="800" width="16.25" height="4" rx="2" fill="#000" fill-opacity="0.95" filter="url(#bl)"/>
<rect x="126.45" y="799.7" width="16.25" height="4.2" rx="2.1" fill="#000" fill-opacity="1" filter="url(#bl)"/>
<rect x="142.7" y="799.8" width="16.25" height="4" rx="2" fill="#000" fill-opacity="0.95" filter="url(#bl)"/>
<rect x="159.36" y="799.5" width="15.44" height="3.8" rx="1.9" fill="#000" fill-opacity="0.95" filter="url(#bl)"/>
<rect x="45.61" y="806.1" width="15.44" height="2.6" rx="1.3" fill="#000" fill-opacity="0.55" filter="url(#bl)"/>
<rect x="61.86" y="806.1" width="15.44" height="2.6" rx="1.3" fill="#000" fill-opacity="0.55" filter="url(#bl)"/>
<rect x="78.11" y="806.1" width="15.44" height="2.6" rx="1.3" fill="#000" fill-opacity="0.55" filter="url(#bl)"/>
<rect x="94.36" y="806.1" width="15.44" height="2.6" rx="1.3" fill="#000" fill-opacity="0.6" filter="url(#bl)"/>
<rect x="110.61" y="806.1" width="15.44" height="2.6" rx="1.3" fill="#000" fill-opacity="0.5" filter="url(#bl)"/>
<rect x="127.26" y="805.8" width="14.62" height="4.8" rx="2.4" fill="#000" fill-opacity="0.95" filter="url(#bl)"/>
<rect x="143.11" y="806.1" width="15.44" height="2.6" rx="1.3" fill="#000" fill-opacity="0.35" filter="url(#bl)"/>
<rect x="159.76" y="806.1" width="14.62" height="2.6" rx="1.3" fill="#000" fill-opacity="0.25" filter="url(#bl)"/>
<rect x="45.2" y="795.3" width="130" height="16.7" fill="none" stroke="#000" stroke-width="1.2"/>
<text x="40.6" y="806.45" font-size="9.4" text-anchor="end">STAT3</text>
<line x1="176.5" y1="809.3" x2="185.6" y2="809.3" stroke="#000" stroke-width="1.4"/>
<text x="187.4" y="812.7" font-size="9.3">75</text>
<rect x="45.2" y="814.6" width="130" height="16.6" fill="#f1f1f1"/>
<rect x="46.83" y="822.2" width="13" height="2.8" rx="1.4" fill="#000" fill-opacity="0.45" filter="url(#bl)"/>
<rect x="63.08" y="822.6" width="13" height="2.8" rx="1.4" fill="#000" fill-opacity="0.35" filter="url(#bl)"/>
<rect x="79.33" y="823.1" width="13" height="2.2" rx="1.1" fill="#000" fill-opacity="0.1" filter="url(#bl)"/>
<rect x="111.42" y="822.4" width="13.81" height="3.2" rx="1.6" fill="#000" fill-opacity="0.7" filter="url(#bl)"/>
<rect x="127.67" y="822.4" width="13.81" height="3.2" rx="1.6" fill="#000" fill-opacity="0.65" filter="url(#bl)"/>
<rect x="143.92" y="822.3" width="13.81" height="3" rx="1.5" fill="#000" fill-opacity="0.55" filter="url(#bl)"/>
<rect x="160.57" y="822.4" width="13" height="2.8" rx="1.4" fill="#000" fill-opacity="0.25" filter="url(#bl)"/>
<rect x="45.2" y="814.6" width="130" height="16.6" fill="none" stroke="#000" stroke-width="1.2"/>
<text x="40.6" y="825.7" font-size="9.4" text-anchor="end">Cyclin D1</text>
<line x1="176.5" y1="823.5" x2="185.6" y2="823.5" stroke="#000" stroke-width="1.4"/>
<text x="187.4" y="826.9" font-size="9.3">37</text>
<rect x="45.2" y="834.4" width="130" height="16.9" fill="#ebebeb"/>
<rect x="45.2" y="841.1" width="16.25" height="4.2" rx="2.1" fill="#000" fill-opacity="1" filter="url(#bl)"/>
<rect x="61.45" y="842.7" width="16.25" height="3.8" rx="1.9" fill="#000" fill-opacity="0.95" filter="url(#bl)"/>
<rect x="77.7" y="843.4" width="16.25" height="4" rx="2" fill="#000" fill-opacity="1" filter="url(#bl)"/>
<rect x="93.95" y="843.4" width="16.25" height="4" rx="2" fill="#000" fill-opacity="1" filter="url(#bl)"/>
<rect x="110.2" y="842.9" width="16.25" height="3.8" rx="1.9" fill="#000" fill-opacity="1" filter="url(#bl)"/>
<rect x="126.45" y="842.9" width="16.25" height="3.8" rx="1.9" fill="#000" fill-opacity="1" filter="url(#bl)"/>
<rect x="142.7" y="842.9" width="16.25" height="3.8" rx="1.9" fill="#000" fill-opacity="1" filter="url(#bl)"/>
<rect x="158.95" y="842.2" width="16.25" height="4.4" rx="2.2" fill="#000" fill-opacity="1" filter="url(#bl)"/>
<rect x="45.2" y="834.4" width="130" height="16.9" fill="none" stroke="#000" stroke-width="1.2"/>
<text x="40.6" y="845.65" font-size="9.4" text-anchor="end">B-tubulin</text>
<line x1="176.5" y1="845.6" x2="185.6" y2="845.6" stroke="#000" stroke-width="1.4"/>
<text x="187.4" y="849" font-size="9.3">50</text>
<line x1="48.6" y1="853.2" x2="109.4" y2="853.2" stroke="#777" stroke-width="1.2"/>
<line x1="112.7" y1="853.2" x2="173.8" y2="853.2" stroke="#777" stroke-width="1.2"/>
<text x="78.8" y="861.7" font-size="9" text-anchor="middle">Palbo-R</text>
<text x="143.2" y="861.7" font-size="9" text-anchor="middle">Abema-R</text>
<text x="192" y="861.9" font-size="9">kDa</text>
<text x="188" y="719.7" font-size="17.5" font-weight="bold">J</text>
<rect x="202.5" y="723" width="55.9" height="20.4" fill="none" stroke="#000" stroke-width="1"/>
<text x="230.45" y="736.6" font-size="9.4" text-anchor="middle">Palbo-R</text>
<rect x="202.5" y="816.4" width="55.9" height="19.4" fill="none" stroke="#000" stroke-width="1"/>
<text x="230.45" y="829.6" font-size="9.4" text-anchor="middle">Abema-R</text>
<defs><linearGradient id="cb" x1="0" x2="1" y1="0" y2="0"><stop offset="0" stop-color="#10e010"/><stop offset="0.5" stop-color="#ffffff"/><stop offset="1" stop-color="#ff1010"/></linearGradient><radialGradient id="gg" cx="0.62" cy="0.62" r="0.62"><stop offset="0" stop-color="#bcf3b8"/><stop offset="0.55" stop-color="#d2f6cf"/><stop offset="1" stop-color="#f2fcf1"/></radialGradient><radialGradient id="rr" cx="0.3" cy="0.45" r="0.85"><stop offset="0" stop-color="#ff4444"/><stop offset="0.45" stop-color="#ff6262"/><stop offset="1" stop-color="#ff9c9c"/></radialGradient><linearGradient id="wt" x1="0" x2="0" y1="0" y2="1"><stop offset="0" stop-color="#fff" stop-opacity="0.35"/><stop offset="1" stop-color="#fff" stop-opacity="0"/></linearGradient><linearGradient id="wl" x1="0" x2="1" y1="0" y2="0"><stop offset="0" stop-color="#fff" stop-opacity="1"/><stop offset="1" stop-color="#fff" stop-opacity="0"/></linearGradient><linearGradient id="wb" x1="0" x2="0" y1="1" y2="0"><stop offset="0" stop-color="#fff" stop-opacity="1"/><stop offset="1" stop-color="#fff" stop-opacity="0"/></linearGradient></defs>
<rect x="215.6" y="866" width="40.7" height="8" fill="url(#cb)"/>
<text x="221.5" y="880.6" font-size="4.8" text-anchor="middle" fill="#444" stroke="#444">-20</text>
<text x="236" y="880.6" font-size="4.8" text-anchor="middle" fill="#444" stroke="#444">0</text>
<text x="250.5" y="880.6" font-size="4.8" text-anchor="middle" fill="#444" stroke="#444">20</text>
<text x="236" y="885.8" font-size="4.6" text-anchor="middle" fill="#444" stroke="#444">ZIP synergy score</text>
<rect x="289.6" y="727.7" width="87.6" height="55.2" fill="url(#gg)"/>
<rect x="289.6" y="727.7" width="87.6" height="9" fill="url(#wt)"/>
<rect x="289.6" y="727.7" width="14" height="55.2" fill="url(#wl)"/>
<rect x="289.6" y="770.9" width="87.6" height="12" fill="url(#wb)"/>
<line x1="307.12" y1="727.7" x2="307.12" y2="782.9" stroke="#8a8a8a" stroke-width="0.4" stroke-dasharray="1.4,0.9"/>
<line x1="324.64" y1="727.7" x2="324.64" y2="782.9" stroke="#8a8a8a" stroke-width="0.4" stroke-dasharray="1.4,0.9"/>
<line x1="342.16" y1="727.7" x2="342.16" y2="782.9" stroke="#8a8a8a" stroke-width="0.4" stroke-dasharray="1.4,0.9"/>
<line x1="359.68" y1="727.7" x2="359.68" y2="782.9" stroke="#8a8a8a" stroke-width="0.4" stroke-dasharray="1.4,0.9"/>
<line x1="289.6" y1="741.5" x2="377.2" y2="741.5" stroke="#8a8a8a" stroke-width="0.4" stroke-dasharray="1.4,0.9"/>
<line x1="289.6" y1="755.3" x2="377.2" y2="755.3" stroke="#8a8a8a" stroke-width="0.4" stroke-dasharray="1.4,0.9"/>
<line x1="289.6" y1="769.1" x2="377.2" y2="769.1" stroke="#8a8a8a" stroke-width="0.4" stroke-dasharray="1.4,0.9"/>
<line x1="289.6" y1="727.7" x2="289.6" y2="782.9" stroke="#555" stroke-width="0.5"/>
<line x1="289.6" y1="782.9" x2="377.2" y2="782.9" stroke="#555" stroke-width="0.5"/>
<text x="289.6" y="789.2" font-size="4.5" text-anchor="middle" fill="#333" stroke="#333">0</text>
<text x="307.12" y="789.2" font-size="4.5" text-anchor="middle" fill="#333" stroke="#333">0.5</text>
<text x="324.64" y="789.2" font-size="4.5" text-anchor="middle" fill="#333" stroke="#333">1</text>
<text x="342.16" y="789.2" font-size="4.5" text-anchor="middle" fill="#333" stroke="#333">2</text>
<text x="359.68" y="789.2" font-size="4.5" text-anchor="middle" fill="#333" stroke="#333">4</text>
<text x="377.2" y="789.2" font-size="4.5" text-anchor="middle" fill="#333" stroke="#333">8</text>
<text x="288.4" y="730" font-size="4.5" text-anchor="end" fill="#333" stroke="#333">1.25</text>
<text x="288.4" y="743.8" font-size="4.5" text-anchor="end" fill="#333" stroke="#333">0.63</text>
<text x="288.4" y="757.6" font-size="4.5" text-anchor="end" fill="#333" stroke="#333">0.31</text>
<text x="288.4" y="771.4" font-size="4.5" text-anchor="end" fill="#333" stroke="#333">0.16</text>
<text x="288.4" y="785.2" font-size="4.5" text-anchor="end" fill="#333" stroke="#333">0</text>
<text x="375.6" y="769.9" font-size="8.2" text-anchor="end">ZIP: -3.36</text>
<text x="375.6" y="779.3" font-size="8.2" text-anchor="end"><tspan font-style="italic">P</tspan> = 3.33E-05</text>
<path d="M300,725.5 L368.2,719.9 L368.2,725.5 Z" fill="#000"/>
<path d="M271.5,728.9 L277.4,728.9 L277.4,782.9 Z" fill="#000"/>
<text x="332.8" y="715.5" font-size="9.25" text-anchor="middle">Palbociclib (μM)</text>
<text x="269.8" y="755.8" font-size="9.4" text-anchor="middle" transform="rotate(-90 269.8 755.8)">Pacritinib</text>
<rect x="360" y="727.7" width="17.2" height="12" fill="url(#pk)"/>
<defs><radialGradient id="pk" cx="1" cy="0" r="1"><stop offset="0" stop-color="#ffd0d0"/><stop offset="0.6" stop-color="#ffecec" stop-opacity="0.5"/><stop offset="1" stop-color="#fff" stop-opacity="0"/></radialGradient></defs>
<rect x="289.6" y="820.3" width="87.6" height="54.9" fill="url(#rr)"/>
<rect x="289.6" y="820.3" width="87.6" height="9" fill="url(#wt)"/>
<rect x="289.6" y="820.3" width="14" height="54.9" fill="url(#wl)"/>
<rect x="289.6" y="863.2" width="87.6" height="12" fill="url(#wb)"/>
<line x1="307.12" y1="820.3" x2="307.12" y2="875.2" stroke="#8a8a8a" stroke-width="0.4" stroke-dasharray="1.4,0.9"/>
<line x1="324.64" y1="820.3" x2="324.64" y2="875.2" stroke="#8a8a8a" stroke-width="0.4" stroke-dasharray="1.4,0.9"/>
<line x1="342.16" y1="820.3" x2="342.16" y2="875.2" stroke="#8a8a8a" stroke-width="0.4" stroke-dasharray="1.4,0.9"/>
<line x1="359.68" y1="820.3" x2="359.68" y2="875.2" stroke="#8a8a8a" stroke-width="0.4" stroke-dasharray="1.4,0.9"/>
<line x1="289.6" y1="834.02" x2="377.2" y2="834.02" stroke="#8a8a8a" stroke-width="0.4" stroke-dasharray="1.4,0.9"/>
<line x1="289.6" y1="847.75" x2="377.2" y2="847.75" stroke="#8a8a8a" stroke-width="0.4" stroke-dasharray="1.4,0.9"/>
<line x1="289.6" y1="861.48" x2="377.2" y2="861.48" stroke="#8a8a8a" stroke-width="0.4" stroke-dasharray="1.4,0.9"/>
<line x1="289.6" y1="820.3" x2="289.6" y2="875.2" stroke="#555" stroke-width="0.5"/>
<line x1="289.6" y1="875.2" x2="377.2" y2="875.2" stroke="#555" stroke-width="0.5"/>
<text x="289.6" y="881.5" font-size="4.5" text-anchor="middle" fill="#333" stroke="#333">0</text>
<text x="307.12" y="881.5" font-size="4.5" text-anchor="middle" fill="#333" stroke="#333">0.5</text>
<text x="324.64" y="881.5" font-size="4.5" text-anchor="middle" fill="#333" stroke="#333">1</text>
<text x="342.16" y="881.5" font-size="4.5" text-anchor="middle" fill="#333" stroke="#333">2</text>
<text x="359.68" y="881.5" font-size="4.5" text-anchor="middle" fill="#333" stroke="#333">4</text>
<text x="377.2" y="881.5" font-size="4.5" text-anchor="middle" fill="#333" stroke="#333">8</text>
<text x="288.4" y="822.6" font-size="4.5" text-anchor="end" fill="#333" stroke="#333">1.25</text>
<text x="288.4" y="836.32" font-size="4.5" text-anchor="end" fill="#333" stroke="#333">0.63</text>
<text x="288.4" y="850.05" font-size="4.5" text-anchor="end" fill="#333" stroke="#333">0.31</text>
<text x="288.4" y="863.77" font-size="4.5" text-anchor="end" fill="#333" stroke="#333">0.16</text>
<text x="288.4" y="877.5" font-size="4.5" text-anchor="end" fill="#333" stroke="#333">0</text>
<text x="375.6" y="862.2" font-size="8.2" text-anchor="end">ZIP: 11.4</text>
<text x="375.6" y="871.6" font-size="8.2" text-anchor="end"><tspan font-style="italic">P</tspan> = 2.08E-08</text>
<path d="M300,818.1 L368.2,812.5 L368.2,818.1 Z" fill="#000"/>
<path d="M271.5,821.5 L277.4,821.5 L277.4,875.2 Z" fill="#000"/>
<text x="332.8" y="809" font-size="9.25" text-anchor="middle">Abemaciclib (μM)</text>
<text x="269.8" y="848.25" font-size="9.4" text-anchor="middle" transform="rotate(-90 269.8 848.25)">Pacritinib</text>
<text x="383.5" y="719.7" font-size="17.5" font-weight="bold">K</text>
<text x="574.5" y="719.5" font-size="17.5" font-weight="bold">L</text>
<rect x="398.9" y="723.6" width="52.6" height="19.2" fill="none" stroke="#000" stroke-width="1"/>
<text x="425.2" y="736.6" font-size="9" text-anchor="middle">WHIM58</text>
<rect x="398.9" y="816.4" width="52.6" height="18.9" fill="none" stroke="#000" stroke-width="1"/>
<text x="425.2" y="829.3" font-size="9" text-anchor="middle">WHIM43</text>
<text x="426" y="754" font-size="9" text-anchor="middle"><tspan font-style="italic">AKT1</tspan> E17K</text>
<text x="426" y="765.8" font-size="9" text-anchor="middle"><tspan font-style="italic">TP53</tspan> R248W</text>
<text x="426" y="776.9" font-size="9" text-anchor="middle"><tspan font-style="italic">MYC</tspan> amp</text>
<text x="426" y="787.9" font-size="9" text-anchor="middle"><tspan font-style="italic">CCND1</tspan> amp</text>
<text x="426" y="847.4" font-size="9" text-anchor="middle"><tspan font-style="italic">RB1</tspan>-loss</text>
<line x1="395.8" y1="807" x2="685" y2="807" stroke="#c4c4c4" stroke-width="1.3" stroke-dasharray="4.5,3"/>
<text x="530.9" y="718.3" font-size="9" text-anchor="middle">Palbociclib [μM]</text>
<text x="647.6" y="718.3" font-size="9" text-anchor="middle">Pacritinib [μM]</text>
<line x1="492.9" y1="728.85" x2="492.9" y2="790" stroke="#000" stroke-width="1"/>
<line x1="492.4" y1="789.5" x2="564.8" y2="789.5" stroke="#000" stroke-width="1"/>
<line x1="490.7" y1="789.5" x2="492.9" y2="789.5" stroke="#000" stroke-width="1"/>
<text x="490.6" y="792.4" font-size="8" text-anchor="end">0.0</text>
<line x1="490.7" y1="769.45" x2="492.9" y2="769.45" stroke="#000" stroke-width="1"/>
<text x="490.6" y="772.35" font-size="8" text-anchor="end">0.5</text>
<line x1="490.7" y1="749.4" x2="492.9" y2="749.4" stroke="#000" stroke-width="1"/>
<text x="490.6" y="752.3" font-size="8" text-anchor="end">1.0</text>
<line x1="490.7" y1="729.35" x2="492.9" y2="729.35" stroke="#000" stroke-width="1"/>
<text x="490.6" y="732.25" font-size="8" text-anchor="end">1.5</text>
<line x1="492.9" y1="789.5" x2="492.9" y2="791.5" stroke="#000" stroke-width="0.9"/>
<text x="492.9" y="799.8" font-size="8" text-anchor="middle">0</text>
<line x1="528.25" y1="789.5" x2="528.25" y2="791.5" stroke="#000" stroke-width="0.9"/>
<text x="529.45" y="799.8" font-size="8" text-anchor="middle">10<tspan font-size="5" dy="-3">0</tspan></text>
<line x1="563.6" y1="789.5" x2="563.6" y2="791.5" stroke="#000" stroke-width="0.9"/>
<text x="564.8" y="799.8" font-size="8" text-anchor="middle">10<tspan font-size="5" dy="-3">1</tspan></text>
<text x="474" y="764.92" font-size="9" text-anchor="middle" transform="rotate(-90 474 764.92)">Relative viability</text>
<path d="M492.9,751.62 L494.67,751.65 L496.45,751.69 L498.22,751.72 L500,751.77 L501.77,751.81 L503.55,751.87 L505.32,751.93 L507.1,752 L508.88,752.08 L510.65,752.17 L512.42,752.27 L514.2,752.39 L515.98,752.52 L517.75,752.67 L519.52,752.84 L521.3,753.02 L523.07,753.24 L524.85,753.48 L526.62,753.75 L528.4,754.05 L530.17,754.39 L531.95,754.77 L533.73,755.2 L535.5,755.67 L537.27,756.21 L539.05,756.8 L540.82,757.46 L542.6,758.19 L544.38,758.99 L546.15,759.88 L547.92,760.85 L549.7,761.91 L551.48,763.06 L553.25,764.31 L555.02,765.65 L556.8,767.09 L558.57,768.63 L560.35,770.25 L562.12,771.96 L563.9,773.73" fill="none" stroke="#000" stroke-width="0.8"/>
<line x1="492.9" y1="742.58" x2="492.9" y2="756.22" stroke="#555" stroke-width="0.9"/>
<line x1="490.7" y1="742.58" x2="495.1" y2="742.58" stroke="#555" stroke-width="0.9"/>
<line x1="490.7" y1="756.22" x2="495.1" y2="756.22" stroke="#555" stroke-width="0.9"/>
<circle cx="492.9" cy="749.4" r="2.1" fill="#000"/>
<line x1="510.6" y1="745.79" x2="510.6" y2="756.22" stroke="#555" stroke-width="0.9"/>
<line x1="508.4" y1="745.79" x2="512.8" y2="745.79" stroke="#555" stroke-width="0.9"/>
<line x1="508.4" y1="756.22" x2="512.8" y2="756.22" stroke="#555" stroke-width="0.9"/>
<circle cx="510.6" cy="751" r="2.1" fill="#000"/>
<line x1="521" y1="745.59" x2="521" y2="756.82" stroke="#555" stroke-width="0.9"/>
<line x1="518.8" y1="745.59" x2="523.2" y2="745.59" stroke="#555" stroke-width="0.9"/>
<line x1="518.8" y1="756.82" x2="523.2" y2="756.82" stroke="#555" stroke-width="0.9"/>
<circle cx="521" cy="751.2" r="2.1" fill="#000"/>
<line x1="531.8" y1="761.03" x2="531.8" y2="763.43" stroke="#555" stroke-width="0.9"/>
<line x1="529.6" y1="761.03" x2="534" y2="761.03" stroke="#555" stroke-width="0.9"/>
<line x1="529.6" y1="763.43" x2="534" y2="763.43" stroke="#555" stroke-width="0.9"/>
<circle cx="531.8" cy="762.23" r="2.1" fill="#000"/>
<line x1="542.4" y1="753.41" x2="542.4" y2="758.22" stroke="#555" stroke-width="0.9"/>
<line x1="540.2" y1="753.41" x2="544.6" y2="753.41" stroke="#555" stroke-width="0.9"/>
<line x1="540.2" y1="758.22" x2="544.6" y2="758.22" stroke="#555" stroke-width="0.9"/>
<circle cx="542.4" cy="755.82" r="2.1" fill="#000"/>
<line x1="552.8" y1="757.42" x2="552.8" y2="761.43" stroke="#555" stroke-width="0.9"/>
<line x1="550.6" y1="757.42" x2="555" y2="757.42" stroke="#555" stroke-width="0.9"/>
<line x1="550.6" y1="761.43" x2="555" y2="761.43" stroke="#555" stroke-width="0.9"/>
<circle cx="552.8" cy="759.42" r="2.1" fill="#000"/>
<line x1="563.9" y1="770.25" x2="563.9" y2="779.07" stroke="#555" stroke-width="0.9"/>
<line x1="561.7" y1="770.25" x2="566.1" y2="770.25" stroke="#555" stroke-width="0.9"/>
<line x1="561.7" y1="779.07" x2="566.1" y2="779.07" stroke="#555" stroke-width="0.9"/>
<circle cx="563.9" cy="774.66" r="2.1" fill="#000"/>
<text x="495.5" y="786.5" font-size="7">IC<tspan font-size="4.8" dy="0.6">50</tspan><tspan dy="-0.6"> &gt; 5μM</tspan></text>
<line x1="492.9" y1="818.65" x2="492.9" y2="879.5" stroke="#000" stroke-width="1"/>
<line x1="492.4" y1="879" x2="564.8" y2="879" stroke="#000" stroke-width="1"/>
<line x1="490.7" y1="879" x2="492.9" y2="879" stroke="#000" stroke-width="1"/>
<text x="490.6" y="881.9" font-size="8" text-anchor="end">0.0</text>
<line x1="490.7" y1="859.05" x2="492.9" y2="859.05" stroke="#000" stroke-width="1"/>
<text x="490.6" y="861.95" font-size="8" text-anchor="end">0.5</text>
<line x1="490.7" y1="839.1" x2="492.9" y2="839.1" stroke="#000" stroke-width="1"/>
<text x="490.6" y="842" font-size="8" text-anchor="end">1.0</text>
<line x1="490.7" y1="819.15" x2="492.9" y2="819.15" stroke="#000" stroke-width="1"/>
<text x="490.6" y="822.05" font-size="8" text-anchor="end">1.5</text>
<line x1="492.9" y1="879" x2="492.9" y2="881" stroke="#000" stroke-width="0.9"/>
<text x="492.9" y="889.3" font-size="8" text-anchor="middle">0</text>
<line x1="528.25" y1="879" x2="528.25" y2="881" stroke="#000" stroke-width="0.9"/>
<text x="529.45" y="889.3" font-size="8" text-anchor="middle">10<tspan font-size="5" dy="-3">0</tspan></text>
<line x1="563.6" y1="879" x2="563.6" y2="881" stroke="#000" stroke-width="0.9"/>
<text x="564.8" y="889.3" font-size="8" text-anchor="middle">10<tspan font-size="5" dy="-3">1</tspan></text>
<text x="474" y="854.58" font-size="9" text-anchor="middle" transform="rotate(-90 474 854.58)">Relative viability</text>
<path d="M492.9,839.5 L494.67,839.5 L496.44,839.5 L498.22,839.5 L499.99,839.5 L501.76,839.5 L503.53,839.5 L505.31,839.5 L507.08,839.5 L508.85,839.5 L510.62,839.5 L512.4,839.5 L514.17,839.5 L515.94,839.5 L517.71,839.5 L519.49,839.5 L521.26,839.5 L523.03,839.5 L524.8,839.51 L526.58,839.52 L528.35,839.54 L530.12,839.58 L531.89,839.65 L533.67,839.79 L535.44,840.08 L537.21,840.62 L538.99,841.64 L540.76,843.44 L542.53,846.35 L544.3,850.46 L546.07,855.22 L547.85,859.66 L549.62,863.01 L551.39,865.17 L553.16,866.42 L554.94,867.1 L556.71,867.45 L558.48,867.64 L560.25,867.73 L562.03,867.78 L563.8,867.8" fill="none" stroke="#000" stroke-width="0.8"/>
<line x1="492.9" y1="837.11" x2="492.9" y2="841.1" stroke="#555" stroke-width="0.9"/>
<line x1="490.7" y1="837.11" x2="495.1" y2="837.11" stroke="#555" stroke-width="0.9"/>
<line x1="490.7" y1="841.1" x2="495.1" y2="841.1" stroke="#555" stroke-width="0.9"/>
<circle cx="492.9" cy="839.1" r="2.1" fill="#000"/>
<line x1="509.9" y1="837.11" x2="509.9" y2="841.89" stroke="#555" stroke-width="0.9"/>
<line x1="507.7" y1="837.11" x2="512.1" y2="837.11" stroke="#555" stroke-width="0.9"/>
<line x1="507.7" y1="841.89" x2="512.1" y2="841.89" stroke="#555" stroke-width="0.9"/>
<circle cx="509.9" cy="839.5" r="2.1" fill="#000"/>
<line x1="521.3" y1="838.7" x2="521.3" y2="840.3" stroke="#555" stroke-width="0.9"/>
<line x1="519.1" y1="838.7" x2="523.5" y2="838.7" stroke="#555" stroke-width="0.9"/>
<line x1="519.1" y1="840.3" x2="523.5" y2="840.3" stroke="#555" stroke-width="0.9"/>
<circle cx="521.3" cy="839.5" r="2.1" fill="#000"/>
<line x1="531.8" y1="837.5" x2="531.8" y2="842.29" stroke="#555" stroke-width="0.9"/>
<line x1="529.6" y1="837.5" x2="534" y2="837.5" stroke="#555" stroke-width="0.9"/>
<line x1="529.6" y1="842.29" x2="534" y2="842.29" stroke="#555" stroke-width="0.9"/>
<circle cx="531.8" cy="839.9" r="2.1" fill="#000"/>
<line x1="542.3" y1="842.69" x2="542.3" y2="851.47" stroke="#555" stroke-width="0.9"/>
<line x1="540.1" y1="842.69" x2="544.5" y2="842.69" stroke="#555" stroke-width="0.9"/>
<line x1="540.1" y1="851.47" x2="544.5" y2="851.47" stroke="#555" stroke-width="0.9"/>
<circle cx="542.3" cy="847.08" r="2.1" fill="#000"/>
<line x1="552.7" y1="863.84" x2="552.7" y2="867.03" stroke="#555" stroke-width="0.9"/>
<line x1="550.5" y1="863.84" x2="554.9" y2="863.84" stroke="#555" stroke-width="0.9"/>
<line x1="550.5" y1="867.03" x2="554.9" y2="867.03" stroke="#555" stroke-width="0.9"/>
<circle cx="552.7" cy="865.43" r="2.1" fill="#000"/>
<line x1="563.8" y1="866.63" x2="563.8" y2="868.23" stroke="#555" stroke-width="0.9"/>
<line x1="561.6" y1="866.63" x2="566" y2="866.63" stroke="#555" stroke-width="0.9"/>
<line x1="561.6" y1="868.23" x2="566" y2="868.23" stroke="#555" stroke-width="0.9"/>
<circle cx="563.8" cy="867.43" r="2.1" fill="#000"/>
<text x="495.5" y="876" font-size="7">IC<tspan font-size="4.8" dy="0.6">50</tspan><tspan dy="-0.6"> = 3 μM</tspan></text>
<line x1="609.3" y1="728.55" x2="609.3" y2="789.7" stroke="#000" stroke-width="1"/>
<line x1="608.8" y1="789.2" x2="680.5" y2="789.2" stroke="#000" stroke-width="1"/>
<line x1="607.1" y1="789.2" x2="609.3" y2="789.2" stroke="#000" stroke-width="1"/>
<text x="607" y="792.1" font-size="8" text-anchor="end">0.0</text>
<line x1="607.1" y1="769.15" x2="609.3" y2="769.15" stroke="#000" stroke-width="1"/>
<text x="607" y="772.05" font-size="8" text-anchor="end">0.5</text>
<line x1="607.1" y1="749.1" x2="609.3" y2="749.1" stroke="#000" stroke-width="1"/>
<text x="607" y="752" font-size="8" text-anchor="end">1.0</text>
<line x1="607.1" y1="729.05" x2="609.3" y2="729.05" stroke="#000" stroke-width="1"/>
<text x="607" y="731.95" font-size="8" text-anchor="end">1.5</text>
<line x1="609.3" y1="789.2" x2="609.3" y2="791.2" stroke="#000" stroke-width="0.9"/>
<text x="609.3" y="799.5" font-size="8" text-anchor="middle">0</text>
<line x1="644.3" y1="789.2" x2="644.3" y2="791.2" stroke="#000" stroke-width="0.9"/>
<text x="645.5" y="799.5" font-size="8" text-anchor="middle">10<tspan font-size="5" dy="-3">0</tspan></text>
<line x1="679.3" y1="789.2" x2="679.3" y2="791.2" stroke="#000" stroke-width="0.9"/>
<text x="680.5" y="799.5" font-size="8" text-anchor="middle">10<tspan font-size="5" dy="-3">1</tspan></text>
<text x="590.3" y="764.62" font-size="9" text-anchor="middle" transform="rotate(-90 590.3 764.62)">Relative viability</text>
<path d="M609.3,747.92 L610.8,747.93 L612.29,747.94 L613.79,747.96 L615.29,747.98 L616.79,748.01 L618.28,748.05 L619.78,748.1 L621.28,748.17 L622.78,748.27 L624.27,748.4 L625.77,748.58 L627.27,748.82 L628.77,749.14 L630.26,749.56 L631.76,750.12 L633.26,750.86 L634.76,751.82 L636.25,753.05 L637.75,754.59 L639.25,756.49 L640.75,758.75 L642.25,761.37 L643.74,764.28 L645.24,767.37 L646.74,770.52 L648.24,773.58 L649.73,776.42 L651.23,778.95 L652.73,781.12 L654.23,782.92 L655.72,784.38 L657.22,785.54 L658.72,786.44 L660.22,787.13 L661.71,787.65 L663.21,788.05 L664.71,788.35 L666.21,788.57 L667.7,788.73 L669.2,788.85" fill="none" stroke="#000" stroke-width="0.8"/>
<line x1="609.3" y1="740.68" x2="609.3" y2="757.52" stroke="#555" stroke-width="0.9"/>
<line x1="607.1" y1="740.68" x2="611.5" y2="740.68" stroke="#555" stroke-width="0.9"/>
<line x1="607.1" y1="757.52" x2="611.5" y2="757.52" stroke="#555" stroke-width="0.9"/>
<circle cx="609.3" cy="749.1" r="2.1" fill="#000"/>
<line x1="626.7" y1="737.07" x2="626.7" y2="757.92" stroke="#555" stroke-width="0.9"/>
<line x1="624.5" y1="737.07" x2="628.9" y2="737.07" stroke="#555" stroke-width="0.9"/>
<line x1="624.5" y1="757.92" x2="628.9" y2="757.92" stroke="#555" stroke-width="0.9"/>
<circle cx="626.7" cy="747.5" r="2.1" fill="#000"/>
<line x1="637.7" y1="744.69" x2="637.7" y2="765.54" stroke="#555" stroke-width="0.9"/>
<line x1="635.5" y1="744.69" x2="639.9" y2="744.69" stroke="#555" stroke-width="0.9"/>
<line x1="635.5" y1="765.54" x2="639.9" y2="765.54" stroke="#555" stroke-width="0.9"/>
<circle cx="637.7" cy="755.12" r="2.1" fill="#000"/>
<line x1="648.2" y1="769.95" x2="648.2" y2="777.97" stroke="#555" stroke-width="0.9"/>
<line x1="646" y1="769.95" x2="650.4" y2="769.95" stroke="#555" stroke-width="0.9"/>
<line x1="646" y1="777.97" x2="650.4" y2="777.97" stroke="#555" stroke-width="0.9"/>
<circle cx="648.2" cy="773.96" r="2.1" fill="#000"/>
<line x1="658.7" y1="781.58" x2="658.7" y2="785.59" stroke="#555" stroke-width="0.9"/>
<line x1="656.5" y1="781.58" x2="660.9" y2="781.58" stroke="#555" stroke-width="0.9"/>
<line x1="656.5" y1="785.59" x2="660.9" y2="785.59" stroke="#555" stroke-width="0.9"/>
<circle cx="658.7" cy="783.59" r="2.1" fill="#000"/>
<circle cx="669.2" cy="788.8" r="2.1" fill="#000"/>
<text x="611.9" y="786.2" font-size="7">IC<tspan font-size="4.8" dy="0.6">50</tspan><tspan dy="-0.6"> = 1μM</tspan></text>
<line x1="609.3" y1="818.65" x2="609.3" y2="879.5" stroke="#000" stroke-width="1"/>
<line x1="608.8" y1="879" x2="680.5" y2="879" stroke="#000" stroke-width="1"/>
<line x1="607.1" y1="879" x2="609.3" y2="879" stroke="#000" stroke-width="1"/>
<text x="607" y="881.9" font-size="8" text-anchor="end">0.0</text>
<line x1="607.1" y1="859.05" x2="609.3" y2="859.05" stroke="#000" stroke-width="1"/>
<text x="607" y="861.95" font-size="8" text-anchor="end">0.5</text>
<line x1="607.1" y1="839.1" x2="609.3" y2="839.1" stroke="#000" stroke-width="1"/>
<text x="607" y="842" font-size="8" text-anchor="end">1.0</text>
<line x1="607.1" y1="819.15" x2="609.3" y2="819.15" stroke="#000" stroke-width="1"/>
<text x="607" y="822.05" font-size="8" text-anchor="end">1.5</text>
<line x1="609.3" y1="879" x2="609.3" y2="881" stroke="#000" stroke-width="0.9"/>
<text x="609.3" y="889.3" font-size="8" text-anchor="middle">0</text>
<line x1="644.3" y1="879" x2="644.3" y2="881" stroke="#000" stroke-width="0.9"/>
<text x="645.5" y="889.3" font-size="8" text-anchor="middle">10<tspan font-size="5" dy="-3">0</tspan></text>
<line x1="679.3" y1="879" x2="679.3" y2="881" stroke="#000" stroke-width="0.9"/>
<text x="680.5" y="889.3" font-size="8" text-anchor="middle">10<tspan font-size="5" dy="-3">1</tspan></text>
<text x="590.3" y="854.58" font-size="9" text-anchor="middle" transform="rotate(-90 590.3 854.58)">Relative viability</text>
<path d="M609.3,836.31 L610.8,836.31 L612.29,836.32 L613.79,836.32 L615.29,836.33 L616.79,836.33 L618.28,836.34 L619.78,836.35 L621.28,836.37 L622.78,836.39 L624.27,836.42 L625.77,836.46 L627.27,836.51 L628.77,836.58 L630.26,836.67 L631.76,836.8 L633.26,836.97 L634.76,837.2 L636.25,837.5 L637.75,837.9 L639.25,838.43 L640.75,839.12 L642.25,840.02 L643.74,841.17 L645.24,842.62 L646.74,844.4 L648.24,846.55 L649.73,849.06 L651.23,851.89 L652.73,854.95 L654.23,858.13 L655.72,861.29 L657.22,864.3 L658.72,867.04 L660.22,869.44 L661.71,871.48 L663.21,873.16 L664.71,874.51 L666.21,875.58 L667.7,876.41 L669.2,877.05" fill="none" stroke="#000" stroke-width="0.8"/>
<circle cx="609.3" cy="839.1" r="2.1" fill="#000"/>
<circle cx="627.3" cy="836.31" r="2.1" fill="#000"/>
<line x1="637.7" y1="832.72" x2="637.7" y2="837.5" stroke="#555" stroke-width="0.9"/>
<line x1="635.5" y1="832.72" x2="639.9" y2="832.72" stroke="#555" stroke-width="0.9"/>
<line x1="635.5" y1="837.5" x2="639.9" y2="837.5" stroke="#555" stroke-width="0.9"/>
<circle cx="637.7" cy="835.11" r="2.1" fill="#000"/>
<line x1="648.5" y1="839.1" x2="648.5" y2="858.25" stroke="#555" stroke-width="0.9"/>
<line x1="646.3" y1="839.1" x2="650.7" y2="839.1" stroke="#555" stroke-width="0.9"/>
<line x1="646.3" y1="858.25" x2="650.7" y2="858.25" stroke="#555" stroke-width="0.9"/>
<circle cx="648.5" cy="848.68" r="2.1" fill="#000"/>
<line x1="659" y1="859.45" x2="659" y2="871.42" stroke="#555" stroke-width="0.9"/>
<line x1="656.8" y1="859.45" x2="661.2" y2="859.45" stroke="#555" stroke-width="0.9"/>
<line x1="656.8" y1="871.42" x2="661.2" y2="871.42" stroke="#555" stroke-width="0.9"/>
<circle cx="659" cy="865.43" r="2.1" fill="#000"/>
<circle cx="669.2" cy="879" r="2.1" fill="#000"/>
<text x="611.9" y="876" font-size="7">IC<tspan font-size="4.8" dy="0.6">50</tspan><tspan dy="-0.6"> = 1.9 μM</tspan></text>
</svg></body></html>
